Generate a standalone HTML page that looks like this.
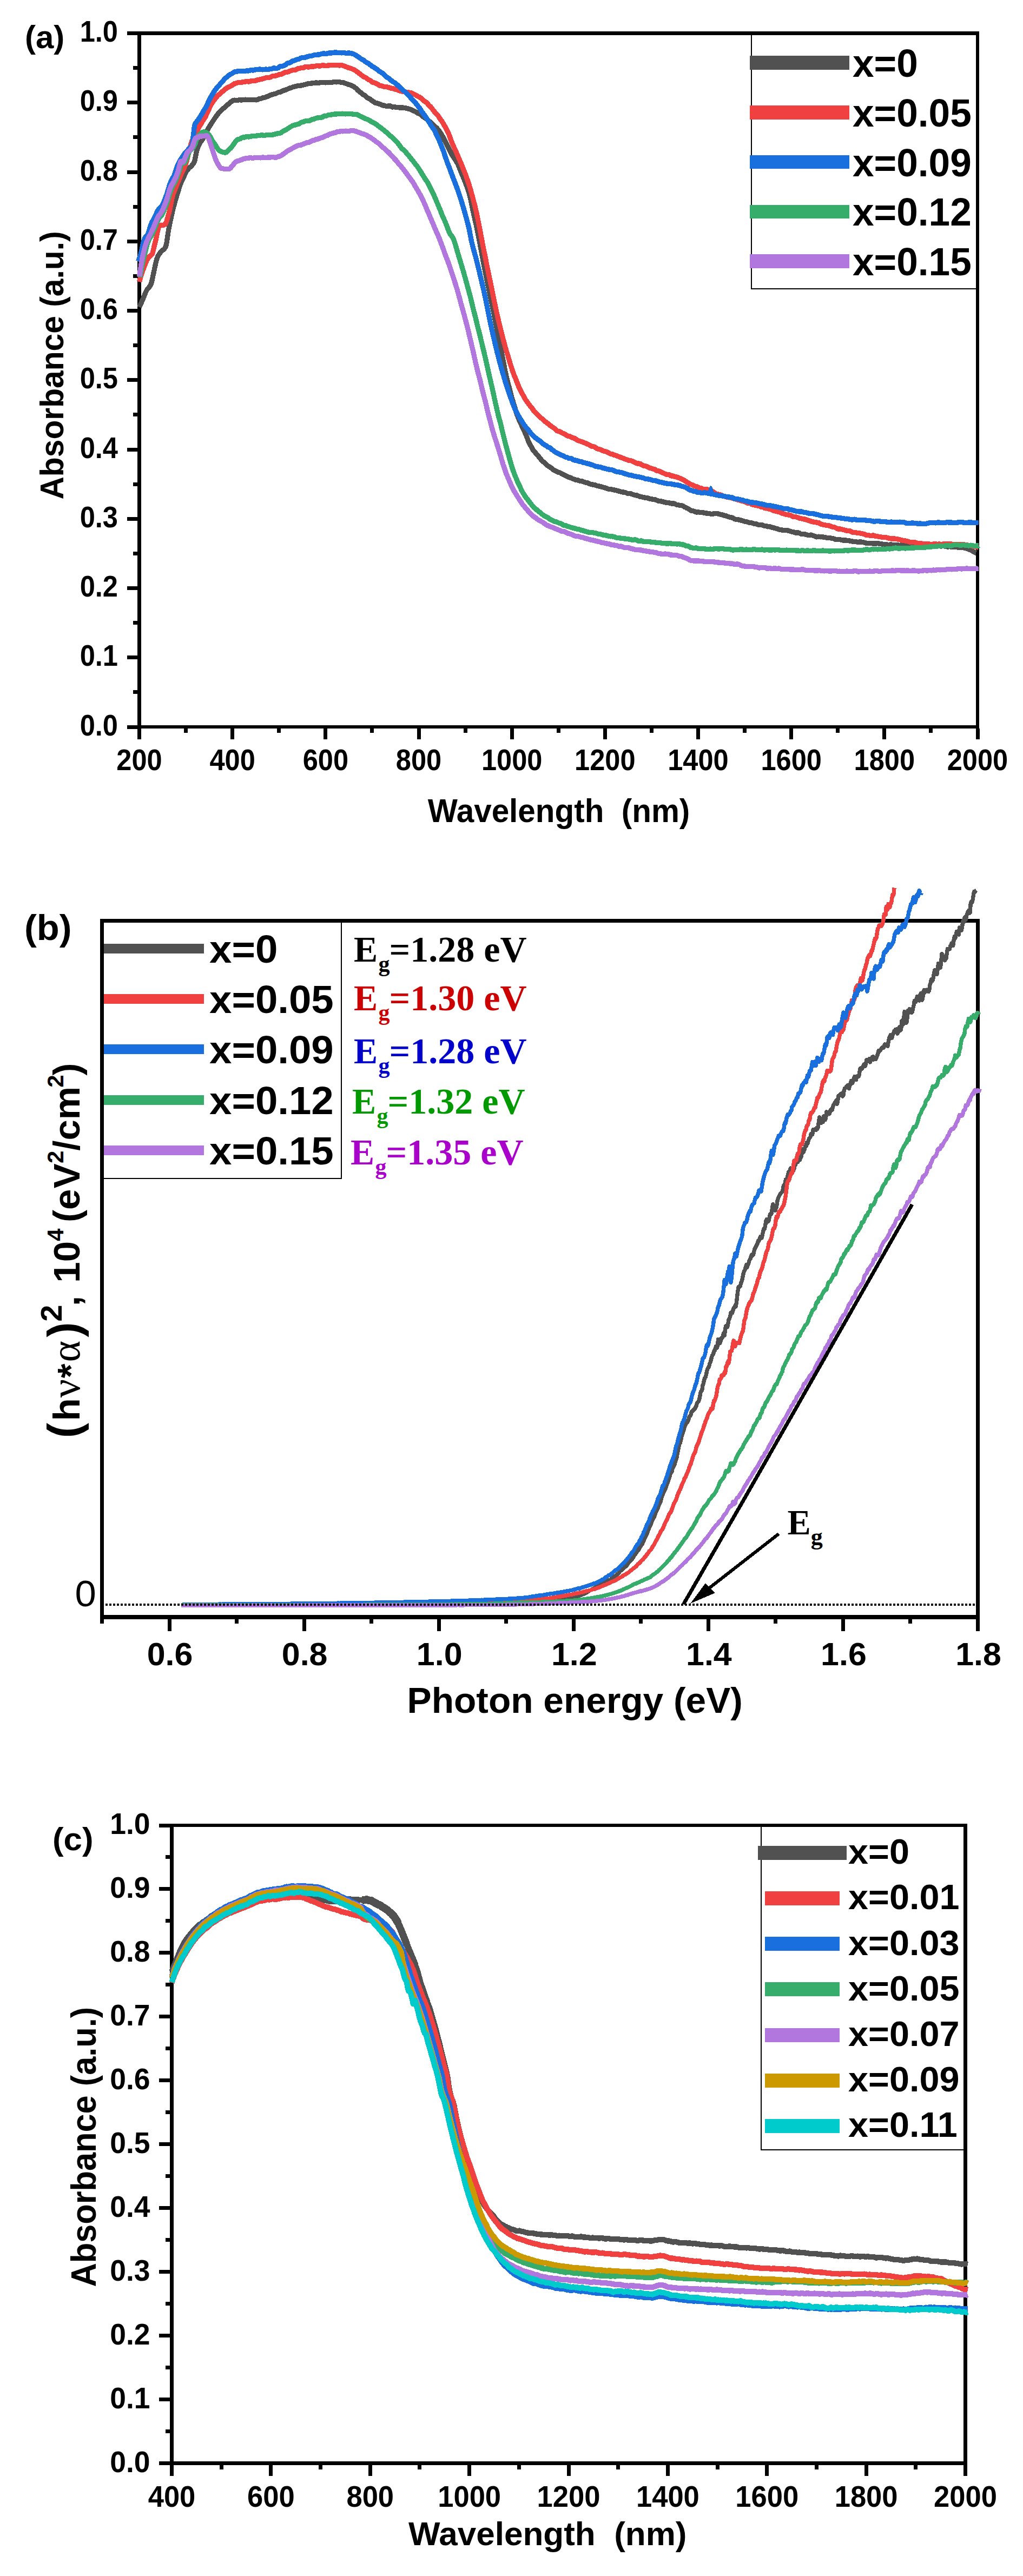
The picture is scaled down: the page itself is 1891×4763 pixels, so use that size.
<!DOCTYPE html>
<html><head><meta charset="utf-8"><title>Absorbance spectra</title>
<style>
html,body{margin:0;padding:0;background:#fff;overflow:hidden;width:1891px;height:4763px;}
svg{display:block;}
text{white-space:pre;}
</style></head><body>
<svg width="1891" height="4763" viewBox="0 0 1891 4763" shape-rendering="crispEdges">
<rect x="0" y="0" width="1891" height="4763" fill="#fff"/>

<rect x="254" y="58" width="7" height="1289" fill="#000"/>
<rect x="1804" y="58" width="6" height="1289" fill="#000"/>
<rect x="254" y="58" width="1556" height="7" fill="#000"/>
<rect x="254" y="1341" width="1556" height="6" fill="#000"/>
<rect x="235" y="1340.5" width="19" height="7" fill="#000"/>
<text transform="translate(218 1359.7) scale(0.912 1)" font-family='"Liberation Sans", Arial, Helvetica, sans-serif' font-size="55.5" font-weight="bold" text-anchor="end" fill="#000">0.0</text>
<rect x="246" y="1276.38" width="8" height="7" fill="#000"/>
<rect x="235" y="1212.25" width="19" height="7" fill="#000"/>
<text transform="translate(218 1231.45) scale(0.912 1)" font-family='"Liberation Sans", Arial, Helvetica, sans-serif' font-size="55.5" font-weight="bold" text-anchor="end" fill="#000">0.1</text>
<rect x="246" y="1148.12" width="8" height="7" fill="#000"/>
<rect x="235" y="1084" width="19" height="7" fill="#000"/>
<text transform="translate(218 1103.2) scale(0.912 1)" font-family='"Liberation Sans", Arial, Helvetica, sans-serif' font-size="55.5" font-weight="bold" text-anchor="end" fill="#000">0.2</text>
<rect x="246" y="1019.88" width="8" height="7" fill="#000"/>
<rect x="235" y="955.75" width="19" height="7" fill="#000"/>
<text transform="translate(218 974.95) scale(0.912 1)" font-family='"Liberation Sans", Arial, Helvetica, sans-serif' font-size="55.5" font-weight="bold" text-anchor="end" fill="#000">0.3</text>
<rect x="246" y="891.625" width="8" height="7" fill="#000"/>
<rect x="235" y="827.5" width="19" height="7" fill="#000"/>
<text transform="translate(218 846.7) scale(0.912 1)" font-family='"Liberation Sans", Arial, Helvetica, sans-serif' font-size="55.5" font-weight="bold" text-anchor="end" fill="#000">0.4</text>
<rect x="246" y="763.375" width="8" height="7" fill="#000"/>
<rect x="235" y="699.25" width="19" height="7" fill="#000"/>
<text transform="translate(218 718.45) scale(0.912 1)" font-family='"Liberation Sans", Arial, Helvetica, sans-serif' font-size="55.5" font-weight="bold" text-anchor="end" fill="#000">0.5</text>
<rect x="246" y="635.125" width="8" height="7" fill="#000"/>
<rect x="235" y="571" width="19" height="7" fill="#000"/>
<text transform="translate(218 590.2) scale(0.912 1)" font-family='"Liberation Sans", Arial, Helvetica, sans-serif' font-size="55.5" font-weight="bold" text-anchor="end" fill="#000">0.6</text>
<rect x="246" y="506.875" width="8" height="7" fill="#000"/>
<rect x="235" y="442.75" width="19" height="7" fill="#000"/>
<text transform="translate(218 461.95) scale(0.912 1)" font-family='"Liberation Sans", Arial, Helvetica, sans-serif' font-size="55.5" font-weight="bold" text-anchor="end" fill="#000">0.7</text>
<rect x="246" y="378.625" width="8" height="7" fill="#000"/>
<rect x="235" y="314.5" width="19" height="7" fill="#000"/>
<text transform="translate(218 333.7) scale(0.912 1)" font-family='"Liberation Sans", Arial, Helvetica, sans-serif' font-size="55.5" font-weight="bold" text-anchor="end" fill="#000">0.8</text>
<rect x="246" y="250.375" width="8" height="7" fill="#000"/>
<rect x="235" y="186.25" width="19" height="7" fill="#000"/>
<text transform="translate(218 205.45) scale(0.912 1)" font-family='"Liberation Sans", Arial, Helvetica, sans-serif' font-size="55.5" font-weight="bold" text-anchor="end" fill="#000">0.9</text>
<rect x="246" y="122.125" width="8" height="7" fill="#000"/>
<rect x="235" y="58" width="19" height="7" fill="#000"/>
<text transform="translate(218 77.2) scale(0.912 1)" font-family='"Liberation Sans", Arial, Helvetica, sans-serif' font-size="55.5" font-weight="bold" text-anchor="end" fill="#000">1.0</text>
<rect x="254" y="1347" width="7" height="20" fill="#000"/>
<text transform="translate(257.5 1424) scale(0.925 1)" font-family='"Liberation Sans", Arial, Helvetica, sans-serif' font-size="54.7" font-weight="bold" text-anchor="middle" fill="#000">200</text>
<rect x="340.083" y="1347" width="7" height="7.5" fill="#000"/>
<rect x="426.167" y="1347" width="7" height="20" fill="#000"/>
<text transform="translate(429.667 1424) scale(0.925 1)" font-family='"Liberation Sans", Arial, Helvetica, sans-serif' font-size="54.7" font-weight="bold" text-anchor="middle" fill="#000">400</text>
<rect x="512.25" y="1347" width="7" height="7.5" fill="#000"/>
<rect x="598.333" y="1347" width="7" height="20" fill="#000"/>
<text transform="translate(601.833 1424) scale(0.925 1)" font-family='"Liberation Sans", Arial, Helvetica, sans-serif' font-size="54.7" font-weight="bold" text-anchor="middle" fill="#000">600</text>
<rect x="684.417" y="1347" width="7" height="7.5" fill="#000"/>
<rect x="770.5" y="1347" width="7" height="20" fill="#000"/>
<text transform="translate(774 1424) scale(0.925 1)" font-family='"Liberation Sans", Arial, Helvetica, sans-serif' font-size="54.7" font-weight="bold" text-anchor="middle" fill="#000">800</text>
<rect x="856.583" y="1347" width="7" height="7.5" fill="#000"/>
<rect x="942.667" y="1347" width="7" height="20" fill="#000"/>
<text transform="translate(946.167 1424) scale(0.925 1)" font-family='"Liberation Sans", Arial, Helvetica, sans-serif' font-size="54.7" font-weight="bold" text-anchor="middle" fill="#000">1000</text>
<rect x="1028.75" y="1347" width="7" height="7.5" fill="#000"/>
<rect x="1114.83" y="1347" width="7" height="20" fill="#000"/>
<text transform="translate(1118.33 1424) scale(0.925 1)" font-family='"Liberation Sans", Arial, Helvetica, sans-serif' font-size="54.7" font-weight="bold" text-anchor="middle" fill="#000">1200</text>
<rect x="1200.92" y="1347" width="7" height="7.5" fill="#000"/>
<rect x="1287" y="1347" width="7" height="20" fill="#000"/>
<text transform="translate(1290.5 1424) scale(0.925 1)" font-family='"Liberation Sans", Arial, Helvetica, sans-serif' font-size="54.7" font-weight="bold" text-anchor="middle" fill="#000">1400</text>
<rect x="1373.08" y="1347" width="7" height="7.5" fill="#000"/>
<rect x="1459.17" y="1347" width="7" height="20" fill="#000"/>
<text transform="translate(1462.67 1424) scale(0.925 1)" font-family='"Liberation Sans", Arial, Helvetica, sans-serif' font-size="54.7" font-weight="bold" text-anchor="middle" fill="#000">1600</text>
<rect x="1545.25" y="1347" width="7" height="7.5" fill="#000"/>
<rect x="1631.33" y="1347" width="7" height="20" fill="#000"/>
<text transform="translate(1634.83 1424) scale(0.925 1)" font-family='"Liberation Sans", Arial, Helvetica, sans-serif' font-size="54.7" font-weight="bold" text-anchor="middle" fill="#000">1800</text>
<rect x="1717.42" y="1347" width="7" height="7.5" fill="#000"/>
<rect x="1803.5" y="1347" width="7" height="20" fill="#000"/>
<text transform="translate(1807 1424) scale(0.925 1)" font-family='"Liberation Sans", Arial, Helvetica, sans-serif' font-size="54.7" font-weight="bold" text-anchor="middle" fill="#000">2000</text>
<text transform="translate(46 88.5)" font-family='"Liberation Sans", Arial, Helvetica, sans-serif' font-size="60" font-weight="bold" text-anchor="start" fill="#000">(a)</text>
<text transform="translate(1033 1519.5) scale(0.95 1)" font-family='"Liberation Sans", Arial, Helvetica, sans-serif' font-size="61.5" font-weight="bold" text-anchor="middle" fill="#000">Wavelength  (nm)</text>
<text transform="translate(117 675.5) rotate(-90) scale(0.968 1)" font-family='"Liberation Sans", Arial, Helvetica, sans-serif' font-size="60.7" font-weight="bold" text-anchor="middle" fill="#000">Absorbance (a.u.)</text>
<path d="M257.6,568.0 L259.6,563.7 L261.6,559.1 L263.6,554.3 L265.6,549.4 L267.6,544.5 L269.6,539.8 L271.6,535.8 L273.6,533.2 L275.6,531.0 L277.6,528.2 L279.6,524.1 L281.6,516.1 L283.6,506.2 L285.6,497.3 L287.6,487.8 L289.6,479.4 L291.6,474.3 L293.6,470.9 L295.6,468.0 L297.6,465.7 L299.6,463.4 L301.6,462.0 L303.6,460.2 L305.6,457.5 L307.6,451.8 L309.6,438.4 L311.6,425.1 L313.6,414.6 L315.6,405.2 L317.6,396.3 L319.6,387.7 L321.6,379.9 L323.6,372.6 L325.6,365.8 L327.6,359.1 L329.6,352.7 L331.6,346.3 L333.6,340.3 L335.6,335.6 L337.6,331.6 L339.6,327.4 L341.6,322.8 L343.6,318.4 L345.6,315.3 L347.6,313.0 L349.6,310.7 L351.6,308.9 L353.6,307.1 L355.6,304.9 L357.6,302.2 L359.6,298.4 L361.6,288.4 L363.6,278.5 L365.6,273.1 L367.6,268.3 L369.6,264.3 L371.6,261.6 L373.6,259.0 L375.6,255.6 L377.6,251.5 L379.6,247.3 L381.6,243.7 L383.6,240.2 L385.6,236.6 L387.6,233.3 L389.6,230.2 L391.6,226.8 L393.6,223.9 L395.6,220.9 L397.6,217.8 L399.6,215.1 L401.6,212.3 L403.6,209.8 L405.6,207.7 L407.6,205.4 L409.6,203.2 L411.6,201.3 L413.6,199.9 L415.6,198.6 L417.6,196.8 L419.6,194.8 L421.6,192.9 L423.6,191.3 L425.6,189.8 L427.6,187.9 L429.6,186.3 L431.6,185.5 L433.6,185.1 L435.6,185.3 L437.6,185.3 L439.6,185.2 L441.6,184.9 L443.6,184.8 L445.6,185.0 L447.6,184.9 L449.6,184.7 L451.6,184.3 L453.6,184.1 L455.6,184.4 L457.6,184.7 L459.6,184.7 L461.6,184.5 L463.6,184.6 L465.6,184.6 L467.6,184.6 L469.6,184.5 L471.6,184.6 L473.6,184.9 L475.6,184.5 L477.6,183.4 L479.6,182.5 L481.6,182.3 L483.6,181.8 L485.6,181.0 L487.6,180.7 L489.6,180.2 L491.6,179.3 L493.6,178.7 L495.6,178.0 L497.6,176.9 L499.6,176.0 L501.6,175.4 L503.6,174.7 L505.6,174.1 L507.6,173.7 L509.6,173.2 L511.6,172.2 L513.6,171.2 L515.6,170.6 L517.6,170.2 L519.6,169.7 L521.6,168.4 L523.6,167.5 L525.6,167.0 L527.6,166.4 L529.6,165.7 L531.6,164.8 L533.6,163.7 L535.6,163.0 L537.6,162.5 L539.6,161.7 L541.6,160.7 L543.6,160.2 L545.6,159.9 L547.6,159.4 L549.6,158.9 L551.6,158.7 L553.6,158.8 L555.6,158.4 L557.6,157.7 L559.6,157.4 L561.6,156.9 L563.6,156.3 L565.6,155.9 L567.6,155.3 L569.6,154.7 L571.6,154.6 L573.6,154.3 L575.6,154.0 L577.6,153.9 L579.6,153.7 L581.6,153.2 L583.6,152.9 L585.6,153.0 L587.6,153.5 L589.6,153.3 L591.6,152.5 L593.6,152.4 L595.6,152.5 L597.6,152.4 L599.6,152.6 L601.6,152.9 L603.6,152.5 L605.6,152.2 L607.6,152.5 L609.6,152.4 L611.6,152.3 L613.6,152.3 L615.6,151.8 L617.6,151.3 L619.6,151.5 L621.6,151.9 L623.6,151.8 L625.6,151.4 L627.6,151.5 L629.6,152.1 L631.6,152.4 L633.6,152.4 L635.6,153.0 L637.6,153.9 L639.6,154.6 L641.6,155.3 L643.6,156.0 L645.6,156.6 L647.6,157.3 L649.6,158.1 L651.6,158.9 L653.6,160.1 L655.6,161.3 L657.6,163.0 L659.6,165.0 L661.6,167.1 L663.6,168.9 L665.6,170.4 L667.6,171.8 L669.6,173.5 L671.6,175.0 L673.6,176.1 L675.6,177.6 L677.6,179.6 L679.6,181.3 L681.6,182.0 L683.6,183.0 L685.6,184.7 L687.6,186.2 L689.6,187.3 L691.6,188.7 L693.6,190.1 L695.6,190.7 L697.6,191.0 L699.6,191.7 L701.6,192.4 L703.6,193.1 L705.6,194.1 L707.6,194.9 L709.6,195.0 L711.6,195.5 L713.6,196.2 L715.6,196.2 L717.6,196.0 L719.6,195.9 L721.6,195.9 L723.6,197.0 L725.6,198.0 L727.6,197.8 L729.6,197.8 L731.6,198.3 L733.6,198.2 L735.6,198.3 L737.6,198.9 L739.6,199.2 L741.6,199.1 L743.6,198.8 L745.6,199.2 L747.6,199.3 L749.6,199.6 L751.6,200.4 L753.6,200.8 L755.6,201.3 L757.6,201.9 L759.6,202.5 L761.6,203.5 L763.6,204.8 L765.6,205.6 L767.6,206.2 L769.6,207.4 L771.6,208.9 L773.6,209.9 L775.6,210.7 L777.6,211.9 L779.6,213.5 L781.6,215.3 L783.6,217.0 L785.6,218.3 L787.6,219.4 L789.6,220.9 L791.6,222.7 L793.6,224.3 L795.6,225.7 L797.6,227.4 L799.6,229.5 L801.6,231.7 L803.6,233.4 L805.6,235.2 L807.6,237.1 L809.6,239.2 L811.6,241.9 L813.6,244.7 L815.6,247.8 L817.6,251.2 L819.6,254.6 L821.6,258.6 L823.6,262.9 L825.6,267.0 L827.6,270.8 L829.6,274.4 L831.6,278.4 L833.6,282.8 L835.6,286.6 L837.6,289.6 L839.6,292.5 L841.6,295.7 L843.6,298.8 L845.6,302.1 L847.6,306.4 L849.6,311.6 L851.6,316.6 L853.6,321.3 L855.6,326.0 L857.6,330.9 L859.6,335.9 L861.6,341.2 L863.6,346.9 L865.6,352.3 L867.6,358.6 L869.6,367.1 L871.6,376.8 L873.6,386.8 L875.6,396.0 L877.6,404.6 L879.6,413.1 L881.6,422.4 L883.6,432.6 L885.6,442.9 L887.6,453.2 L889.6,463.8 L891.6,474.9 L893.6,485.8 L895.6,496.0 L897.6,506.0 L899.6,515.9 L901.6,525.5 L903.6,535.0 L905.6,544.6 L907.6,554.3 L909.6,564.0 L911.6,573.2 L913.6,583.0 L915.6,593.7 L917.6,603.9 L919.6,613.7 L921.6,623.8 L923.6,633.4 L925.6,643.3 L927.6,653.7 L929.6,664.3 L931.6,674.6 L933.6,684.8 L935.6,694.3 L937.6,702.5 L939.6,710.2 L941.6,717.8 L943.6,725.6 L945.6,733.4 L947.6,740.3 L949.6,746.7 L951.6,753.2 L953.6,760.2 L955.6,766.5 L957.6,771.6 L959.6,776.3 L961.6,781.0 L963.6,785.2 L965.6,789.4 L967.6,793.8 L969.6,798.1 L971.6,802.6 L973.6,807.2 L975.6,812.8 L977.6,818.0 L979.6,821.5 L981.6,825.1 L983.6,829.0 L985.6,832.3 L987.6,834.7 L989.6,837.0 L991.6,839.6 L993.6,841.9 L995.6,844.0 L997.6,846.4 L999.6,849.1 L1001.6,851.3 L1003.6,853.2 L1005.6,855.0 L1007.6,856.7 L1009.6,858.8 L1011.6,860.7 L1013.6,861.9 L1015.6,863.1 L1017.6,864.4 L1019.6,865.8 L1021.6,867.6 L1023.6,869.1 L1025.6,870.1 L1027.6,871.1 L1029.6,872.3 L1031.6,873.0 L1033.6,873.5 L1035.6,874.2 L1037.6,875.5 L1039.6,876.7 L1041.6,877.6 L1043.6,878.6 L1045.6,879.6 L1047.6,880.6 L1049.6,881.5 L1051.6,882.4 L1053.6,883.1 L1055.6,883.7 L1057.6,884.8 L1059.6,885.6 L1061.6,886.2 L1063.6,887.2 L1065.6,887.6 L1067.6,887.5 L1069.6,888.4 L1071.6,889.3 L1073.6,889.5 L1075.6,889.7 L1077.6,890.5 L1079.6,891.2 L1081.6,891.9 L1083.6,892.3 L1085.6,892.7 L1087.6,893.5 L1089.6,894.4 L1091.6,895.2 L1093.6,895.8 L1095.6,896.0 L1097.6,896.2 L1099.6,896.7 L1101.6,897.5 L1103.6,898.3 L1105.6,898.8 L1107.6,899.0 L1109.6,899.5 L1111.6,900.0 L1113.6,900.4 L1115.6,901.3 L1117.6,901.9 L1119.6,902.2 L1121.6,903.0 L1123.6,903.9 L1125.6,904.3 L1127.6,904.5 L1129.6,904.7 L1131.6,905.2 L1133.6,905.7 L1135.6,906.0 L1137.6,906.4 L1139.6,906.9 L1141.6,907.3 L1143.6,908.1 L1145.6,908.8 L1147.6,909.1 L1149.6,909.7 L1151.6,910.1 L1153.6,910.1 L1155.6,910.5 L1157.6,911.3 L1159.6,912.2 L1161.6,912.7 L1163.6,912.6 L1165.6,912.6 L1167.6,913.5 L1169.6,914.2 L1171.6,914.8 L1173.6,915.6 L1175.6,915.9 L1177.6,916.0 L1179.6,916.8 L1181.6,917.8 L1183.6,918.3 L1185.6,918.5 L1187.6,919.1 L1189.6,919.8 L1191.6,920.1 L1193.6,920.2 L1195.6,920.5 L1197.6,921.0 L1199.6,921.8 L1201.6,922.2 L1203.6,922.3 L1205.6,923.0 L1207.6,923.8 L1209.6,923.6 L1211.6,923.8 L1213.6,924.9 L1215.6,925.8 L1217.6,926.2 L1219.6,926.4 L1221.6,926.7 L1223.6,927.4 L1225.6,927.9 L1227.6,928.2 L1229.6,928.8 L1231.6,929.2 L1233.6,929.2 L1235.6,929.4 L1237.6,930.1 L1239.6,930.6 L1241.6,931.0 L1243.6,931.0 L1245.6,930.8 L1247.6,931.7 L1249.6,932.9 L1251.6,933.4 L1253.6,933.6 L1255.6,934.1 L1257.6,934.6 L1259.6,934.8 L1261.6,935.1 L1263.6,936.2 L1265.6,937.4 L1267.6,938.2 L1269.6,939.4 L1271.6,940.3 L1273.6,941.3 L1275.6,943.0 L1277.6,944.2 L1279.6,944.7 L1281.6,944.9 L1283.6,945.3 L1285.6,946.5 L1287.6,947.1 L1289.6,946.8 L1291.6,946.9 L1293.6,947.5 L1295.6,947.7 L1297.6,947.7 L1299.6,947.8 L1301.6,948.2 L1303.6,948.7 L1305.6,949.0 L1307.6,949.1 L1309.6,949.3 L1311.6,949.7 L1313.6,950.2 L1315.6,950.6 L1317.6,950.3 L1319.6,949.7 L1321.6,949.5 L1323.6,949.7 L1325.6,949.8 L1327.6,950.0 L1329.6,950.6 L1331.6,951.2 L1333.6,951.5 L1335.6,952.0 L1337.6,952.9 L1339.6,953.2 L1341.6,953.6 L1343.6,954.5 L1345.6,955.2 L1347.6,955.9 L1349.6,956.5 L1351.6,956.8 L1353.6,957.2 L1355.6,958.2 L1357.6,959.6 L1359.6,960.3 L1361.6,960.5 L1363.6,960.8 L1365.6,961.0 L1367.6,961.3 L1369.6,962.1 L1371.6,962.7 L1373.6,963.2 L1375.6,963.9 L1377.6,964.3 L1379.6,964.5 L1381.6,965.1 L1383.6,965.9 L1385.6,966.3 L1387.6,966.3 L1389.6,966.8 L1391.6,967.6 L1393.6,968.2 L1395.6,968.3 L1397.6,968.7 L1399.6,969.5 L1401.6,970.2 L1403.6,970.8 L1405.6,970.8 L1407.6,970.4 L1409.6,971.0 L1411.6,972.0 L1413.6,972.3 L1415.6,972.4 L1417.6,973.1 L1419.6,973.9 L1421.6,973.8 L1423.6,974.0 L1425.6,974.8 L1427.6,975.3 L1429.6,975.8 L1431.6,976.3 L1433.6,976.8 L1435.6,977.4 L1437.6,978.1 L1439.6,978.9 L1441.6,979.4 L1443.6,979.7 L1445.6,980.1 L1447.6,980.2 L1449.6,980.2 L1451.6,980.3 L1453.6,980.6 L1455.6,980.9 L1457.6,981.2 L1459.6,981.9 L1461.6,982.5 L1463.6,983.1 L1465.6,983.6 L1467.6,984.0 L1469.6,984.8 L1471.6,985.2 L1473.6,985.1 L1475.6,985.0 L1477.6,985.7 L1479.6,986.9 L1481.6,987.6 L1483.6,987.6 L1485.6,987.6 L1487.6,987.8 L1489.6,988.3 L1491.6,988.9 L1493.6,989.4 L1495.6,989.7 L1497.6,989.2 L1499.6,989.1 L1501.6,989.8 L1503.6,990.5 L1505.6,991.2 L1507.6,992.2 L1509.6,992.9 L1511.6,992.6 L1513.6,992.1 L1515.6,992.6 L1517.6,992.9 L1519.6,992.8 L1521.6,993.0 L1523.6,993.5 L1525.6,993.7 L1527.6,994.2 L1529.6,994.8 L1531.6,994.8 L1533.6,994.7 L1535.6,994.9 L1537.6,995.4 L1539.6,995.7 L1541.6,996.2 L1543.6,997.0 L1545.6,997.5 L1547.6,997.7 L1549.6,997.4 L1551.6,997.3 L1553.6,997.9 L1555.6,998.4 L1557.6,998.8 L1559.6,999.3 L1561.6,999.0 L1563.6,999.0 L1565.6,999.6 L1567.6,999.6 L1569.6,999.7 L1571.6,1000.3 L1573.6,1000.8 L1575.6,1001.1 L1577.6,1001.2 L1579.6,1001.2 L1581.6,1001.4 L1583.6,1001.9 L1585.6,1002.4 L1587.6,1002.2 L1589.6,1001.8 L1591.6,1002.0 L1593.6,1002.4 L1595.6,1002.6 L1597.6,1003.2 L1599.6,1003.8 L1601.6,1004.2 L1603.6,1004.5 L1605.6,1004.4 L1607.6,1004.4 L1609.6,1004.5 L1611.6,1004.7 L1613.6,1005.0 L1615.6,1005.1 L1617.6,1005.1 L1619.6,1005.1 L1621.6,1004.7 L1623.6,1004.9 L1625.6,1005.2 L1627.6,1005.2 L1629.6,1005.8 L1631.6,1006.3 L1633.6,1006.5 L1635.6,1006.8 L1637.6,1006.9 L1639.6,1007.0 L1641.6,1007.4 L1643.6,1007.4 L1645.6,1006.9 L1647.6,1006.9 L1649.6,1007.6 L1651.6,1008.1 L1653.6,1007.9 L1655.6,1007.8 L1657.6,1007.6 L1659.6,1007.5 L1661.6,1008.2 L1663.6,1008.5 L1665.6,1008.0 L1667.6,1008.0 L1669.6,1008.5 L1671.6,1008.3 L1673.6,1008.4 L1675.6,1009.0 L1677.6,1009.1 L1679.6,1009.4 L1681.6,1009.9 L1683.6,1009.7 L1685.6,1009.5 L1687.6,1009.7 L1689.6,1009.8 L1691.6,1009.6 L1693.6,1009.8 L1695.6,1010.2 L1697.6,1010.6 L1699.6,1010.9 L1701.6,1010.5 L1703.6,1009.9 L1705.6,1010.1 L1707.6,1010.5 L1709.6,1010.8 L1711.6,1010.8 L1713.6,1010.3 L1715.6,1010.4 L1717.6,1010.5 L1719.6,1010.1 L1721.6,1010.0 L1723.6,1010.6 L1725.6,1010.8 L1727.6,1010.7 L1729.6,1010.3 L1731.6,1009.6 L1733.6,1009.7 L1735.6,1009.7 L1737.6,1009.8 L1739.6,1010.0 L1741.6,1009.8 L1743.6,1009.8 L1745.6,1009.9 L1747.6,1009.9 L1749.6,1010.6 L1751.6,1011.2 L1753.6,1010.9 L1755.6,1010.7 L1757.6,1011.1 L1759.6,1011.3 L1761.6,1011.3 L1763.6,1011.6 L1765.6,1011.8 L1767.6,1011.8 L1769.6,1011.9 L1771.6,1012.3 L1773.6,1012.7 L1775.6,1012.6 L1777.6,1012.1 L1779.6,1012.4 L1781.6,1012.9 L1783.6,1013.4 L1785.6,1013.9 L1787.6,1014.4 L1789.6,1015.2 L1791.6,1016.2 L1793.6,1016.9 L1795.6,1017.6 L1797.6,1018.9 L1799.6,1020.1 L1801.6,1021.0 L1803.6,1022.3 L1803.9,1022.3" fill="none" stroke="#515151" stroke-width="9.3" stroke-linejoin="round" stroke-linecap="butt"/>
<path d="M257.6,521.1 L259.6,513.5 L261.6,506.5 L263.6,500.8 L265.6,495.8 L267.6,490.4 L269.6,485.1 L271.6,480.8 L273.6,477.6 L275.6,474.8 L277.6,473.1 L279.6,471.8 L281.6,469.2 L283.6,462.0 L285.6,453.0 L287.6,445.2 L289.6,436.1 L291.6,426.3 L293.6,418.8 L295.6,416.4 L297.6,416.1 L299.6,416.7 L301.6,416.5 L303.6,415.6 L305.6,414.4 L307.6,410.1 L309.6,403.5 L311.6,396.2 L313.6,388.9 L315.6,379.3 L317.6,369.0 L319.6,360.4 L321.6,354.8 L323.6,349.9 L325.6,345.2 L327.6,340.2 L329.6,335.1 L331.6,330.7 L333.6,325.7 L335.6,320.3 L337.6,316.2 L339.6,312.4 L341.6,307.7 L343.6,302.1 L345.6,295.4 L347.6,287.6 L349.6,279.3 L351.6,271.1 L353.6,264.4 L355.6,259.2 L357.6,254.8 L359.6,250.8 L361.6,246.9 L363.6,242.9 L365.6,239.1 L367.6,235.5 L369.6,232.3 L371.6,229.0 L373.6,225.6 L375.6,222.0 L377.6,219.0 L379.6,216.1 L381.6,211.8 L383.6,207.3 L385.6,203.3 L387.6,198.7 L389.6,194.4 L391.6,191.2 L393.6,188.3 L395.6,185.6 L397.6,182.9 L399.6,180.2 L401.6,177.8 L403.6,175.8 L405.6,174.1 L407.6,172.5 L409.6,170.6 L411.6,168.9 L413.6,167.6 L415.6,165.8 L417.6,163.9 L419.6,162.5 L421.6,161.4 L423.6,160.6 L425.6,159.8 L427.6,158.5 L429.6,157.3 L431.6,155.9 L433.6,154.6 L435.6,154.1 L437.6,153.5 L439.6,152.7 L441.6,152.7 L443.6,152.7 L445.6,152.2 L447.6,152.0 L449.6,151.7 L451.6,151.3 L453.6,151.0 L455.6,150.6 L457.6,150.7 L459.6,151.1 L461.6,150.7 L463.6,150.0 L465.6,149.5 L467.6,149.4 L469.6,149.5 L471.6,149.4 L473.6,148.7 L475.6,147.9 L477.6,147.5 L479.6,147.2 L481.6,146.6 L483.6,146.1 L485.6,145.8 L487.6,145.2 L489.6,144.3 L491.6,143.8 L493.6,143.5 L495.6,143.4 L497.6,143.3 L499.6,142.9 L501.6,141.7 L503.6,140.8 L505.6,140.7 L507.6,140.4 L509.6,140.0 L511.6,139.7 L513.6,138.8 L515.6,137.8 L517.6,137.4 L519.6,137.2 L521.6,136.7 L523.6,135.5 L525.6,134.3 L527.6,133.7 L529.6,133.3 L531.6,133.1 L533.6,132.6 L535.6,131.6 L537.6,130.7 L539.6,130.1 L541.6,129.5 L543.6,129.4 L545.6,129.4 L547.6,128.4 L549.6,127.1 L551.6,126.8 L553.6,126.6 L555.6,125.8 L557.6,125.5 L559.6,125.7 L561.6,125.1 L563.6,124.0 L565.6,123.6 L567.6,123.8 L569.6,124.0 L571.6,123.9 L573.6,123.4 L575.6,122.9 L577.6,122.9 L579.6,123.0 L581.6,122.6 L583.6,122.1 L585.6,121.7 L587.6,121.6 L589.6,122.1 L591.6,122.2 L593.6,121.4 L595.6,120.9 L597.6,120.8 L599.6,121.2 L601.6,121.6 L603.6,121.5 L605.6,121.1 L607.6,121.0 L609.6,120.8 L611.6,120.6 L613.6,120.8 L615.6,120.7 L617.6,120.5 L619.6,120.5 L621.6,120.6 L623.6,120.6 L625.6,120.7 L627.6,121.0 L629.6,120.8 L631.6,120.5 L633.6,121.2 L635.6,121.9 L637.6,122.6 L639.6,123.4 L641.6,124.2 L643.6,125.3 L645.6,125.8 L647.6,126.1 L649.6,126.9 L651.6,127.8 L653.6,128.7 L655.6,129.6 L657.6,130.8 L659.6,132.3 L661.6,133.8 L663.6,135.2 L665.6,136.9 L667.6,138.5 L669.6,139.9 L671.6,141.5 L673.6,142.5 L675.6,143.2 L677.6,144.6 L679.6,146.2 L681.6,147.4 L683.6,148.2 L685.6,149.8 L687.6,151.5 L689.6,152.4 L691.6,152.8 L693.6,153.5 L695.6,154.4 L697.6,155.5 L699.6,156.8 L701.6,158.0 L703.6,158.6 L705.6,158.8 L707.6,159.4 L709.6,160.2 L711.6,160.5 L713.6,160.6 L715.6,160.9 L717.6,161.4 L719.6,162.1 L721.6,162.8 L723.6,163.3 L725.6,163.4 L727.6,164.0 L729.6,164.8 L731.6,165.4 L733.6,165.9 L735.6,166.7 L737.6,167.5 L739.6,168.0 L741.6,168.4 L743.6,169.1 L745.6,169.4 L747.6,169.5 L749.6,170.2 L751.6,171.1 L753.6,171.1 L755.6,171.0 L757.6,171.3 L759.6,171.7 L761.6,172.6 L763.6,173.6 L765.6,174.5 L767.6,175.3 L769.6,176.3 L771.6,177.7 L773.6,178.8 L775.6,179.7 L777.6,181.1 L779.6,182.6 L781.6,184.4 L783.6,186.2 L785.6,187.9 L787.6,188.9 L789.6,190.6 L791.6,193.4 L793.6,195.4 L795.6,197.0 L797.6,199.4 L799.6,202.1 L801.6,204.8 L803.6,207.2 L805.6,209.2 L807.6,211.4 L809.6,213.7 L811.6,216.7 L813.6,220.0 L815.6,222.5 L817.6,225.4 L819.6,229.0 L821.6,232.3 L823.6,235.5 L825.6,239.3 L827.6,243.4 L829.6,247.9 L831.6,253.3 L833.6,259.1 L835.6,264.2 L837.6,268.6 L839.6,273.2 L841.6,277.8 L843.6,282.1 L845.6,286.5 L847.6,291.3 L849.6,296.0 L851.6,300.6 L853.6,305.4 L855.6,310.4 L857.6,315.4 L859.6,320.4 L861.6,325.8 L863.6,331.4 L865.6,337.2 L867.6,343.5 L869.6,350.2 L871.6,357.2 L873.6,364.7 L875.6,372.3 L877.6,379.9 L879.6,388.2 L881.6,397.4 L883.6,406.8 L885.6,416.6 L887.6,427.3 L889.6,438.1 L891.6,448.8 L893.6,459.1 L895.6,468.6 L897.6,478.5 L899.6,488.8 L901.6,498.7 L903.6,508.4 L905.6,517.7 L907.6,527.2 L909.6,537.0 L911.6,546.9 L913.6,556.7 L915.6,566.5 L917.6,576.1 L919.6,584.7 L921.6,593.1 L923.6,601.4 L925.6,609.3 L927.6,617.3 L929.6,625.2 L931.6,632.8 L933.6,640.4 L935.6,647.4 L937.6,653.6 L939.6,660.3 L941.6,667.2 L943.6,673.6 L945.6,680.0 L947.6,686.2 L949.6,691.8 L951.6,696.7 L953.6,701.7 L955.6,706.7 L957.6,711.7 L959.6,716.7 L961.6,721.1 L963.6,724.9 L965.6,728.4 L967.6,732.0 L969.6,735.8 L971.6,739.2 L973.6,742.0 L975.6,744.8 L977.6,747.6 L979.6,750.1 L981.6,752.5 L983.6,754.9 L985.6,758.0 L987.6,760.8 L989.6,762.6 L991.6,764.7 L993.6,766.7 L995.6,768.2 L997.6,770.4 L999.6,772.4 L1001.6,773.9 L1003.6,775.8 L1005.6,778.0 L1007.6,779.4 L1009.6,780.6 L1011.6,782.3 L1013.6,783.9 L1015.6,785.6 L1017.6,787.0 L1019.6,788.4 L1021.6,789.9 L1023.6,791.2 L1025.6,792.8 L1027.6,794.7 L1029.6,796.4 L1031.6,797.2 L1033.6,797.7 L1035.6,798.4 L1037.6,799.7 L1039.6,800.8 L1041.6,801.5 L1043.6,802.4 L1045.6,803.7 L1047.6,805.0 L1049.6,806.1 L1051.6,806.3 L1053.6,806.8 L1055.6,808.0 L1057.6,809.1 L1059.6,809.9 L1061.6,810.2 L1063.6,811.2 L1065.6,812.9 L1067.6,814.2 L1069.6,814.8 L1071.6,815.4 L1073.6,816.3 L1075.6,816.8 L1077.6,817.5 L1079.6,818.4 L1081.6,819.3 L1083.6,820.1 L1085.6,821.1 L1087.6,821.9 L1089.6,822.8 L1091.6,824.0 L1093.6,825.0 L1095.6,825.5 L1097.6,825.9 L1099.6,826.7 L1101.6,828.0 L1103.6,829.6 L1105.6,830.2 L1107.6,830.3 L1109.6,831.2 L1111.6,832.2 L1113.6,833.1 L1115.6,833.9 L1117.6,834.4 L1119.6,834.9 L1121.6,835.4 L1123.6,836.3 L1125.6,837.7 L1127.6,838.9 L1129.6,839.3 L1131.6,839.5 L1133.6,840.5 L1135.6,841.4 L1137.6,841.9 L1139.6,842.7 L1141.6,843.5 L1143.6,844.2 L1145.6,845.0 L1147.6,845.7 L1149.6,846.5 L1151.6,847.3 L1153.6,848.1 L1155.6,848.9 L1157.6,849.6 L1159.6,850.3 L1161.6,851.0 L1163.6,851.5 L1165.6,851.7 L1167.6,852.2 L1169.6,853.0 L1171.6,854.0 L1173.6,855.1 L1175.6,856.3 L1177.6,857.0 L1179.6,857.1 L1181.6,857.1 L1183.6,857.7 L1185.6,859.1 L1187.6,860.1 L1189.6,861.2 L1191.6,861.8 L1193.6,861.9 L1195.6,862.4 L1197.6,863.5 L1199.6,864.8 L1201.6,865.5 L1203.6,865.9 L1205.6,866.5 L1207.6,867.1 L1209.6,867.5 L1211.6,868.7 L1213.6,870.1 L1215.6,870.5 L1217.6,870.8 L1219.6,871.7 L1221.6,872.7 L1223.6,873.6 L1225.6,874.4 L1227.6,875.3 L1229.6,876.3 L1231.6,877.1 L1233.6,877.6 L1235.6,877.6 L1237.6,878.0 L1239.6,879.4 L1241.6,880.3 L1243.6,880.0 L1245.6,880.4 L1247.6,881.4 L1249.6,881.8 L1251.6,882.2 L1253.6,883.1 L1255.6,883.9 L1257.6,884.4 L1259.6,885.4 L1261.6,886.8 L1263.6,887.7 L1265.6,888.5 L1267.6,890.0 L1269.6,891.6 L1271.6,892.6 L1273.6,893.7 L1275.6,895.0 L1277.6,895.8 L1279.6,896.5 L1281.6,897.4 L1283.6,898.5 L1285.6,899.3 L1287.6,899.7 L1289.6,900.5 L1291.6,901.5 L1293.6,902.3 L1295.6,902.7 L1297.6,903.6 L1299.6,904.3 L1301.6,904.5 L1303.6,904.8 L1305.6,904.8 L1307.6,904.8 L1309.6,905.7 L1311.6,906.8 L1313.6,907.3 L1315.6,907.6 L1317.6,909.1 L1319.6,910.8 L1321.6,911.7 L1323.6,912.8 L1325.6,913.4 L1327.6,913.9 L1329.6,914.4 L1331.6,914.9 L1333.6,915.6 L1335.6,916.5 L1337.6,917.1 L1339.6,917.8 L1341.6,918.6 L1343.6,919.2 L1345.6,919.8 L1347.6,919.9 L1349.6,919.8 L1351.6,920.2 L1353.6,921.1 L1355.6,921.8 L1357.6,922.4 L1359.6,922.8 L1361.6,923.4 L1363.6,924.2 L1365.6,924.3 L1367.6,924.8 L1369.6,925.9 L1371.6,926.4 L1373.6,926.7 L1375.6,927.5 L1377.6,928.3 L1379.6,929.2 L1381.6,930.1 L1383.6,929.9 L1385.6,929.9 L1387.6,931.3 L1389.6,932.6 L1391.6,933.1 L1393.6,933.3 L1395.6,934.0 L1397.6,934.7 L1399.6,934.9 L1401.6,935.0 L1403.6,935.6 L1405.6,936.7 L1407.6,937.3 L1409.6,937.0 L1411.6,937.8 L1413.6,939.4 L1415.6,939.9 L1417.6,939.8 L1419.6,940.3 L1421.6,941.0 L1423.6,941.6 L1425.6,942.1 L1427.6,943.2 L1429.6,944.1 L1431.6,944.6 L1433.6,945.2 L1435.6,945.8 L1437.6,946.1 L1439.6,946.4 L1441.6,947.1 L1443.6,948.1 L1445.6,949.0 L1447.6,949.5 L1449.6,950.2 L1451.6,951.0 L1453.6,951.4 L1455.6,951.7 L1457.6,952.0 L1459.6,952.2 L1461.6,952.8 L1463.6,953.8 L1465.6,955.0 L1467.6,955.6 L1469.6,955.7 L1471.6,955.8 L1473.6,956.4 L1475.6,957.2 L1477.6,958.0 L1479.6,958.5 L1481.6,958.8 L1483.6,959.4 L1485.6,959.9 L1487.6,959.9 L1489.6,960.4 L1491.6,961.4 L1493.6,962.1 L1495.6,962.6 L1497.6,963.4 L1499.6,964.1 L1501.6,964.4 L1503.6,965.0 L1505.6,965.5 L1507.6,965.6 L1509.6,966.0 L1511.6,966.3 L1513.6,966.7 L1515.6,968.0 L1517.6,969.1 L1519.6,969.5 L1521.6,970.1 L1523.6,970.4 L1525.6,970.9 L1527.6,971.4 L1529.6,971.6 L1531.6,971.8 L1533.6,972.2 L1535.6,973.0 L1537.6,973.9 L1539.6,974.4 L1541.6,974.6 L1543.6,975.3 L1545.6,976.3 L1547.6,977.4 L1549.6,978.1 L1551.6,978.0 L1553.6,978.1 L1555.6,978.6 L1557.6,979.1 L1559.6,979.6 L1561.6,980.1 L1563.6,980.8 L1565.6,981.2 L1567.6,981.3 L1569.6,981.6 L1571.6,981.9 L1573.6,983.0 L1575.6,984.2 L1577.6,984.6 L1579.6,984.5 L1581.6,984.7 L1583.6,985.2 L1585.6,985.5 L1587.6,985.5 L1589.6,985.8 L1591.6,986.4 L1593.6,986.8 L1595.6,987.1 L1597.6,987.5 L1599.6,988.4 L1601.6,989.4 L1603.6,989.4 L1605.6,989.6 L1607.6,990.3 L1609.6,990.7 L1611.6,990.3 L1613.6,989.8 L1615.6,990.2 L1617.6,991.1 L1619.6,991.3 L1621.6,991.6 L1623.6,992.1 L1625.6,992.3 L1627.6,992.6 L1629.6,993.1 L1631.6,993.5 L1633.6,993.6 L1635.6,993.7 L1637.6,993.7 L1639.6,994.2 L1641.6,994.9 L1643.6,995.2 L1645.6,995.6 L1647.6,996.0 L1649.6,996.0 L1651.6,996.0 L1653.6,996.0 L1655.6,996.2 L1657.6,996.7 L1659.6,997.0 L1661.6,997.5 L1663.6,997.9 L1665.6,998.3 L1667.6,999.0 L1669.6,999.2 L1671.6,999.4 L1673.6,1000.0 L1675.6,1000.5 L1677.6,1000.8 L1679.6,1001.5 L1681.6,1002.2 L1683.6,1002.4 L1685.6,1002.4 L1687.6,1002.6 L1689.6,1002.7 L1691.6,1003.0 L1693.6,1003.6 L1695.6,1004.4 L1697.6,1004.5 L1699.6,1004.3 L1701.6,1004.4 L1703.6,1005.0 L1705.6,1005.3 L1707.6,1005.2 L1709.6,1005.8 L1711.6,1006.2 L1713.6,1005.7 L1715.6,1005.5 L1717.6,1006.0 L1719.6,1006.2 L1721.6,1006.3 L1723.6,1006.4 L1725.6,1006.0 L1727.6,1005.5 L1729.6,1005.6 L1731.6,1006.3 L1733.6,1006.4 L1735.6,1005.9 L1737.6,1006.1 L1739.6,1006.5 L1741.6,1006.2 L1743.6,1006.0 L1745.6,1005.6 L1747.6,1005.6 L1749.6,1005.9 L1751.6,1005.8 L1753.6,1005.8 L1755.6,1005.8 L1757.6,1005.9 L1759.6,1006.1 L1761.6,1006.6 L1763.6,1006.8 L1765.6,1006.6 L1767.6,1006.3 L1769.6,1006.2 L1771.6,1006.5 L1773.6,1006.6 L1775.6,1006.3 L1777.6,1006.2 L1779.6,1006.2 L1781.6,1006.7 L1783.6,1007.3 L1785.6,1007.4 L1787.6,1007.5 L1789.6,1008.2 L1791.6,1008.5 L1793.6,1008.6 L1795.6,1009.3 L1797.6,1009.9 L1799.6,1010.2 L1801.6,1010.4 L1803.6,1010.8 L1805.6,1011.4 L1807.6,1011.9 L1808.8,1012.2" fill="none" stroke="#f14040" stroke-width="9.3" stroke-linejoin="round" stroke-linecap="butt"/>
<path d="M255.6,483.2 L257.6,477.9 L259.6,472.0 L261.6,463.8 L263.6,454.4 L265.6,446.0 L267.6,440.6 L269.6,437.6 L271.6,435.6 L273.6,432.7 L275.6,426.5 L277.6,419.2 L279.6,413.8 L281.6,409.6 L283.6,406.0 L285.6,402.3 L287.6,398.0 L289.6,393.7 L291.6,389.6 L293.6,386.1 L295.6,384.0 L297.6,382.8 L299.6,380.2 L301.6,376.4 L303.6,371.6 L305.6,366.4 L307.6,361.2 L309.6,355.1 L311.6,348.1 L313.6,341.8 L315.6,336.5 L317.6,332.1 L319.6,328.6 L321.6,325.0 L323.6,319.6 L325.6,313.0 L327.6,307.3 L329.6,303.1 L331.6,298.8 L333.6,295.3 L335.6,292.5 L337.6,289.4 L339.6,286.1 L341.6,283.6 L343.6,281.8 L345.6,279.5 L347.6,277.0 L349.6,274.9 L351.6,272.9 L353.6,270.2 L355.6,266.5 L357.6,248.6 L359.6,231.9 L361.6,227.5 L363.6,224.8 L365.6,222.5 L367.6,219.7 L369.6,216.6 L371.6,213.3 L373.6,209.8 L375.6,206.3 L377.6,202.9 L379.6,199.9 L381.6,196.3 L383.6,192.0 L385.6,187.4 L387.6,183.2 L389.6,179.4 L391.6,176.1 L393.6,173.0 L395.6,169.6 L397.6,166.5 L399.6,164.0 L401.6,161.7 L403.6,159.7 L405.6,157.3 L407.6,154.6 L409.6,152.4 L411.6,150.3 L413.6,147.9 L415.6,145.6 L417.6,143.8 L419.6,142.2 L421.6,140.4 L423.6,138.9 L425.6,137.6 L427.6,136.7 L429.6,135.7 L431.6,134.0 L433.6,132.8 L435.6,132.7 L437.6,132.3 L439.6,131.6 L441.6,131.6 L443.6,131.5 L445.6,131.2 L447.6,131.2 L449.6,131.5 L451.6,131.8 L453.6,131.5 L455.6,130.8 L457.6,130.9 L459.6,130.9 L461.6,130.1 L463.6,129.8 L465.6,129.8 L467.6,130.0 L469.6,129.7 L471.6,128.9 L473.6,128.5 L475.6,128.5 L477.6,128.4 L479.6,128.0 L481.6,128.1 L483.6,128.6 L485.6,128.9 L487.6,128.8 L489.6,128.3 L491.6,128.0 L493.6,128.3 L495.6,128.5 L497.6,128.0 L499.6,127.7 L501.6,127.5 L503.6,126.7 L505.6,126.0 L507.6,125.9 L509.6,126.3 L511.6,126.4 L513.6,125.9 L515.6,124.5 L517.6,123.0 L519.6,122.3 L521.6,122.2 L523.6,121.9 L525.6,121.1 L527.6,120.0 L529.6,118.2 L531.6,117.0 L533.6,116.6 L535.6,116.2 L537.6,115.0 L539.6,113.5 L541.6,112.6 L543.6,112.2 L545.6,111.5 L547.6,110.4 L549.6,109.9 L551.6,109.6 L553.6,108.7 L555.6,107.5 L557.6,106.8 L559.6,106.7 L561.6,106.4 L563.6,106.2 L565.6,105.7 L567.6,104.9 L569.6,104.3 L571.6,103.9 L573.6,103.6 L575.6,103.3 L577.6,102.9 L579.6,102.2 L581.6,101.6 L583.6,101.4 L585.6,101.2 L587.6,101.0 L589.6,101.0 L591.6,100.6 L593.6,99.8 L595.6,99.3 L597.6,99.0 L599.6,99.0 L601.6,99.5 L603.6,99.4 L605.6,98.7 L607.6,98.1 L609.6,97.9 L611.6,98.1 L613.6,97.8 L615.6,97.5 L617.6,97.2 L619.6,96.8 L621.6,97.0 L623.6,97.3 L625.6,97.3 L627.6,97.2 L629.6,97.4 L631.6,97.9 L633.6,97.7 L635.6,97.2 L637.6,97.9 L639.6,98.8 L641.6,98.7 L643.6,98.0 L645.6,97.9 L647.6,98.7 L649.6,98.9 L651.6,99.1 L653.6,99.9 L655.6,100.8 L657.6,102.0 L659.6,103.3 L661.6,104.7 L663.6,106.0 L665.6,107.4 L667.6,108.9 L669.6,109.9 L671.6,110.9 L673.6,112.4 L675.6,114.2 L677.6,115.8 L679.6,116.6 L681.6,117.7 L683.6,119.3 L685.6,120.9 L687.6,122.5 L689.6,123.7 L691.6,124.7 L693.6,126.1 L695.6,127.4 L697.6,128.6 L699.6,130.3 L701.6,132.1 L703.6,133.3 L705.6,134.3 L707.6,135.8 L709.6,137.5 L711.6,139.5 L713.6,141.4 L715.6,143.1 L717.6,144.2 L719.6,145.5 L721.6,147.3 L723.6,149.1 L725.6,150.6 L727.6,151.8 L729.6,152.8 L731.6,154.3 L733.6,156.2 L735.6,158.1 L737.6,159.7 L739.6,162.0 L741.6,164.0 L743.6,165.4 L745.6,167.3 L747.6,169.0 L749.6,170.6 L751.6,172.8 L753.6,174.8 L755.6,176.8 L757.6,179.0 L759.6,181.1 L761.6,183.3 L763.6,185.3 L765.6,187.2 L767.6,189.6 L769.6,192.4 L771.6,194.8 L773.6,197.3 L775.6,200.0 L777.6,203.0 L779.6,206.3 L781.6,208.9 L783.6,211.5 L785.6,214.4 L787.6,217.4 L789.6,220.6 L791.6,223.5 L793.6,226.4 L795.6,229.6 L797.6,233.1 L799.6,236.2 L801.6,238.4 L803.6,241.8 L805.6,246.3 L807.6,250.4 L809.6,254.4 L811.6,259.1 L813.6,264.2 L815.6,269.1 L817.6,273.7 L819.6,278.9 L821.6,285.1 L823.6,291.2 L825.6,297.0 L827.6,302.4 L829.6,307.4 L831.6,312.7 L833.6,318.3 L835.6,323.7 L837.6,328.8 L839.6,334.0 L841.6,339.3 L843.6,344.5 L845.6,349.9 L847.6,355.5 L849.6,361.7 L851.6,367.7 L853.6,373.9 L855.6,380.8 L857.6,387.7 L859.6,394.6 L861.6,401.8 L863.6,409.2 L865.6,416.6 L867.6,425.1 L869.6,436.0 L871.6,446.4 L873.6,454.3 L875.6,462.0 L877.6,469.2 L879.6,476.4 L881.6,484.4 L883.6,492.4 L885.6,500.6 L887.6,509.0 L889.6,517.5 L891.6,525.8 L893.6,534.3 L895.6,543.4 L897.6,552.9 L899.6,562.7 L901.6,572.7 L903.6,583.1 L905.6,593.1 L907.6,602.3 L909.6,611.3 L911.6,620.0 L913.6,628.4 L915.6,636.8 L917.6,645.6 L919.6,653.7 L921.6,661.2 L923.6,668.9 L925.6,676.6 L927.6,683.7 L929.6,690.3 L931.6,697.2 L933.6,704.2 L935.6,710.2 L937.6,716.1 L939.6,722.3 L941.6,728.3 L943.6,734.3 L945.6,739.8 L947.6,745.2 L949.6,750.7 L951.6,755.6 L953.6,759.7 L955.6,763.5 L957.6,767.3 L959.6,770.9 L961.6,774.4 L963.6,777.4 L965.6,780.5 L967.6,783.8 L969.6,786.6 L971.6,789.1 L973.6,791.4 L975.6,793.6 L977.6,796.3 L979.6,799.0 L981.6,801.4 L983.6,803.8 L985.6,805.9 L987.6,807.5 L989.6,809.3 L991.6,810.9 L993.6,812.3 L995.6,813.7 L997.6,815.1 L999.6,816.7 L1001.6,818.5 L1003.6,820.2 L1005.6,821.9 L1007.6,823.0 L1009.6,823.9 L1011.6,825.6 L1013.6,827.0 L1015.6,827.4 L1017.6,828.8 L1019.6,831.1 L1021.6,832.3 L1023.6,833.5 L1025.6,835.3 L1027.6,836.6 L1029.6,837.6 L1031.6,838.7 L1033.6,839.7 L1035.6,840.7 L1037.6,841.6 L1039.6,842.1 L1041.6,843.0 L1043.6,844.3 L1045.6,845.2 L1047.6,845.3 L1049.6,846.2 L1051.6,847.6 L1053.6,847.8 L1055.6,847.6 L1057.6,848.6 L1059.6,850.2 L1061.6,850.9 L1063.6,850.9 L1065.6,851.4 L1067.6,852.1 L1069.6,852.8 L1071.6,853.2 L1073.6,853.3 L1075.6,854.0 L1077.6,855.0 L1079.6,855.6 L1081.6,855.9 L1083.6,856.5 L1085.6,857.0 L1087.6,857.4 L1089.6,858.1 L1091.6,858.8 L1093.6,859.3 L1095.6,859.9 L1097.6,860.8 L1099.6,861.8 L1101.6,862.3 L1103.6,862.4 L1105.6,863.1 L1107.6,863.6 L1109.6,863.5 L1111.6,864.1 L1113.6,865.2 L1115.6,865.7 L1117.6,866.0 L1119.6,866.5 L1121.6,867.1 L1123.6,867.4 L1125.6,868.0 L1127.6,868.4 L1129.6,868.5 L1131.6,868.8 L1133.6,869.6 L1135.6,870.5 L1137.6,871.4 L1139.6,872.2 L1141.6,872.5 L1143.6,872.7 L1145.6,873.2 L1147.6,873.6 L1149.6,873.9 L1151.6,874.6 L1153.6,875.5 L1155.6,876.0 L1157.6,876.5 L1159.6,877.2 L1161.6,877.9 L1163.6,878.4 L1165.6,878.8 L1167.6,879.0 L1169.6,879.6 L1171.6,880.2 L1173.6,880.4 L1175.6,880.9 L1177.6,881.3 L1179.6,881.3 L1181.6,881.9 L1183.6,882.6 L1185.6,882.9 L1187.6,883.3 L1189.6,883.9 L1191.6,884.8 L1193.6,885.5 L1195.6,885.7 L1197.6,885.9 L1199.6,886.2 L1201.6,886.6 L1203.6,887.1 L1205.6,887.9 L1207.6,888.3 L1209.6,888.2 L1211.6,888.7 L1213.6,889.5 L1215.6,890.0 L1217.6,890.7 L1219.6,891.3 L1221.6,891.7 L1223.6,892.0 L1225.6,892.3 L1227.6,893.0 L1229.6,893.7 L1231.6,893.9 L1233.6,894.1 L1235.6,894.3 L1237.6,894.3 L1239.6,894.6 L1241.6,895.0 L1243.6,895.4 L1245.6,895.8 L1247.6,896.3 L1249.6,896.5 L1251.6,896.7 L1253.6,897.0 L1255.6,897.4 L1257.6,898.0 L1259.6,898.8 L1261.6,899.4 L1263.6,899.9 L1265.6,900.4 L1267.6,901.2 L1269.6,902.4 L1271.6,903.8 L1273.6,905.1 L1275.6,906.0 L1277.6,906.5 L1279.6,907.1 L1281.6,908.0 L1283.6,908.5 L1285.6,908.7 L1287.6,909.7 L1289.6,910.4 L1291.6,910.4 L1293.6,910.6 L1295.6,911.1 L1297.6,911.3 L1299.6,911.3 L1301.6,910.8 L1303.6,910.8 L1305.6,911.7 L1307.6,911.9 L1309.6,912.0 L1311.6,912.7 L1313.6,913.0 L1315.6,913.0 L1317.6,913.6 L1319.6,914.2 L1321.6,914.5 L1323.6,915.0 L1325.6,915.3 L1327.6,915.8 L1329.6,916.4 L1331.6,916.8 L1333.6,916.8 L1335.6,917.0 L1337.6,917.3 L1339.6,917.7 L1341.6,918.2 L1343.6,918.7 L1345.6,918.9 L1347.6,919.1 L1349.6,919.2 L1351.6,919.3 L1353.6,920.1 L1355.6,921.3 L1357.6,922.1 L1359.6,922.5 L1361.6,922.6 L1363.6,922.7 L1365.6,923.2 L1367.6,923.7 L1369.6,924.1 L1371.6,924.4 L1373.6,924.9 L1375.6,925.8 L1377.6,926.4 L1379.6,926.7 L1381.6,927.0 L1383.6,927.4 L1385.6,928.4 L1387.6,928.9 L1389.6,928.9 L1391.6,929.1 L1393.6,929.2 L1395.6,929.5 L1397.6,929.7 L1399.6,930.2 L1401.6,930.9 L1403.6,931.1 L1405.6,931.4 L1407.6,931.8 L1409.6,932.2 L1411.6,932.8 L1413.6,933.3 L1415.6,933.8 L1417.6,934.4 L1419.6,934.7 L1421.6,934.7 L1423.6,934.6 L1425.6,935.3 L1427.6,935.9 L1429.6,935.9 L1431.6,936.3 L1433.6,936.9 L1435.6,937.1 L1437.6,937.5 L1439.6,938.2 L1441.6,938.8 L1443.6,938.9 L1445.6,939.4 L1447.6,940.2 L1449.6,940.6 L1451.6,940.7 L1453.6,940.6 L1455.6,940.7 L1457.6,941.3 L1459.6,942.4 L1461.6,942.8 L1463.6,942.8 L1465.6,943.4 L1467.6,944.0 L1469.6,944.5 L1471.6,945.1 L1473.6,945.4 L1475.6,945.7 L1477.6,946.1 L1479.6,945.9 L1481.6,945.9 L1483.6,946.6 L1485.6,947.2 L1487.6,947.4 L1489.6,947.5 L1491.6,948.2 L1493.6,948.9 L1495.6,949.2 L1497.6,949.5 L1499.6,949.6 L1501.6,949.4 L1503.6,949.7 L1505.6,950.4 L1507.6,950.9 L1509.6,951.2 L1511.6,951.5 L1513.6,952.1 L1515.6,952.8 L1517.6,953.5 L1519.6,953.9 L1521.6,954.4 L1523.6,954.5 L1525.6,954.2 L1527.6,954.5 L1529.6,954.8 L1531.6,955.0 L1533.6,955.4 L1535.6,955.7 L1537.6,956.1 L1539.6,956.2 L1541.6,956.4 L1543.6,956.7 L1545.6,956.8 L1547.6,957.1 L1549.6,957.5 L1551.6,957.6 L1553.6,957.8 L1555.6,958.3 L1557.6,958.6 L1559.6,958.7 L1561.6,959.1 L1563.6,959.4 L1565.6,959.1 L1567.6,959.3 L1569.6,960.1 L1571.6,960.6 L1573.6,960.9 L1575.6,961.1 L1577.6,960.6 L1579.6,960.1 L1581.6,960.7 L1583.6,961.4 L1585.6,961.7 L1587.6,961.6 L1589.6,961.3 L1591.6,961.4 L1593.6,961.7 L1595.6,961.7 L1597.6,961.6 L1599.6,961.8 L1601.6,962.2 L1603.6,962.8 L1605.6,962.7 L1607.6,962.5 L1609.6,962.9 L1611.6,963.3 L1613.6,963.8 L1615.6,964.3 L1617.6,964.1 L1619.6,963.6 L1621.6,963.2 L1623.6,963.5 L1625.6,963.9 L1627.6,964.2 L1629.6,964.5 L1631.6,964.7 L1633.6,964.7 L1635.6,964.5 L1637.6,964.7 L1639.6,965.3 L1641.6,965.3 L1643.6,965.3 L1645.6,965.2 L1647.6,964.9 L1649.6,965.4 L1651.6,965.7 L1653.6,965.5 L1655.6,965.4 L1657.6,965.5 L1659.6,965.5 L1661.6,965.4 L1663.6,965.1 L1665.6,965.3 L1667.6,965.7 L1669.6,965.6 L1671.6,965.9 L1673.6,966.7 L1675.6,967.3 L1677.6,967.5 L1679.6,967.7 L1681.6,967.5 L1683.6,967.2 L1685.6,966.9 L1687.6,967.1 L1689.6,967.2 L1691.6,967.2 L1693.6,967.6 L1695.6,968.1 L1697.6,968.2 L1699.6,967.9 L1701.6,967.9 L1703.6,968.3 L1705.6,968.5 L1707.6,968.6 L1709.6,968.8 L1711.6,968.4 L1713.6,967.9 L1715.6,967.5 L1717.6,966.9 L1719.6,966.7 L1721.6,966.7 L1723.6,966.5 L1725.6,966.5 L1727.6,966.6 L1729.6,966.9 L1731.6,966.6 L1733.6,966.0 L1735.6,966.0 L1737.6,966.4 L1739.6,966.2 L1741.6,966.3 L1743.6,966.6 L1745.6,966.5 L1747.6,966.2 L1749.6,965.9 L1751.6,965.8 L1753.6,966.1 L1755.6,966.1 L1757.6,966.0 L1759.6,966.1 L1761.6,966.4 L1763.6,966.6 L1765.6,966.6 L1767.6,966.5 L1769.6,966.3 L1771.6,965.7 L1773.6,965.5 L1775.6,965.6 L1777.6,965.6 L1779.6,965.9 L1781.6,966.2 L1783.6,966.5 L1785.6,966.7 L1787.6,966.3 L1789.6,966.1 L1791.6,966.1 L1793.6,966.0 L1795.6,966.0 L1797.6,966.4 L1799.6,966.8 L1801.6,966.7 L1803.6,966.7 L1805.6,966.7 L1807.6,966.5 L1808.8,966.6" fill="none" stroke="#1a6fdf" stroke-width="9.3" stroke-linejoin="round" stroke-linecap="butt"/>
<path d="M258.6,512.8 L260.6,501.7 L262.6,490.9 L264.6,481.7 L266.6,473.5 L268.6,465.0 L270.6,457.1 L272.6,450.3 L274.6,444.9 L276.6,440.7 L278.6,437.5 L280.6,434.5 L282.6,430.5 L284.6,425.5 L286.6,420.4 L288.6,415.2 L290.6,410.4 L292.6,406.2 L294.6,402.9 L296.6,400.6 L298.6,398.1 L300.6,394.5 L302.6,390.2 L304.6,385.7 L306.6,380.8 L308.6,375.7 L310.6,369.6 L312.6,362.5 L314.6,355.9 L316.6,350.4 L318.6,345.6 L320.6,341.6 L322.6,338.2 L324.6,334.4 L326.6,329.6 L328.6,324.2 L330.6,318.5 L332.6,312.9 L334.6,304.9 L336.6,297.7 L338.6,297.5 L340.6,301.6 L342.6,299.0 L344.6,294.2 L346.6,288.4 L348.6,283.1 L350.6,279.9 L352.6,277.6 L354.6,275.8 L356.6,273.8 L358.6,271.0 L360.6,266.8 L362.6,260.2 L364.6,254.4 L366.6,251.6 L368.6,249.3 L370.6,247.3 L372.6,245.5 L374.6,244.4 L376.6,244.0 L378.6,244.1 L380.6,244.6 L382.6,246.1 L384.6,247.9 L386.6,249.7 L388.6,252.8 L390.6,256.5 L392.6,260.1 L394.6,263.2 L396.6,266.0 L398.6,269.0 L400.6,272.2 L402.6,275.2 L404.6,277.9 L406.6,279.2 L408.6,279.9 L410.6,280.9 L412.6,281.6 L414.6,281.8 L416.6,282.2 L418.6,281.6 L420.6,279.7 L422.6,277.5 L424.6,275.8 L426.6,273.9 L428.6,271.2 L430.6,268.4 L432.6,265.7 L434.6,262.8 L436.6,260.3 L438.6,258.6 L440.6,257.5 L442.6,257.1 L444.6,256.3 L446.6,254.9 L448.6,254.1 L450.6,254.2 L452.6,253.8 L454.6,253.0 L456.6,252.6 L458.6,252.9 L460.6,252.9 L462.6,252.5 L464.6,252.0 L466.6,251.8 L468.6,251.6 L470.6,251.3 L472.6,251.3 L474.6,251.0 L476.6,250.6 L478.6,250.7 L480.6,250.5 L482.6,249.9 L484.6,249.8 L486.6,250.2 L488.6,250.5 L490.6,250.1 L492.6,249.6 L494.6,249.3 L496.6,249.4 L498.6,249.6 L500.6,249.4 L502.6,249.2 L504.6,249.1 L506.6,248.6 L508.6,248.0 L510.6,247.6 L512.6,247.0 L514.6,246.4 L516.6,246.2 L518.6,245.9 L520.6,244.6 L522.6,243.1 L524.6,242.2 L526.6,241.1 L528.6,239.8 L530.6,238.8 L532.6,237.6 L534.6,236.1 L536.6,234.8 L538.6,233.7 L540.6,232.5 L542.6,231.7 L544.6,231.3 L546.6,230.7 L548.6,230.1 L550.6,229.6 L552.6,228.9 L554.6,227.7 L556.6,226.5 L558.6,225.9 L560.6,225.3 L562.6,224.4 L564.6,223.9 L566.6,223.7 L568.6,223.4 L570.6,223.3 L572.6,223.0 L574.6,221.8 L576.6,220.8 L578.6,220.5 L580.6,220.0 L582.6,219.2 L584.6,218.3 L586.6,217.8 L588.6,217.9 L590.6,217.8 L592.6,217.2 L594.6,217.0 L596.6,216.3 L598.6,214.9 L600.6,214.1 L602.6,214.3 L604.6,213.8 L606.6,212.7 L608.6,212.2 L610.6,212.2 L612.6,212.1 L614.6,211.7 L616.6,211.2 L618.6,211.1 L620.6,211.1 L622.6,210.8 L624.6,210.4 L626.6,210.3 L628.6,210.5 L630.6,210.4 L632.6,210.1 L634.6,210.3 L636.6,210.8 L638.6,210.9 L640.6,210.6 L642.6,210.3 L644.6,210.3 L646.6,210.2 L648.6,210.3 L650.6,210.9 L652.6,211.2 L654.6,211.3 L656.6,211.8 L658.6,211.8 L660.6,212.0 L662.6,213.1 L664.6,214.3 L666.6,215.3 L668.6,216.1 L670.6,217.0 L672.6,217.9 L674.6,218.9 L676.6,219.9 L678.6,220.5 L680.6,221.2 L682.6,222.4 L684.6,223.8 L686.6,225.1 L688.6,226.0 L690.6,227.0 L692.6,228.1 L694.6,229.4 L696.6,230.8 L698.6,232.4 L700.6,234.0 L702.6,235.3 L704.6,236.8 L706.6,238.4 L708.6,239.9 L710.6,241.5 L712.6,243.4 L714.6,244.8 L716.6,246.2 L718.6,248.2 L720.6,250.4 L722.6,252.1 L724.6,253.4 L726.6,255.2 L728.6,257.5 L730.6,259.8 L732.6,261.7 L734.6,263.7 L736.6,266.3 L738.6,269.0 L740.6,271.8 L742.6,274.4 L744.6,276.1 L746.6,277.5 L748.6,279.6 L750.6,282.1 L752.6,284.2 L754.6,286.6 L756.6,289.1 L758.6,291.6 L760.6,294.2 L762.6,296.5 L764.6,299.1 L766.6,301.9 L768.6,304.4 L770.6,306.8 L772.6,309.6 L774.6,312.7 L776.6,315.7 L778.6,319.0 L780.6,322.4 L782.6,325.5 L784.6,328.9 L786.6,331.9 L788.6,334.5 L790.6,337.9 L792.6,341.9 L794.6,345.5 L796.6,349.3 L798.6,353.4 L800.6,357.7 L802.6,362.0 L804.6,366.5 L806.6,371.3 L808.6,376.2 L810.6,381.1 L812.6,385.8 L814.6,390.6 L816.6,395.8 L818.6,400.7 L820.6,405.0 L822.6,409.4 L824.6,414.4 L826.6,419.6 L828.6,424.9 L830.6,429.7 L832.6,433.4 L834.6,436.0 L836.6,438.6 L838.6,442.8 L840.6,448.5 L842.6,455.2 L844.6,462.0 L846.6,468.7 L848.6,475.4 L850.6,482.2 L852.6,488.9 L854.6,495.3 L856.6,502.1 L858.6,509.3 L860.6,516.3 L862.6,523.4 L864.6,531.0 L866.6,538.5 L868.6,545.7 L870.6,553.7 L872.6,561.9 L874.6,570.1 L876.6,578.0 L878.6,585.6 L880.6,593.9 L882.6,602.2 L884.6,610.0 L886.6,617.8 L888.6,626.0 L890.6,634.5 L892.6,642.8 L894.6,650.9 L896.6,659.3 L898.6,668.0 L900.6,677.0 L902.6,686.2 L904.6,695.0 L906.6,703.6 L908.6,712.3 L910.6,721.2 L912.6,730.2 L914.6,739.5 L916.6,748.3 L918.6,757.0 L920.6,765.9 L922.6,773.7 L924.6,780.4 L926.6,788.6 L928.6,797.5 L930.6,805.7 L932.6,813.6 L934.6,821.3 L936.6,828.5 L938.6,835.9 L940.6,843.3 L942.6,850.5 L944.6,857.8 L946.6,864.2 L948.6,870.1 L950.6,876.0 L952.6,881.0 L954.6,885.4 L956.6,890.3 L958.6,894.9 L960.6,898.9 L962.6,903.2 L964.6,907.4 L966.6,911.1 L968.6,914.2 L970.6,917.3 L972.6,920.3 L974.6,922.7 L976.6,925.3 L978.6,928.0 L980.6,930.5 L982.6,933.1 L984.6,935.7 L986.6,938.1 L988.6,939.9 L990.6,941.2 L992.6,943.1 L994.6,944.8 L996.6,946.3 L998.6,947.8 L1000.6,949.5 L1002.6,951.2 L1004.6,952.6 L1006.6,954.0 L1008.6,955.1 L1010.6,955.9 L1012.6,956.9 L1014.6,958.5 L1016.6,960.2 L1018.6,961.3 L1020.6,962.1 L1022.6,963.2 L1024.6,964.2 L1026.6,964.7 L1028.6,965.0 L1030.6,965.9 L1032.6,966.8 L1034.6,967.4 L1036.6,968.1 L1038.6,969.1 L1040.6,970.6 L1042.6,971.5 L1044.6,971.4 L1046.6,972.0 L1048.6,973.0 L1050.6,973.5 L1052.6,974.3 L1054.6,974.9 L1056.6,975.3 L1058.6,976.1 L1060.6,976.7 L1062.6,977.0 L1064.6,977.6 L1066.6,978.1 L1068.6,978.3 L1070.6,978.8 L1072.6,979.7 L1074.6,980.3 L1076.6,980.7 L1078.6,981.4 L1080.6,982.0 L1082.6,982.5 L1084.6,983.2 L1086.6,983.8 L1088.6,984.3 L1090.6,984.7 L1092.6,984.7 L1094.6,984.4 L1096.6,984.8 L1098.6,985.5 L1100.6,985.7 L1102.6,986.1 L1104.6,986.9 L1106.6,987.4 L1108.6,987.5 L1110.6,987.9 L1112.6,988.6 L1114.6,989.0 L1116.6,989.3 L1118.6,989.6 L1120.6,990.0 L1122.6,990.5 L1124.6,991.1 L1126.6,991.8 L1128.6,991.9 L1130.6,991.8 L1132.6,992.0 L1134.6,992.2 L1136.6,992.9 L1138.6,994.0 L1140.6,994.3 L1142.6,994.4 L1144.6,994.6 L1146.6,995.0 L1148.6,995.4 L1150.6,995.5 L1152.6,995.6 L1154.6,996.0 L1156.6,996.1 L1158.6,996.3 L1160.6,996.7 L1162.6,997.0 L1164.6,997.4 L1166.6,997.8 L1168.6,998.3 L1170.6,998.3 L1172.6,997.8 L1174.6,997.8 L1176.6,998.7 L1178.6,999.7 L1180.6,1000.4 L1182.6,1000.5 L1184.6,1000.0 L1186.6,1000.1 L1188.6,1001.1 L1190.6,1001.6 L1192.6,1001.6 L1194.6,1001.5 L1196.6,1001.4 L1198.6,1001.2 L1200.6,1001.4 L1202.6,1002.0 L1204.6,1002.2 L1206.6,1002.4 L1208.6,1002.6 L1210.6,1002.8 L1212.6,1003.2 L1214.6,1003.2 L1216.6,1003.3 L1218.6,1003.7 L1220.6,1003.8 L1222.6,1004.1 L1224.6,1004.3 L1226.6,1004.3 L1228.6,1004.7 L1230.6,1004.9 L1232.6,1004.9 L1234.6,1005.0 L1236.6,1004.9 L1238.6,1004.8 L1240.6,1005.0 L1242.6,1005.7 L1244.6,1005.7 L1246.6,1005.2 L1248.6,1005.3 L1250.6,1005.9 L1252.6,1005.9 L1254.6,1005.8 L1256.6,1006.0 L1258.6,1006.6 L1260.6,1006.9 L1262.6,1006.9 L1264.6,1007.4 L1266.6,1008.7 L1268.6,1009.6 L1270.6,1009.8 L1272.6,1010.0 L1274.6,1011.1 L1276.6,1012.4 L1278.6,1012.8 L1280.6,1013.1 L1282.6,1013.5 L1284.6,1013.3 L1286.6,1013.0 L1288.6,1013.6 L1290.6,1014.4 L1292.6,1014.4 L1294.6,1014.5 L1296.6,1014.8 L1298.6,1014.5 L1300.6,1014.5 L1302.6,1014.8 L1304.6,1015.3 L1306.6,1015.5 L1308.6,1015.5 L1310.6,1015.4 L1312.6,1015.1 L1314.6,1015.2 L1316.6,1015.6 L1318.6,1015.1 L1320.6,1014.8 L1322.6,1014.6 L1324.6,1014.3 L1326.6,1014.8 L1328.6,1015.2 L1330.6,1014.7 L1332.6,1014.4 L1334.6,1014.6 L1336.6,1014.8 L1338.6,1015.1 L1340.6,1015.5 L1342.6,1015.5 L1344.6,1015.5 L1346.6,1015.6 L1348.6,1015.7 L1350.6,1016.0 L1352.6,1016.5 L1354.6,1017.0 L1356.6,1016.9 L1358.6,1016.6 L1360.6,1016.4 L1362.6,1016.5 L1364.6,1016.5 L1366.6,1016.2 L1368.6,1015.8 L1370.6,1015.9 L1372.6,1016.0 L1374.6,1016.3 L1376.6,1016.5 L1378.6,1016.1 L1380.6,1016.1 L1382.6,1016.4 L1384.6,1016.4 L1386.6,1016.3 L1388.6,1016.4 L1390.6,1016.2 L1392.6,1015.8 L1394.6,1015.8 L1396.6,1016.1 L1398.6,1016.5 L1400.6,1016.4 L1402.6,1016.2 L1404.6,1016.6 L1406.6,1016.5 L1408.6,1016.0 L1410.6,1016.5 L1412.6,1017.1 L1414.6,1016.9 L1416.6,1016.7 L1418.6,1016.8 L1420.6,1016.9 L1422.6,1016.9 L1424.6,1017.1 L1426.6,1017.0 L1428.6,1016.7 L1430.6,1016.7 L1432.6,1017.0 L1434.6,1016.8 L1436.6,1016.5 L1438.6,1016.7 L1440.6,1017.0 L1442.6,1017.5 L1444.6,1017.7 L1446.6,1017.5 L1448.6,1017.5 L1450.6,1017.7 L1452.6,1017.2 L1454.6,1017.1 L1456.6,1017.5 L1458.6,1017.4 L1460.6,1017.5 L1462.6,1017.8 L1464.6,1017.6 L1466.6,1017.3 L1468.6,1017.4 L1470.6,1017.8 L1472.6,1018.2 L1474.6,1018.1 L1476.6,1018.1 L1478.6,1018.4 L1480.6,1018.1 L1482.6,1017.7 L1484.6,1017.9 L1486.6,1018.3 L1488.6,1018.4 L1490.6,1018.1 L1492.6,1017.8 L1494.6,1018.1 L1496.6,1018.6 L1498.6,1018.8 L1500.6,1018.6 L1502.6,1018.0 L1504.6,1017.7 L1506.6,1018.1 L1508.6,1018.2 L1510.6,1018.3 L1512.6,1018.5 L1514.6,1018.5 L1516.6,1018.5 L1518.6,1018.3 L1520.6,1017.8 L1522.6,1018.1 L1524.6,1018.8 L1526.6,1018.7 L1528.6,1018.2 L1530.6,1018.6 L1532.6,1019.1 L1534.6,1019.2 L1536.6,1018.8 L1538.6,1018.6 L1540.6,1018.8 L1542.6,1018.9 L1544.6,1018.6 L1546.6,1018.3 L1548.6,1018.5 L1550.6,1018.5 L1552.6,1018.5 L1554.6,1018.3 L1556.6,1018.2 L1558.6,1018.3 L1560.6,1018.0 L1562.6,1017.6 L1564.6,1017.8 L1566.6,1018.1 L1568.6,1018.0 L1570.6,1017.7 L1572.6,1017.3 L1574.6,1017.0 L1576.6,1017.0 L1578.6,1016.9 L1580.6,1017.0 L1582.6,1017.3 L1584.6,1017.4 L1586.6,1017.7 L1588.6,1017.7 L1590.6,1017.3 L1592.6,1017.4 L1594.6,1017.3 L1596.6,1016.9 L1598.6,1016.5 L1600.6,1016.0 L1602.6,1015.7 L1604.6,1016.2 L1606.6,1016.9 L1608.6,1016.5 L1610.6,1015.7 L1612.6,1015.8 L1614.6,1015.9 L1616.6,1015.5 L1618.6,1015.3 L1620.6,1015.7 L1622.6,1015.9 L1624.6,1015.8 L1626.6,1015.5 L1628.6,1015.6 L1630.6,1015.4 L1632.6,1015.1 L1634.6,1015.2 L1636.6,1015.2 L1638.6,1014.9 L1640.6,1014.7 L1642.6,1014.7 L1644.6,1015.0 L1646.6,1014.8 L1648.6,1014.2 L1650.6,1014.0 L1652.6,1013.6 L1654.6,1013.1 L1656.6,1013.1 L1658.6,1013.5 L1660.6,1014.0 L1662.6,1014.2 L1664.6,1013.7 L1666.6,1013.3 L1668.6,1013.4 L1670.6,1013.8 L1672.6,1013.9 L1674.6,1013.9 L1676.6,1013.7 L1678.6,1013.6 L1680.6,1013.6 L1682.6,1013.3 L1684.6,1012.9 L1686.6,1012.9 L1688.6,1013.1 L1690.6,1012.9 L1692.6,1012.7 L1694.6,1012.7 L1696.6,1012.5 L1698.6,1012.4 L1700.6,1012.3 L1702.6,1012.2 L1704.6,1012.6 L1706.6,1012.5 L1708.6,1012.0 L1710.6,1012.0 L1712.6,1011.8 L1714.6,1011.3 L1716.6,1011.2 L1718.6,1011.1 L1720.6,1010.9 L1722.6,1010.9 L1724.6,1010.7 L1726.6,1010.5 L1728.6,1010.3 L1730.6,1010.0 L1732.6,1010.0 L1734.6,1009.7 L1736.6,1009.5 L1738.6,1009.7 L1740.6,1009.8 L1742.6,1009.8 L1744.6,1009.4 L1746.6,1009.1 L1748.6,1008.9 L1750.6,1008.7 L1752.6,1008.8 L1754.6,1009.0 L1756.6,1009.5 L1758.6,1009.1 L1760.6,1008.5 L1762.6,1007.9 L1764.6,1007.6 L1766.6,1007.6 L1768.6,1007.4 L1770.6,1007.2 L1772.6,1007.8 L1774.6,1008.4 L1776.6,1008.3 L1778.6,1007.5 L1780.6,1007.2 L1782.6,1007.8 L1784.6,1008.3 L1786.6,1008.5 L1788.6,1008.7 L1790.6,1009.0 L1792.6,1008.7 L1794.6,1008.1 L1796.6,1008.4 L1798.6,1008.9 L1800.6,1009.5 L1802.6,1009.8 L1804.6,1009.1 L1806.6,1008.9 L1808.6,1009.1 L1808.8,1008.9" fill="none" stroke="#37ad6b" stroke-width="9.3" stroke-linejoin="round" stroke-linecap="butt"/>
<path d="M257.6,511.2 L259.6,497.7 L261.6,485.1 L263.6,474.6 L265.6,465.6 L267.6,457.5 L269.6,451.1 L271.6,446.1 L273.6,441.6 L275.6,437.5 L277.6,433.9 L279.6,429.8 L281.6,425.5 L283.6,421.1 L285.6,416.1 L287.6,411.4 L289.6,406.6 L291.6,401.9 L293.6,398.6 L295.6,396.2 L297.6,393.5 L299.6,390.0 L301.6,386.0 L303.6,381.3 L305.6,376.1 L307.6,371.0 L309.6,364.5 L311.6,357.1 L313.6,350.4 L315.6,345.4 L317.6,341.7 L319.6,338.3 L321.6,334.3 L323.6,330.3 L325.6,326.3 L327.6,321.2 L329.6,315.1 L331.6,306.6 L333.6,299.0 L335.6,299.1 L337.6,300.0 L339.6,298.1 L341.6,293.4 L343.6,287.8 L345.6,283.1 L347.6,280.5 L349.6,278.9 L351.6,277.1 L353.6,274.7 L355.6,271.6 L357.6,265.9 L359.6,259.2 L361.6,255.6 L363.6,254.6 L365.6,253.6 L367.6,252.3 L369.6,251.9 L371.6,252.2 L373.6,251.8 L375.6,251.5 L377.6,251.3 L379.6,250.8 L381.6,250.6 L383.6,251.2 L385.6,255.2 L387.6,261.5 L389.6,268.0 L391.6,273.7 L393.6,279.7 L395.6,285.8 L397.6,291.9 L399.6,297.2 L401.6,301.2 L403.6,304.4 L405.6,307.8 L407.6,310.4 L409.6,311.6 L411.6,311.7 L413.6,312.1 L415.6,312.4 L417.6,312.7 L419.6,312.8 L421.6,312.7 L423.6,312.3 L425.6,311.1 L427.6,308.9 L429.6,306.3 L431.6,303.9 L433.6,301.8 L435.6,299.8 L437.6,298.1 L439.6,297.4 L441.6,297.1 L443.6,296.3 L445.6,295.7 L447.6,295.1 L449.6,294.1 L451.6,293.2 L453.6,293.0 L455.6,292.8 L457.6,292.5 L459.6,292.3 L461.6,291.7 L463.6,291.7 L465.6,292.2 L467.6,292.3 L469.6,291.9 L471.6,291.4 L473.6,291.2 L475.6,291.5 L477.6,291.4 L479.6,291.5 L481.6,291.9 L483.6,291.4 L485.6,291.0 L487.6,291.1 L489.6,291.3 L491.6,291.3 L493.6,291.2 L495.6,291.1 L497.6,291.1 L499.6,291.0 L501.6,290.5 L503.6,290.2 L505.6,290.6 L507.6,291.3 L509.6,291.3 L511.6,290.6 L513.6,289.7 L515.6,289.2 L517.6,288.7 L519.6,287.7 L521.6,286.5 L523.6,285.0 L525.6,283.6 L527.6,282.1 L529.6,280.5 L531.6,279.2 L533.6,278.1 L535.6,277.0 L537.6,276.0 L539.6,274.8 L541.6,273.7 L543.6,272.6 L545.6,271.6 L547.6,270.5 L549.6,269.4 L551.6,268.8 L553.6,268.5 L555.6,268.3 L557.6,267.7 L559.6,266.8 L561.6,266.1 L563.6,265.2 L565.6,264.3 L567.6,263.7 L569.6,263.4 L571.6,263.0 L573.6,262.2 L575.6,261.0 L577.6,259.8 L579.6,259.4 L581.6,259.0 L583.6,258.1 L585.6,257.2 L587.6,257.1 L589.6,256.4 L591.6,255.3 L593.6,254.9 L595.6,254.7 L597.6,253.6 L599.6,252.2 L601.6,251.3 L603.6,250.9 L605.6,250.4 L607.6,248.9 L609.6,247.8 L611.6,247.4 L613.6,246.9 L615.6,246.3 L617.6,245.7 L619.6,245.4 L621.6,244.7 L623.6,243.6 L625.6,243.3 L627.6,243.2 L629.6,242.8 L631.6,242.7 L633.6,242.9 L635.6,242.8 L637.6,242.5 L639.6,242.1 L641.6,242.3 L643.6,242.7 L645.6,242.3 L647.6,241.8 L649.6,241.8 L651.6,241.8 L653.6,241.8 L655.6,242.1 L657.6,242.6 L659.6,243.5 L661.6,244.3 L663.6,244.9 L665.6,245.6 L667.6,246.5 L669.6,247.2 L671.6,247.7 L673.6,248.4 L675.6,249.2 L677.6,250.1 L679.6,251.6 L681.6,252.7 L683.6,253.4 L685.6,254.6 L687.6,256.2 L689.6,257.7 L691.6,259.1 L693.6,260.6 L695.6,262.2 L697.6,263.5 L699.6,264.9 L701.6,266.9 L703.6,268.6 L705.6,270.4 L707.6,272.4 L709.6,274.0 L711.6,275.5 L713.6,277.5 L715.6,279.4 L717.6,281.1 L719.6,283.0 L721.6,285.3 L723.6,287.4 L725.6,289.2 L727.6,291.6 L729.6,294.2 L731.6,296.1 L733.6,298.2 L735.6,301.2 L737.6,303.6 L739.6,305.5 L741.6,307.9 L743.6,310.5 L745.6,313.0 L747.6,315.6 L749.6,318.2 L751.6,321.0 L753.6,323.7 L755.6,326.4 L757.6,329.1 L759.6,331.9 L761.6,334.6 L763.6,337.4 L765.6,340.8 L767.6,344.5 L769.6,347.8 L771.6,351.2 L773.6,354.6 L775.6,358.0 L777.6,361.7 L779.6,365.6 L781.6,369.8 L783.6,374.2 L785.6,378.7 L787.6,383.3 L789.6,388.3 L791.6,392.9 L793.6,397.4 L795.6,402.3 L797.6,406.9 L799.6,411.7 L801.6,416.7 L803.6,421.4 L805.6,426.1 L807.6,430.6 L809.6,435.0 L811.6,439.7 L813.6,444.8 L815.6,450.2 L817.6,455.6 L819.6,460.9 L821.6,466.6 L823.6,472.3 L825.6,477.4 L827.6,482.6 L829.6,488.0 L831.6,493.7 L833.6,499.7 L835.6,505.6 L837.6,511.6 L839.6,517.8 L841.6,524.2 L843.6,530.6 L845.6,537.2 L847.6,544.3 L849.6,551.7 L851.6,559.2 L853.6,566.4 L855.6,573.6 L857.6,580.8 L859.6,588.1 L861.6,595.8 L863.6,603.5 L865.6,611.5 L867.6,619.9 L869.6,628.5 L871.6,637.0 L873.6,645.2 L875.6,654.1 L877.6,663.5 L879.6,672.3 L881.6,680.7 L883.6,688.9 L885.6,696.3 L887.6,703.8 L889.6,712.4 L891.6,721.0 L893.6,728.9 L895.6,736.3 L897.6,743.9 L899.6,752.7 L901.6,761.2 L903.6,769.0 L905.6,776.7 L907.6,784.6 L909.6,792.1 L911.6,798.9 L913.6,805.6 L915.6,811.9 L917.6,817.9 L919.6,824.2 L921.6,830.8 L923.6,837.2 L925.6,843.8 L927.6,850.9 L929.6,857.6 L931.6,863.4 L933.6,869.4 L935.6,875.4 L937.6,880.2 L939.6,884.6 L941.6,889.3 L943.6,894.0 L945.6,898.7 L947.6,903.1 L949.6,906.9 L951.6,910.0 L953.6,913.2 L955.6,916.5 L957.6,919.6 L959.6,922.7 L961.6,925.9 L963.6,929.0 L965.6,932.2 L967.6,934.9 L969.6,937.0 L971.6,939.3 L973.6,941.8 L975.6,944.0 L977.6,946.3 L979.6,948.6 L981.6,950.6 L983.6,952.7 L985.6,954.5 L987.6,955.7 L989.6,957.0 L991.6,958.4 L993.6,960.2 L995.6,961.6 L997.6,962.5 L999.6,963.7 L1001.6,964.9 L1003.6,965.8 L1005.6,967.2 L1007.6,968.9 L1009.6,970.3 L1011.6,971.4 L1013.6,972.1 L1015.6,972.9 L1017.6,973.9 L1019.6,974.5 L1021.6,975.2 L1023.6,976.2 L1025.6,977.2 L1027.6,977.9 L1029.6,978.6 L1031.6,979.5 L1033.6,980.3 L1035.6,981.1 L1037.6,982.1 L1039.6,982.7 L1041.6,982.6 L1043.6,982.9 L1045.6,983.9 L1047.6,985.2 L1049.6,986.0 L1051.6,986.6 L1053.6,987.2 L1055.6,987.8 L1057.6,988.6 L1059.6,989.5 L1061.6,990.5 L1063.6,991.2 L1065.6,991.3 L1067.6,991.7 L1069.6,991.9 L1071.6,992.5 L1073.6,993.3 L1075.6,993.6 L1077.6,993.9 L1079.6,994.6 L1081.6,995.4 L1083.6,995.9 L1085.6,996.2 L1087.6,996.8 L1089.6,997.6 L1091.6,998.0 L1093.6,998.3 L1095.6,998.8 L1097.6,999.3 L1099.6,999.8 L1101.6,1000.3 L1103.6,1000.9 L1105.6,1001.2 L1107.6,1001.5 L1109.6,1002.2 L1111.6,1003.0 L1113.6,1003.3 L1115.6,1003.5 L1117.6,1004.1 L1119.6,1004.7 L1121.6,1005.0 L1123.6,1005.2 L1125.6,1005.7 L1127.6,1006.4 L1129.6,1007.0 L1131.6,1007.4 L1133.6,1007.7 L1135.6,1008.0 L1137.6,1008.4 L1139.6,1008.6 L1141.6,1009.3 L1143.6,1010.1 L1145.6,1010.2 L1147.6,1010.0 L1149.6,1010.7 L1151.6,1011.6 L1153.6,1012.1 L1155.6,1012.4 L1157.6,1012.6 L1159.6,1012.3 L1161.6,1012.7 L1163.6,1013.5 L1165.6,1014.0 L1167.6,1014.5 L1169.6,1015.0 L1171.6,1015.5 L1173.6,1016.3 L1175.6,1016.5 L1177.6,1016.2 L1179.6,1016.8 L1181.6,1016.9 L1183.6,1016.8 L1185.6,1017.3 L1187.6,1017.7 L1189.6,1018.3 L1191.6,1018.8 L1193.6,1018.9 L1195.6,1019.2 L1197.6,1019.5 L1199.6,1019.8 L1201.6,1020.2 L1203.6,1020.5 L1205.6,1020.5 L1207.6,1020.9 L1209.6,1021.4 L1211.6,1021.6 L1213.6,1022.0 L1215.6,1022.9 L1217.6,1023.5 L1219.6,1023.7 L1221.6,1024.0 L1223.6,1024.2 L1225.6,1024.5 L1227.6,1024.2 L1229.6,1024.0 L1231.6,1024.3 L1233.6,1024.3 L1235.6,1024.5 L1237.6,1025.4 L1239.6,1026.0 L1241.6,1026.0 L1243.6,1026.3 L1245.6,1026.6 L1247.6,1026.6 L1249.6,1026.6 L1251.6,1026.9 L1253.6,1027.6 L1255.6,1028.4 L1257.6,1028.6 L1259.6,1028.7 L1261.6,1029.7 L1263.6,1030.6 L1265.6,1031.3 L1267.6,1031.9 L1269.6,1032.4 L1271.6,1033.3 L1273.6,1034.8 L1275.6,1035.9 L1277.6,1036.4 L1279.6,1036.8 L1281.6,1036.9 L1283.6,1037.0 L1285.6,1037.0 L1287.6,1037.0 L1289.6,1037.0 L1291.6,1036.9 L1293.6,1037.4 L1295.6,1037.8 L1297.6,1037.8 L1299.6,1037.9 L1301.6,1038.1 L1303.6,1038.3 L1305.6,1038.2 L1307.6,1038.3 L1309.6,1038.5 L1311.6,1038.4 L1313.6,1038.5 L1315.6,1038.6 L1317.6,1038.2 L1319.6,1038.5 L1321.6,1039.5 L1323.6,1039.7 L1325.6,1039.7 L1327.6,1040.0 L1329.6,1040.1 L1331.6,1040.5 L1333.6,1040.7 L1335.6,1040.7 L1337.6,1040.7 L1339.6,1041.0 L1341.6,1041.2 L1343.6,1041.2 L1345.6,1041.4 L1347.6,1041.8 L1349.6,1042.1 L1351.6,1042.2 L1353.6,1042.1 L1355.6,1042.7 L1357.6,1043.5 L1359.6,1043.4 L1361.6,1043.0 L1363.6,1043.0 L1365.6,1043.3 L1367.6,1044.3 L1369.6,1045.5 L1371.6,1046.3 L1373.6,1046.4 L1375.6,1046.7 L1377.6,1047.3 L1379.6,1047.7 L1381.6,1047.6 L1383.6,1047.5 L1385.6,1047.7 L1387.6,1047.8 L1389.6,1047.8 L1391.6,1047.8 L1393.6,1047.9 L1395.6,1048.2 L1397.6,1048.3 L1399.6,1048.8 L1401.6,1049.6 L1403.6,1050.0 L1405.6,1049.7 L1407.6,1049.4 L1409.6,1049.6 L1411.6,1049.6 L1413.6,1049.2 L1415.6,1050.0 L1417.6,1051.3 L1419.6,1051.2 L1421.6,1050.7 L1423.6,1050.9 L1425.6,1051.2 L1427.6,1051.4 L1429.6,1051.2 L1431.6,1050.8 L1433.6,1051.0 L1435.6,1051.5 L1437.6,1051.2 L1439.6,1051.0 L1441.6,1051.5 L1443.6,1052.3 L1445.6,1052.5 L1447.6,1052.4 L1449.6,1052.4 L1451.6,1052.3 L1453.6,1052.6 L1455.6,1052.6 L1457.6,1052.5 L1459.6,1052.9 L1461.6,1053.1 L1463.6,1053.0 L1465.6,1052.9 L1467.6,1053.1 L1469.6,1053.5 L1471.6,1053.8 L1473.6,1053.6 L1475.6,1053.4 L1477.6,1053.7 L1479.6,1053.5 L1481.6,1052.8 L1483.6,1052.8 L1485.6,1053.2 L1487.6,1053.9 L1489.6,1054.4 L1491.6,1054.2 L1493.6,1054.2 L1495.6,1054.7 L1497.6,1054.8 L1499.6,1054.5 L1501.6,1054.4 L1503.6,1054.7 L1505.6,1055.1 L1507.6,1055.0 L1509.6,1055.0 L1511.6,1055.1 L1513.6,1054.6 L1515.6,1054.8 L1517.6,1055.5 L1519.6,1055.5 L1521.6,1055.5 L1523.6,1055.9 L1525.6,1055.4 L1527.6,1055.2 L1529.6,1055.6 L1531.6,1055.9 L1533.6,1056.1 L1535.6,1056.1 L1537.6,1055.8 L1539.6,1055.6 L1541.6,1055.7 L1543.6,1055.8 L1545.6,1055.7 L1547.6,1056.2 L1549.6,1056.3 L1551.6,1056.1 L1553.6,1056.5 L1555.6,1056.8 L1557.6,1056.4 L1559.6,1056.3 L1561.6,1056.6 L1563.6,1056.4 L1565.6,1056.0 L1567.6,1056.4 L1569.6,1056.6 L1571.6,1056.5 L1573.6,1056.6 L1575.6,1056.4 L1577.6,1056.0 L1579.6,1055.4 L1581.6,1055.3 L1583.6,1056.1 L1585.6,1057.0 L1587.6,1057.0 L1589.6,1056.7 L1591.6,1056.4 L1593.6,1056.3 L1595.6,1056.7 L1597.6,1056.7 L1599.6,1056.6 L1601.6,1056.6 L1603.6,1056.5 L1605.6,1056.2 L1607.6,1056.0 L1609.6,1056.2 L1611.6,1056.3 L1613.6,1056.4 L1615.6,1056.0 L1617.6,1055.6 L1619.6,1055.7 L1621.6,1055.8 L1623.6,1056.1 L1625.6,1056.4 L1627.6,1056.4 L1629.6,1055.8 L1631.6,1055.4 L1633.6,1055.4 L1635.6,1055.7 L1637.6,1055.7 L1639.6,1055.6 L1641.6,1055.6 L1643.6,1055.5 L1645.6,1055.4 L1647.6,1055.1 L1649.6,1054.8 L1651.6,1055.2 L1653.6,1055.4 L1655.6,1055.0 L1657.6,1054.8 L1659.6,1054.6 L1661.6,1054.4 L1663.6,1054.7 L1665.6,1055.0 L1667.6,1055.1 L1669.6,1055.1 L1671.6,1055.1 L1673.6,1055.2 L1675.6,1055.1 L1677.6,1055.0 L1679.6,1055.1 L1681.6,1055.5 L1683.6,1055.6 L1685.6,1055.1 L1687.6,1054.9 L1689.6,1054.9 L1691.6,1055.1 L1693.6,1055.3 L1695.6,1055.7 L1697.6,1056.1 L1699.6,1055.9 L1701.6,1055.5 L1703.6,1055.3 L1705.6,1055.0 L1707.6,1054.9 L1709.6,1054.7 L1711.6,1054.9 L1713.6,1055.1 L1715.6,1054.8 L1717.6,1054.6 L1719.6,1054.8 L1721.6,1054.9 L1723.6,1054.4 L1725.6,1054.0 L1727.6,1054.3 L1729.6,1054.3 L1731.6,1053.6 L1733.6,1053.5 L1735.6,1053.8 L1737.6,1053.9 L1739.6,1053.8 L1741.6,1053.4 L1743.6,1053.2 L1745.6,1053.4 L1747.6,1053.4 L1749.6,1052.8 L1751.6,1052.4 L1753.6,1052.5 L1755.6,1052.5 L1757.6,1052.7 L1759.6,1052.9 L1761.6,1052.6 L1763.6,1052.2 L1765.6,1052.7 L1767.6,1052.8 L1769.6,1052.0 L1771.6,1051.6 L1773.6,1051.5 L1775.6,1051.8 L1777.6,1052.1 L1779.6,1051.7 L1781.6,1051.6 L1783.6,1051.4 L1785.6,1051.1 L1787.6,1051.1 L1789.6,1051.2 L1791.6,1051.5 L1793.6,1051.7 L1795.6,1051.5 L1797.6,1051.4 L1799.6,1051.6 L1801.6,1051.6 L1803.6,1051.2 L1805.6,1051.1 L1807.6,1051.5 L1808.8,1051.4" fill="none" stroke="#b177de" stroke-width="9.3" stroke-linejoin="round" stroke-linecap="butt"/>
<path d="M1311.0,909.0 L1314.0,901.0 L1317.0,910.0" fill="none" stroke="#1a6fdf" stroke-width="5" stroke-linejoin="round" stroke-linecap="butt"/>
<rect x="1389" y="64" width="416" height="469.5" fill="#fff" stroke="#000" stroke-width="2"/>
<rect x="1385.7" y="103.2" width="184.3" height="25.6" fill="#515151"/>
<text transform="translate(1576 142) scale(0.978 1)" font-family='"Liberation Sans", Arial, Helvetica, sans-serif' font-size="72.8" font-weight="bold" text-anchor="start" fill="#000">x=0</text>
<rect x="1385.7" y="195" width="184.3" height="25.6" fill="#f14040"/>
<text transform="translate(1576 233.8) scale(0.978 1)" font-family='"Liberation Sans", Arial, Helvetica, sans-serif' font-size="72.8" font-weight="bold" text-anchor="start" fill="#000">x=0.05</text>
<rect x="1385.7" y="286.8" width="184.3" height="25.6" fill="#1a6fdf"/>
<text transform="translate(1576 325.6) scale(0.978 1)" font-family='"Liberation Sans", Arial, Helvetica, sans-serif' font-size="72.8" font-weight="bold" text-anchor="start" fill="#000">x=0.09</text>
<rect x="1385.7" y="378.6" width="184.3" height="25.6" fill="#37ad6b"/>
<text transform="translate(1576 417.4) scale(0.978 1)" font-family='"Liberation Sans", Arial, Helvetica, sans-serif' font-size="72.8" font-weight="bold" text-anchor="start" fill="#000">x=0.12</text>
<rect x="1385.7" y="470.4" width="184.3" height="25.6" fill="#b177de"/>
<text transform="translate(1576 509.2) scale(0.978 1)" font-family='"Liberation Sans", Arial, Helvetica, sans-serif' font-size="72.8" font-weight="bold" text-anchor="start" fill="#000">x=0.15</text>
<rect x="1804" y="58" width="6" height="542" fill="#000"/>
<rect x="1300" y="58" width="510" height="7" fill="#000"/>
<rect x="185" y="1699" width="7" height="1295" fill="#000"/>
<rect x="1804" y="1699" width="7" height="1295" fill="#000"/>
<rect x="185" y="1699" width="1626" height="7" fill="#000"/>
<rect x="185" y="2986" width="1626" height="8" fill="#000"/>
<rect x="185" y="2994" width="7" height="8" fill="#000"/>
<rect x="309.538" y="2994" width="7" height="21.5" fill="#000"/>
<text transform="translate(314.038 3079.2) scale(1.033 1)" font-family='"Liberation Sans", Arial, Helvetica, sans-serif' font-size="59" font-weight="bold" text-anchor="middle" fill="#000">0.6</text>
<rect x="434.077" y="2994" width="7" height="8" fill="#000"/>
<rect x="558.615" y="2994" width="7" height="21.5" fill="#000"/>
<text transform="translate(563.115 3079.2) scale(1.033 1)" font-family='"Liberation Sans", Arial, Helvetica, sans-serif' font-size="59" font-weight="bold" text-anchor="middle" fill="#000">0.8</text>
<rect x="683.154" y="2994" width="7" height="8" fill="#000"/>
<rect x="807.692" y="2994" width="7" height="21.5" fill="#000"/>
<text transform="translate(812.192 3079.2) scale(1.033 1)" font-family='"Liberation Sans", Arial, Helvetica, sans-serif' font-size="59" font-weight="bold" text-anchor="middle" fill="#000">1.0</text>
<rect x="932.231" y="2994" width="7" height="8" fill="#000"/>
<rect x="1056.77" y="2994" width="7" height="21.5" fill="#000"/>
<text transform="translate(1061.27 3079.2) scale(1.033 1)" font-family='"Liberation Sans", Arial, Helvetica, sans-serif' font-size="59" font-weight="bold" text-anchor="middle" fill="#000">1.2</text>
<rect x="1181.31" y="2994" width="7" height="8" fill="#000"/>
<rect x="1305.85" y="2994" width="7" height="21.5" fill="#000"/>
<text transform="translate(1310.35 3079.2) scale(1.033 1)" font-family='"Liberation Sans", Arial, Helvetica, sans-serif' font-size="59" font-weight="bold" text-anchor="middle" fill="#000">1.4</text>
<rect x="1430.38" y="2994" width="7" height="8" fill="#000"/>
<rect x="1554.92" y="2994" width="7" height="21.5" fill="#000"/>
<text transform="translate(1559.42 3079.2) scale(1.033 1)" font-family='"Liberation Sans", Arial, Helvetica, sans-serif' font-size="59" font-weight="bold" text-anchor="middle" fill="#000">1.6</text>
<rect x="1679.46" y="2994" width="7" height="8" fill="#000"/>
<rect x="1804" y="2994" width="7" height="21.5" fill="#000"/>
<text transform="translate(1808.5 3079.2) scale(1.033 1)" font-family='"Liberation Sans", Arial, Helvetica, sans-serif' font-size="59" font-weight="bold" text-anchor="middle" fill="#000">1.8</text>
<text transform="translate(138.6 2970) scale(1.04 1)" font-family='"Liberation Sans", Arial, Helvetica, sans-serif' font-size="68" font-weight="normal" text-anchor="start" fill="#000">0</text>
<text transform="translate(45 1737.7) scale(1.04 1)" font-family='"Liberation Sans", Arial, Helvetica, sans-serif' font-size="66" font-weight="bold" text-anchor="start" fill="#000">(b)</text>
<text transform="translate(1062.7 3166.8) scale(1.01 1)" font-family='"Liberation Sans", Arial, Helvetica, sans-serif' font-size="67" font-weight="bold" text-anchor="middle" fill="#000">Photon energy (eV)</text>
<text transform="translate(146.5 2659) rotate(-90)" font-family='"Liberation Sans", Arial, Helvetica, sans-serif' font-size="69" font-weight="bold" fill="#000"><tspan font-size="84">(</tspan><tspan dx="3.7">h</tspan><tspan dx="1" font-family='"Liberation Serif", "Times New Roman", serif' font-weight="normal" font-size="76">ν</tspan><tspan dx="1.5" dy="7.8">*</tspan><tspan dx="3" dy="-7.8" font-family='"Liberation Serif", "Times New Roman", serif' font-weight="normal" font-size="76" font-size="80">α</tspan><tspan dx="6" font-size="84">)</tspan><tspan dx="1" dy="-32.6" font-size="56">2</tspan></text>
<text transform="translate(146.5 2415) rotate(-90)" font-family='"Liberation Sans", Arial, Helvetica, sans-serif' font-size="69" font-weight="bold" fill="#000">,<tspan dx="5"> 10</tspan><tspan dy="-30" font-size="42">4</tspan></text>
<text transform="translate(146.5 2260) rotate(-90)" font-family='"Liberation Sans", Arial, Helvetica, sans-serif' font-size="69" font-weight="bold" fill="#000">(e<tspan dx="1.5">V</tspan><tspan dy="-30" font-size="42">2</tspan><tspan dy="30">/cm</tspan><tspan dx="-2" dy="-30" font-size="42">2</tspan><tspan dx="-1" dy="30">)</tspan></text>
<path d="M337.0,2966.5 L338.3,2966.5 L339.6,2966.5 L340.9,2966.5 L342.2,2966.5 L343.5,2966.5 L344.8,2966.5 L346.1,2966.4 L347.4,2966.5 L348.7,2966.4 L350.0,2966.4 L351.3,2966.5 L352.6,2966.5 L353.9,2966.5 L355.2,2966.5 L356.5,2966.5 L357.8,2966.5 L359.1,2966.5 L360.4,2966.5 L361.7,2966.5 L363.0,2966.4 L364.3,2966.4 L365.6,2966.4 L366.9,2966.5 L368.2,2966.5 L369.5,2966.5 L370.8,2966.5 L372.1,2966.4 L373.4,2966.3 L374.7,2966.3 L376.0,2966.3 L377.3,2966.4 L378.6,2966.5 L379.9,2966.4 L381.2,2966.4 L382.5,2966.4 L383.8,2966.4 L385.1,2966.3 L386.4,2966.4 L387.7,2966.4 L389.0,2966.4 L390.3,2966.4 L391.6,2966.4 L392.9,2966.4 L394.2,2966.4 L395.5,2966.3 L396.8,2966.4 L398.1,2966.4 L399.4,2966.4 L400.7,2966.3 L402.0,2966.3 L403.3,2966.3 L404.6,2966.3 L405.9,2966.3 L407.2,2966.3 L408.5,2966.3 L409.8,2966.3 L411.1,2966.3 L412.4,2966.3 L413.7,2966.3 L415.0,2966.3 L416.3,2966.3 L417.6,2966.4 L418.9,2966.3 L420.2,2966.4 L421.5,2966.4 L422.8,2966.3 L424.1,2966.3 L425.4,2966.3 L426.7,2966.3 L428.0,2966.2 L429.3,2966.2 L430.6,2966.2 L431.9,2966.2 L433.2,2966.2 L434.5,2966.2 L435.8,2966.2 L437.1,2966.2 L438.4,2966.3 L439.7,2966.3 L441.0,2966.2 L442.3,2966.1 L443.6,2966.2 L444.9,2966.2 L446.2,2966.2 L447.5,2966.2 L448.8,2966.1 L450.1,2966.2 L451.4,2966.2 L452.7,2966.2 L454.0,2966.2 L455.3,2966.2 L456.6,2966.2 L457.9,2966.2 L459.2,2966.2 L460.5,2966.1 L461.8,2966.1 L463.1,2966.1 L464.4,2966.1 L465.7,2966.1 L467.0,2966.1 L468.3,2966.0 L469.6,2966.0 L470.9,2966.0 L472.2,2966.1 L473.5,2966.1 L474.8,2966.1 L476.1,2966.1 L477.4,2966.0 L478.7,2966.0 L480.0,2966.0 L481.3,2966.1 L482.6,2966.1 L483.9,2966.1 L485.2,2966.0 L486.5,2966.0 L487.8,2966.0 L489.1,2966.0 L490.4,2966.0 L491.7,2966.1 L493.0,2966.0 L494.3,2966.0 L495.6,2966.1 L496.9,2966.0 L498.2,2966.0 L499.5,2966.0 L500.8,2966.0 L502.1,2966.0 L503.4,2966.0 L504.7,2965.9 L506.0,2965.9 L507.3,2966.0 L508.6,2966.0 L509.9,2966.0 L511.2,2965.9 L512.5,2965.9 L513.8,2965.9 L515.1,2965.9 L516.4,2965.9 L517.7,2965.9 L519.0,2965.8 L520.3,2965.9 L521.6,2965.9 L522.9,2965.8 L524.2,2965.8 L525.5,2965.8 L526.8,2965.9 L528.1,2965.9 L529.4,2965.9 L530.7,2965.9 L532.0,2965.8 L533.3,2965.8 L534.6,2965.8 L535.9,2965.8 L537.2,2965.8 L538.5,2965.8 L539.8,2965.8 L541.1,2965.8 L542.4,2965.8 L543.7,2965.7 L545.0,2965.8 L546.3,2965.8 L547.6,2965.8 L548.9,2965.8 L550.2,2965.8 L551.5,2965.7 L552.8,2965.7 L554.1,2965.6 L555.4,2965.7 L556.7,2965.8 L558.0,2965.8 L559.3,2965.7 L560.6,2965.7 L561.9,2965.7 L563.2,2965.6 L564.5,2965.7 L565.8,2965.7 L567.1,2965.7 L568.4,2965.7 L569.7,2965.7 L571.0,2965.7 L572.3,2965.7 L573.6,2965.7 L574.9,2965.6 L576.2,2965.6 L577.5,2965.7 L578.8,2965.7 L580.1,2965.6 L581.4,2965.6 L582.7,2965.6 L584.0,2965.6 L585.3,2965.5 L586.6,2965.6 L587.9,2965.5 L589.2,2965.5 L590.5,2965.5 L591.8,2965.6 L593.1,2965.6 L594.4,2965.5 L595.7,2965.5 L597.0,2965.4 L598.3,2965.5 L599.6,2965.6 L600.9,2965.6 L602.2,2965.5 L603.5,2965.5 L604.8,2965.5 L606.1,2965.5 L607.4,2965.4 L608.7,2965.5 L610.0,2965.5 L611.3,2965.5 L612.6,2965.4 L613.9,2965.5 L615.2,2965.4 L616.5,2965.4 L617.8,2965.4 L619.1,2965.4 L620.4,2965.4 L621.7,2965.5 L623.0,2965.4 L624.3,2965.4 L625.6,2965.3 L626.9,2965.4 L628.2,2965.4 L629.5,2965.4 L630.8,2965.4 L632.1,2965.3 L633.4,2965.3 L634.7,2965.3 L636.0,2965.3 L637.3,2965.4 L638.6,2965.4 L639.9,2965.4 L641.2,2965.4 L642.5,2965.3 L643.8,2965.3 L645.1,2965.3 L646.4,2965.3 L647.7,2965.3 L649.0,2965.3 L650.3,2965.3 L651.6,2965.4 L652.9,2965.3 L654.2,2965.2 L655.5,2965.3 L656.8,2965.3 L658.1,2965.3 L659.4,2965.3 L660.7,2965.3 L662.0,2965.2 L663.3,2965.2 L664.6,2965.1 L665.9,2965.1 L667.2,2965.2 L668.5,2965.2 L669.8,2965.2 L671.1,2965.2 L672.4,2965.2 L673.7,2965.2 L675.0,2965.1 L676.3,2965.1 L677.6,2965.1 L678.9,2965.1 L680.2,2965.1 L681.5,2965.1 L682.8,2965.1 L684.1,2965.1 L685.4,2965.0 L686.7,2965.0 L688.0,2965.0 L689.3,2965.0 L690.6,2965.1 L691.9,2965.1 L693.2,2965.0 L694.5,2965.0 L695.8,2964.9 L697.1,2965.0 L698.4,2965.0 L699.7,2965.0 L701.0,2965.0 L702.3,2965.0 L703.6,2965.0 L704.9,2965.1 L706.2,2965.0 L707.5,2964.9 L708.8,2964.9 L710.1,2964.9 L711.4,2965.0 L712.7,2964.9 L714.0,2964.9 L715.3,2964.8 L716.6,2964.8 L717.9,2964.8 L719.2,2964.8 L720.5,2964.9 L721.8,2964.9 L723.1,2964.8 L724.4,2964.8 L725.7,2964.7 L727.0,2964.8 L728.3,2964.8 L729.6,2964.7 L730.9,2964.7 L732.2,2964.7 L733.5,2964.7 L734.8,2964.7 L736.1,2964.8 L737.4,2964.8 L738.7,2964.6 L740.0,2964.6 L741.3,2964.7 L742.6,2964.7 L743.9,2964.7 L745.2,2964.7 L746.5,2964.6 L747.8,2964.6 L749.1,2964.5 L750.4,2964.5 L751.7,2964.5 L753.0,2964.5 L754.3,2964.6 L755.6,2964.5 L756.9,2964.5 L758.2,2964.4 L759.5,2964.4 L760.8,2964.4 L762.1,2964.5 L763.4,2964.5 L764.7,2964.3 L766.0,2964.2 L767.3,2964.4 L768.6,2964.4 L769.9,2964.4 L771.2,2964.4 L772.5,2964.4 L773.8,2964.4 L775.1,2964.3 L776.4,2964.3 L777.7,2964.1 L779.0,2964.1 L780.3,2964.2 L781.6,2964.2 L782.9,2964.2 L784.2,2964.2 L785.5,2964.2 L786.8,2964.1 L788.1,2964.1 L789.4,2964.1 L790.7,2964.1 L792.0,2964.1 L793.3,2964.1 L794.6,2964.1 L795.9,2964.1 L797.2,2964.0 L798.5,2964.0 L799.8,2963.9 L801.1,2964.0 L802.4,2963.9 L803.7,2963.9 L805.0,2964.0 L806.3,2963.9 L807.6,2963.9 L808.9,2963.9 L810.2,2963.8 L811.5,2963.9 L812.8,2963.8 L814.1,2963.8 L815.4,2963.9 L816.7,2963.9 L818.0,2963.8 L819.3,2963.8 L820.6,2963.9 L821.9,2963.9 L823.2,2963.9 L824.5,2963.7 L825.8,2963.7 L827.1,2963.6 L828.4,2963.7 L829.7,2963.8 L831.0,2963.6 L832.3,2963.5 L833.6,2963.5 L834.9,2963.6 L836.2,2963.6 L837.5,2963.6 L838.8,2963.5 L840.1,2963.5 L841.4,2963.5 L842.7,2963.5 L844.0,2963.4 L845.3,2963.3 L846.6,2963.3 L847.9,2963.2 L849.2,2963.2 L850.5,2963.3 L851.8,2963.3 L853.1,2963.2 L854.4,2963.3 L855.7,2963.2 L857.0,2963.2 L858.3,2963.3 L859.6,2963.3 L860.9,2963.3 L862.2,2963.2 L863.5,2963.2 L864.8,2963.1 L866.1,2963.1 L867.4,2963.1 L868.7,2963.0 L870.0,2963.0 L871.3,2963.0 L872.6,2963.0 L873.9,2963.0 L875.2,2962.9 L876.5,2963.0 L877.8,2963.0 L879.1,2962.9 L880.4,2962.9 L881.7,2962.9 L883.0,2962.8 L884.3,2962.9 L885.6,2962.8 L886.9,2962.8 L888.2,2962.7 L889.5,2962.7 L890.8,2962.7 L892.1,2962.7 L893.4,2962.7 L894.7,2962.7 L896.0,2962.6 L897.3,2962.5 L898.6,2962.5 L899.9,2962.6 L901.2,2962.7 L902.5,2962.5 L903.8,2962.4 L905.1,2962.4 L906.4,2962.5 L907.7,2962.4 L909.0,2962.2 L910.3,2962.1 L911.6,2962.1 L912.9,2962.1 L914.2,2962.2 L915.5,2962.0 L916.8,2962.0 L918.1,2962.0 L919.4,2962.0 L920.7,2962.0 L922.0,2961.9 L923.3,2961.9 L924.6,2961.8 L925.9,2961.8 L927.2,2961.7 L928.5,2961.7 L929.8,2961.6 L931.1,2961.6 L932.4,2961.5 L933.7,2961.4 L935.0,2961.4 L936.3,2961.3 L937.6,2961.3 L938.9,2961.3 L940.2,2961.3 L941.5,2961.2 L942.8,2961.1 L944.1,2961.2 L945.4,2961.1 L946.7,2961.0 L948.0,2960.9 L949.3,2961.0 L950.6,2961.1 L951.9,2961.0 L953.2,2960.9 L954.5,2961.0 L955.8,2960.9 L957.1,2960.9 L958.4,2960.9 L959.7,2960.8 L961.0,2960.8 L962.3,2960.7 L963.6,2960.7 L964.9,2960.6 L966.2,2960.4 L967.5,2960.5 L968.8,2960.6 L970.1,2960.6 L971.4,2960.6 L972.7,2960.6 L974.0,2960.6 L975.3,2960.6 L976.6,2960.6 L977.9,2960.6 L979.2,2960.5 L980.5,2960.6 L981.8,2960.4 L983.1,2960.2 L984.4,2960.3 L985.7,2960.3 L987.0,2960.2 L988.3,2960.2 L989.6,2960.2 L990.9,2960.3 L992.2,2960.3 L993.5,2960.1 L994.8,2960.2 L996.1,2960.3 L997.4,2960.2 L998.7,2960.3 L1000.0,2960.3 L1001.3,2960.1 L1002.6,2960.1 L1003.9,2960.0 L1005.2,2960.0 L1006.5,2960.0 L1007.8,2960.0 L1009.1,2959.9 L1010.4,2959.9 L1011.7,2959.8 L1013.0,2959.6 L1014.3,2959.6 L1015.6,2959.7 L1016.9,2959.6 L1018.2,2959.6 L1019.5,2959.6 L1020.8,2959.3 L1022.1,2959.0 L1023.4,2958.9 L1024.7,2959.1 L1026.0,2959.0 L1027.3,2958.7 L1028.6,2958.6 L1029.9,2958.3 L1031.2,2958.2 L1032.5,2958.1 L1033.8,2957.9 L1035.1,2957.8 L1036.4,2957.5 L1037.7,2957.3 L1039.0,2957.4 L1040.3,2957.2 L1041.6,2956.6 L1042.9,2956.5 L1044.2,2956.4 L1045.5,2956.4 L1046.8,2956.1 L1048.1,2955.9 L1049.4,2955.7 L1050.7,2955.4 L1052.0,2955.1 L1053.3,2954.9 L1054.6,2954.8 L1055.9,2954.7 L1057.2,2954.3 L1058.5,2953.9 L1059.8,2953.6 L1061.1,2953.4 L1062.4,2953.1 L1063.7,2952.5 L1065.0,2952.1 L1066.3,2951.6 L1067.6,2951.2 L1068.9,2950.8 L1070.2,2950.4 L1071.5,2950.0 L1072.8,2949.6 L1074.1,2949.1 L1075.4,2948.6 L1076.7,2948.1 L1078.0,2947.4 L1079.3,2947.1 L1080.6,2946.6 L1081.9,2946.0 L1083.2,2945.3 L1084.5,2944.4 L1085.8,2943.5 L1087.1,2942.7 L1088.4,2941.9 L1089.7,2941.2 L1091.0,2940.4 L1092.3,2939.9 L1093.6,2939.0 L1094.9,2938.1 L1096.2,2937.5 L1097.5,2937.0 L1098.8,2936.5 L1100.1,2935.4 L1101.4,2934.3 L1102.7,2934.0 L1104.0,2933.1 L1105.3,2932.2 L1106.6,2931.4 L1107.9,2931.1 L1109.2,2931.0 L1110.5,2930.8 L1111.8,2929.3 L1113.1,2928.6 L1114.4,2928.2 L1115.7,2927.6 L1117.0,2927.0 L1118.3,2926.4 L1119.6,2925.8 L1120.9,2924.7 L1122.2,2924.0 L1123.5,2923.4 L1124.8,2922.4 L1126.1,2921.6 L1127.4,2921.4 L1128.7,2920.6 L1130.0,2919.2 L1131.3,2917.6 L1132.6,2917.1 L1133.9,2916.3 L1135.2,2915.3 L1136.5,2914.5 L1137.8,2913.6 L1139.1,2912.2 L1140.4,2911.0 L1141.7,2910.3 L1143.0,2909.5 L1144.3,2907.6 L1145.6,2906.2 L1146.9,2904.5 L1148.2,2903.9 L1149.5,2902.9 L1150.8,2901.3 L1152.1,2900.1 L1153.4,2899.3 L1154.7,2897.8 L1156.0,2896.8 L1157.3,2896.0 L1158.6,2894.6 L1159.9,2892.5 L1161.2,2890.4 L1162.5,2888.8 L1163.8,2887.6 L1165.1,2886.5 L1166.4,2885.1 L1167.7,2883.6 L1169.0,2881.9 L1170.3,2879.7 L1171.6,2877.2 L1172.9,2875.3 L1174.2,2873.8 L1175.5,2872.0 L1176.8,2870.5 L1178.1,2868.3 L1179.4,2866.6 L1180.7,2865.3 L1182.0,2862.0 L1183.3,2860.4 L1184.6,2858.6 L1185.9,2856.7 L1187.2,2855.0 L1188.5,2851.9 L1189.8,2848.9 L1191.1,2846.0 L1192.4,2842.9 L1193.7,2839.9 L1195.0,2838.0 L1196.3,2835.2 L1197.6,2831.2 L1198.9,2827.7 L1200.2,2824.6 L1201.5,2822.0 L1202.8,2819.0 L1204.1,2815.5 L1205.4,2811.6 L1206.7,2809.4 L1208.0,2806.6 L1209.3,2805.0 L1210.6,2801.7 L1211.9,2796.8 L1213.2,2794.1 L1214.5,2791.6 L1215.8,2789.1 L1217.1,2785.9 L1218.4,2782.0 L1219.7,2779.9 L1221.0,2776.7 L1222.3,2771.9 L1223.6,2767.1 L1224.9,2763.8 L1226.2,2760.2 L1227.5,2757.3 L1228.8,2755.4 L1230.1,2752.1 L1231.4,2749.2 L1232.7,2745.1 L1234.0,2741.7 L1235.3,2737.9 L1236.6,2734.6 L1237.9,2730.2 L1239.2,2725.6 L1240.5,2723.1 L1241.8,2721.3 L1243.1,2715.4 L1244.4,2712.4 L1245.7,2710.4 L1247.0,2708.1 L1248.3,2702.7 L1249.6,2698.8 L1250.9,2695.0 L1252.2,2687.6 L1253.5,2681.2 L1254.8,2674.7 L1256.1,2669.6 L1257.4,2667.9 L1258.7,2662.1 L1260.0,2655.4 L1261.3,2652.5 L1262.6,2648.1 L1263.9,2644.2 L1265.2,2639.4 L1266.5,2635.6 L1267.8,2633.4 L1269.1,2631.1 L1270.4,2630.1 L1271.7,2627.2 L1273.0,2623.9 L1274.3,2619.1 L1275.6,2618.3 L1276.9,2616.3 L1278.2,2610.2 L1279.5,2609.0 L1280.8,2609.0 L1282.1,2606.8 L1283.4,2605.5 L1284.7,2604.7 L1286.0,2601.4 L1287.3,2598.7 L1288.6,2594.2 L1289.9,2592.8 L1291.2,2591.0 L1292.5,2587.9 L1293.8,2581.3 L1295.1,2574.5 L1296.4,2572.0 L1297.7,2570.6 L1299.0,2561.7 L1300.3,2558.0 L1301.6,2551.8 L1302.9,2547.5 L1304.2,2546.4 L1305.5,2540.8 L1306.8,2534.8 L1308.1,2530.7 L1309.4,2528.7 L1310.7,2526.5 L1312.0,2521.1 L1313.3,2518.5 L1314.6,2513.0 L1315.9,2508.5 L1317.2,2505.1 L1318.5,2503.4 L1319.8,2498.0 L1321.1,2497.5 L1322.4,2492.7 L1323.7,2489.1 L1325.0,2492.8 L1326.3,2488.6 L1327.6,2476.5 L1328.9,2482.1 L1330.2,2483.9 L1331.5,2481.8 L1332.8,2477.5 L1334.1,2473.2 L1335.4,2472.9 L1336.7,2468.5 L1338.0,2464.5 L1339.3,2469.2 L1340.6,2457.1 L1341.9,2451.6 L1343.2,2451.3 L1344.5,2453.8 L1345.8,2447.5 L1347.1,2440.1 L1348.4,2437.8 L1349.7,2434.0 L1351.0,2427.2 L1352.3,2428.2 L1353.6,2427.4 L1354.9,2423.0 L1356.2,2418.4 L1357.5,2417.5 L1358.8,2414.2 L1360.1,2416.0 L1361.4,2408.4 L1362.7,2396.4 L1364.0,2386.2 L1365.3,2379.3 L1366.6,2379.5 L1367.9,2378.9 L1369.2,2374.5 L1370.5,2370.0 L1371.8,2367.2 L1373.1,2359.6 L1374.4,2353.8 L1375.7,2349.8 L1377.0,2348.4 L1378.3,2343.5 L1379.6,2338.6 L1380.9,2343.4 L1382.2,2339.7 L1383.5,2337.0 L1384.8,2331.7 L1386.1,2328.8 L1387.4,2326.7 L1388.7,2321.9 L1390.0,2319.4 L1391.3,2321.0 L1392.6,2319.5 L1393.9,2313.4 L1395.2,2308.9 L1396.5,2306.8 L1397.8,2303.8 L1399.1,2301.3 L1400.4,2298.8 L1401.7,2294.0 L1403.0,2294.3 L1404.3,2290.8 L1405.6,2286.7 L1406.9,2289.7 L1408.2,2288.8 L1409.5,2282.0 L1410.8,2276.4 L1412.1,2271.7 L1413.4,2271.8 L1414.7,2265.8 L1416.0,2257.0 L1417.3,2254.3 L1418.6,2256.0 L1419.9,2258.8 L1421.2,2256.1 L1422.5,2249.7 L1423.8,2244.7 L1425.1,2245.4 L1426.4,2243.4 L1427.7,2231.1 L1429.0,2226.5 L1430.3,2233.9 L1431.6,2235.3 L1432.9,2238.1 L1434.2,2234.8 L1435.5,2231.1 L1436.8,2221.6 L1438.1,2216.5 L1439.4,2213.0 L1440.7,2210.6 L1442.0,2208.3 L1443.3,2206.1 L1444.6,2204.9 L1445.9,2203.2 L1447.2,2199.2 L1448.5,2191.9 L1449.8,2193.9 L1451.1,2188.3 L1452.4,2180.9 L1453.7,2183.1 L1455.0,2181.6 L1456.3,2172.9 L1457.6,2167.5 L1458.9,2165.5 L1460.2,2164.1 L1461.5,2160.1 L1462.8,2162.2 L1464.1,2162.9 L1465.4,2162.9 L1466.7,2164.2 L1468.0,2160.4 L1469.3,2154.4 L1470.6,2153.8 L1471.9,2146.7 L1473.2,2148.2 L1474.5,2148.5 L1475.8,2140.2 L1477.1,2143.6 L1478.4,2144.7 L1479.7,2140.0 L1481.0,2139.2 L1482.3,2131.5 L1483.6,2124.9 L1484.9,2130.6 L1486.2,2127.6 L1487.5,2124.2 L1488.8,2119.1 L1490.1,2119.3 L1491.4,2112.3 L1492.7,2114.7 L1494.0,2110.0 L1495.3,2105.8 L1496.6,2103.7 L1497.9,2102.7 L1499.2,2096.4 L1500.5,2098.1 L1501.8,2097.2 L1503.1,2088.8 L1504.4,2089.7 L1505.7,2089.1 L1507.0,2087.6 L1508.3,2089.7 L1509.6,2085.5 L1510.9,2087.2 L1512.2,2084.1 L1513.5,2073.6 L1514.8,2065.8 L1516.1,2070.9 L1517.4,2076.6 L1518.7,2076.1 L1520.0,2074.2 L1521.3,2074.6 L1522.6,2063.8 L1523.9,2066.2 L1525.2,2070.7 L1526.5,2067.5 L1527.8,2055.8 L1529.1,2059.2 L1530.4,2059.8 L1531.7,2057.2 L1533.0,2059.7 L1534.3,2056.0 L1535.6,2051.8 L1536.9,2051.8 L1538.2,2052.5 L1539.5,2046.1 L1540.8,2042.6 L1542.1,2041.3 L1543.4,2038.4 L1544.7,2037.1 L1546.0,2034.3 L1547.3,2041.2 L1548.6,2035.8 L1549.9,2026.2 L1551.2,2026.4 L1552.5,2024.6 L1553.8,2023.1 L1555.1,2022.2 L1556.4,2024.6 L1557.7,2027.0 L1559.0,2024.6 L1560.3,2015.6 L1561.6,2012.3 L1562.9,2011.9 L1564.2,2009.6 L1565.5,2009.6 L1566.8,2006.9 L1568.1,2008.9 L1569.4,2012.8 L1570.7,2005.5 L1572.0,2005.6 L1573.3,1998.6 L1574.6,2000.2 L1575.9,2002.5 L1577.2,1996.5 L1578.5,1993.7 L1579.8,1990.5 L1581.1,1996.2 L1582.4,1996.4 L1583.7,1990.0 L1585.0,1989.9 L1586.3,1989.6 L1587.6,1990.0 L1588.9,1981.9 L1590.2,1975.6 L1591.5,1974.9 L1592.8,1976.3 L1594.1,1975.0 L1595.4,1971.8 L1596.7,1968.3 L1598.0,1971.4 L1599.3,1971.1 L1600.6,1967.0 L1601.9,1959.6 L1603.2,1960.7 L1604.5,1962.5 L1605.8,1959.6 L1607.1,1957.8 L1608.4,1963.9 L1609.7,1959.3 L1611.0,1957.3 L1612.3,1954.7 L1613.6,1953.7 L1614.9,1959.1 L1616.2,1956.5 L1617.5,1958.1 L1618.8,1958.5 L1620.1,1956.0 L1621.4,1951.8 L1622.7,1949.0 L1624.0,1942.7 L1625.3,1942.2 L1626.6,1943.2 L1627.9,1940.7 L1629.2,1938.6 L1630.5,1936.7 L1631.8,1936.9 L1633.1,1937.3 L1634.4,1933.6 L1635.7,1931.1 L1637.0,1933.6 L1638.3,1931.3 L1639.6,1931.8 L1640.9,1934.5 L1642.2,1926.8 L1643.5,1919.3 L1644.8,1917.3 L1646.1,1913.5 L1647.4,1914.4 L1648.7,1919.3 L1650.0,1914.0 L1651.3,1911.6 L1652.6,1906.4 L1653.9,1906.0 L1655.2,1903.5 L1656.5,1903.2 L1657.8,1902.6 L1659.1,1911.1 L1660.4,1907.4 L1661.7,1901.2 L1663.0,1898.6 L1664.3,1905.3 L1665.6,1903.2 L1666.9,1887.7 L1668.2,1886.1 L1669.5,1894.1 L1670.8,1882.1 L1672.1,1870.4 L1673.4,1876.9 L1674.7,1891.6 L1676.0,1890.2 L1677.3,1880.3 L1678.6,1868.3 L1679.9,1870.1 L1681.2,1865.8 L1682.5,1866.9 L1683.8,1869.4 L1685.1,1872.4 L1686.4,1870.9 L1687.7,1863.9 L1689.0,1859.3 L1690.3,1850.6 L1691.6,1849.9 L1692.9,1852.2 L1694.2,1848.8 L1695.5,1842.3 L1696.8,1843.7 L1698.1,1849.2 L1699.4,1849.9 L1700.7,1840.5 L1702.0,1836.9 L1703.3,1847.8 L1704.6,1849.2 L1705.9,1843.3 L1707.2,1832.3 L1708.5,1830.5 L1709.8,1835.0 L1711.1,1831.3 L1712.4,1830.1 L1713.7,1830.4 L1715.0,1829.9 L1716.3,1833.6 L1717.6,1831.3 L1718.9,1821.1 L1720.2,1817.2 L1721.5,1811.0 L1722.8,1814.1 L1724.1,1812.5 L1725.4,1807.7 L1726.7,1798.2 L1728.0,1793.5 L1729.3,1798.2 L1730.6,1797.7 L1731.9,1801.5 L1733.2,1792.5 L1734.5,1781.6 L1735.8,1785.5 L1737.1,1786.8 L1738.4,1789.3 L1739.7,1777.7 L1741.0,1763.5 L1742.3,1766.8 L1743.6,1771.4 L1744.9,1775.0 L1746.2,1775.8 L1747.5,1773.9 L1748.8,1772.4 L1750.1,1763.5 L1751.4,1754.5 L1752.7,1755.4 L1754.0,1755.2 L1755.3,1755.1 L1756.6,1749.5 L1757.9,1748.1 L1759.2,1744.0 L1760.5,1748.2 L1761.8,1748.2 L1763.1,1738.1 L1764.4,1731.7 L1765.7,1735.0 L1767.0,1729.2 L1768.3,1722.6 L1769.6,1726.7 L1770.9,1727.3 L1772.2,1728.1 L1773.5,1715.1 L1774.8,1717.8 L1776.1,1720.0 L1777.4,1720.1 L1778.7,1712.3 L1780.0,1702.8 L1781.3,1705.0 L1782.6,1697.5 L1783.9,1695.8 L1785.2,1701.1 L1786.5,1693.4 L1787.8,1690.0 L1789.1,1686.3 L1790.4,1683.8 L1791.7,1688.6 L1793.0,1687.7 L1794.3,1670.3 L1795.6,1667.3 L1796.9,1668.6 L1798.2,1663.1 L1799.5,1653.7 L1800.8,1648.4 L1802.1,1649.0 L1803.4,1647.0 L1804.7,1646.0" fill="none" stroke="#515151" stroke-width="7.4" stroke-linejoin="round" stroke-linecap="butt"/>
<path d="M337.0,2966.5 L338.3,2966.5 L339.6,2966.5 L340.9,2966.5 L342.2,2966.4 L343.5,2966.4 L344.8,2966.4 L346.1,2966.5 L347.4,2966.5 L348.7,2966.5 L350.0,2966.5 L351.3,2966.5 L352.6,2966.5 L353.9,2966.4 L355.2,2966.5 L356.5,2966.4 L357.8,2966.4 L359.1,2966.5 L360.4,2966.5 L361.7,2966.5 L363.0,2966.5 L364.3,2966.5 L365.6,2966.5 L366.9,2966.4 L368.2,2966.4 L369.5,2966.4 L370.8,2966.5 L372.1,2966.4 L373.4,2966.4 L374.7,2966.4 L376.0,2966.4 L377.3,2966.4 L378.6,2966.5 L379.9,2966.5 L381.2,2966.4 L382.5,2966.4 L383.8,2966.4 L385.1,2966.4 L386.4,2966.4 L387.7,2966.4 L389.0,2966.4 L390.3,2966.4 L391.6,2966.4 L392.9,2966.4 L394.2,2966.3 L395.5,2966.3 L396.8,2966.3 L398.1,2966.3 L399.4,2966.4 L400.7,2966.4 L402.0,2966.4 L403.3,2966.4 L404.6,2966.4 L405.9,2966.3 L407.2,2966.3 L408.5,2966.3 L409.8,2966.3 L411.1,2966.3 L412.4,2966.3 L413.7,2966.3 L415.0,2966.3 L416.3,2966.3 L417.6,2966.3 L418.9,2966.2 L420.2,2966.2 L421.5,2966.3 L422.8,2966.3 L424.1,2966.3 L425.4,2966.3 L426.7,2966.3 L428.0,2966.3 L429.3,2966.2 L430.6,2966.2 L431.9,2966.2 L433.2,2966.2 L434.5,2966.3 L435.8,2966.3 L437.1,2966.2 L438.4,2966.2 L439.7,2966.2 L441.0,2966.2 L442.3,2966.2 L443.6,2966.2 L444.9,2966.2 L446.2,2966.2 L447.5,2966.2 L448.8,2966.2 L450.1,2966.1 L451.4,2966.1 L452.7,2966.2 L454.0,2966.1 L455.3,2966.0 L456.6,2966.1 L457.9,2966.2 L459.2,2966.3 L460.5,2966.3 L461.8,2966.2 L463.1,2966.1 L464.4,2966.1 L465.7,2966.0 L467.0,2966.1 L468.3,2966.1 L469.6,2966.1 L470.9,2966.1 L472.2,2966.1 L473.5,2966.1 L474.8,2966.1 L476.1,2966.1 L477.4,2966.1 L478.7,2966.1 L480.0,2966.1 L481.3,2966.1 L482.6,2966.1 L483.9,2966.0 L485.2,2966.0 L486.5,2966.0 L487.8,2966.1 L489.1,2966.1 L490.4,2966.1 L491.7,2966.1 L493.0,2966.0 L494.3,2966.0 L495.6,2966.0 L496.9,2966.0 L498.2,2966.0 L499.5,2965.9 L500.8,2965.9 L502.1,2966.0 L503.4,2965.9 L504.7,2966.0 L506.0,2966.0 L507.3,2965.9 L508.6,2966.0 L509.9,2965.9 L511.2,2965.9 L512.5,2965.9 L513.8,2965.9 L515.1,2965.9 L516.4,2965.9 L517.7,2965.9 L519.0,2965.9 L520.3,2965.9 L521.6,2965.9 L522.9,2965.9 L524.2,2965.9 L525.5,2965.9 L526.8,2965.9 L528.1,2965.9 L529.4,2965.8 L530.7,2965.9 L532.0,2965.9 L533.3,2965.9 L534.6,2965.8 L535.9,2965.9 L537.2,2965.8 L538.5,2965.9 L539.8,2965.8 L541.1,2965.8 L542.4,2965.8 L543.7,2965.8 L545.0,2965.8 L546.3,2965.7 L547.6,2965.8 L548.9,2965.8 L550.2,2965.8 L551.5,2965.8 L552.8,2965.8 L554.1,2965.8 L555.4,2965.7 L556.7,2965.7 L558.0,2965.8 L559.3,2965.8 L560.6,2965.7 L561.9,2965.7 L563.2,2965.7 L564.5,2965.8 L565.8,2965.7 L567.1,2965.7 L568.4,2965.7 L569.7,2965.7 L571.0,2965.7 L572.3,2965.7 L573.6,2965.6 L574.9,2965.6 L576.2,2965.6 L577.5,2965.6 L578.8,2965.7 L580.1,2965.6 L581.4,2965.6 L582.7,2965.6 L584.0,2965.5 L585.3,2965.6 L586.6,2965.6 L587.9,2965.6 L589.2,2965.6 L590.5,2965.6 L591.8,2965.6 L593.1,2965.6 L594.4,2965.5 L595.7,2965.6 L597.0,2965.6 L598.3,2965.6 L599.6,2965.5 L600.9,2965.4 L602.2,2965.5 L603.5,2965.5 L604.8,2965.5 L606.1,2965.5 L607.4,2965.5 L608.7,2965.5 L610.0,2965.5 L611.3,2965.4 L612.6,2965.4 L613.9,2965.4 L615.2,2965.4 L616.5,2965.4 L617.8,2965.4 L619.1,2965.3 L620.4,2965.3 L621.7,2965.3 L623.0,2965.3 L624.3,2965.2 L625.6,2965.2 L626.9,2965.2 L628.2,2965.3 L629.5,2965.3 L630.8,2965.2 L632.1,2965.3 L633.4,2965.2 L634.7,2965.2 L636.0,2965.2 L637.3,2965.2 L638.6,2965.2 L639.9,2965.2 L641.2,2965.2 L642.5,2965.1 L643.8,2965.1 L645.1,2965.0 L646.4,2965.0 L647.7,2965.1 L649.0,2965.1 L650.3,2965.0 L651.6,2965.1 L652.9,2965.0 L654.2,2964.9 L655.5,2965.0 L656.8,2964.9 L658.1,2964.9 L659.4,2964.9 L660.7,2964.9 L662.0,2964.9 L663.3,2964.9 L664.6,2964.9 L665.9,2964.9 L667.2,2964.8 L668.5,2964.9 L669.8,2964.9 L671.1,2964.8 L672.4,2964.8 L673.7,2964.8 L675.0,2964.7 L676.3,2964.7 L677.6,2964.7 L678.9,2964.7 L680.2,2964.8 L681.5,2964.7 L682.8,2964.6 L684.1,2964.7 L685.4,2964.7 L686.7,2964.7 L688.0,2964.6 L689.3,2964.6 L690.6,2964.5 L691.9,2964.6 L693.2,2964.5 L694.5,2964.5 L695.8,2964.5 L697.1,2964.6 L698.4,2964.5 L699.7,2964.5 L701.0,2964.5 L702.3,2964.4 L703.6,2964.4 L704.9,2964.4 L706.2,2964.4 L707.5,2964.4 L708.8,2964.4 L710.1,2964.4 L711.4,2964.3 L712.7,2964.4 L714.0,2964.4 L715.3,2964.4 L716.6,2964.4 L717.9,2964.3 L719.2,2964.3 L720.5,2964.3 L721.8,2964.3 L723.1,2964.3 L724.4,2964.3 L725.7,2964.3 L727.0,2964.2 L728.3,2964.2 L729.6,2964.3 L730.9,2964.3 L732.2,2964.3 L733.5,2964.2 L734.8,2964.2 L736.1,2964.1 L737.4,2964.2 L738.7,2964.2 L740.0,2964.2 L741.3,2964.1 L742.6,2964.2 L743.9,2964.1 L745.2,2964.0 L746.5,2964.0 L747.8,2964.0 L749.1,2964.0 L750.4,2964.0 L751.7,2963.9 L753.0,2964.0 L754.3,2964.0 L755.6,2963.9 L756.9,2963.9 L758.2,2963.9 L759.5,2963.9 L760.8,2964.0 L762.1,2964.0 L763.4,2963.8 L764.7,2963.9 L766.0,2963.8 L767.3,2963.9 L768.6,2963.9 L769.9,2963.9 L771.2,2963.9 L772.5,2963.8 L773.8,2963.8 L775.1,2963.8 L776.4,2963.8 L777.7,2963.8 L779.0,2963.7 L780.3,2963.7 L781.6,2963.7 L782.9,2963.7 L784.2,2963.7 L785.5,2963.7 L786.8,2963.7 L788.1,2963.6 L789.4,2963.7 L790.7,2963.6 L792.0,2963.5 L793.3,2963.6 L794.6,2963.6 L795.9,2963.7 L797.2,2963.7 L798.5,2963.6 L799.8,2963.6 L801.1,2963.5 L802.4,2963.4 L803.7,2963.4 L805.0,2963.3 L806.3,2963.4 L807.6,2963.4 L808.9,2963.4 L810.2,2963.4 L811.5,2963.4 L812.8,2963.4 L814.1,2963.3 L815.4,2963.3 L816.7,2963.3 L818.0,2963.2 L819.3,2963.2 L820.6,2963.3 L821.9,2963.3 L823.2,2963.2 L824.5,2963.2 L825.8,2963.2 L827.1,2963.2 L828.4,2963.3 L829.7,2963.1 L831.0,2963.2 L832.3,2963.2 L833.6,2963.2 L834.9,2963.1 L836.2,2963.0 L837.5,2963.0 L838.8,2962.9 L840.1,2962.9 L841.4,2963.0 L842.7,2963.0 L844.0,2962.9 L845.3,2963.0 L846.6,2963.0 L847.9,2962.8 L849.2,2962.7 L850.5,2962.7 L851.8,2962.8 L853.1,2962.8 L854.4,2962.7 L855.7,2962.8 L857.0,2962.9 L858.3,2962.8 L859.6,2962.7 L860.9,2962.7 L862.2,2962.7 L863.5,2962.6 L864.8,2962.6 L866.1,2962.7 L867.4,2962.6 L868.7,2962.6 L870.0,2962.6 L871.3,2962.6 L872.6,2962.5 L873.9,2962.5 L875.2,2962.5 L876.5,2962.5 L877.8,2962.4 L879.1,2962.4 L880.4,2962.4 L881.7,2962.3 L883.0,2962.3 L884.3,2962.3 L885.6,2962.3 L886.9,2962.3 L888.2,2962.3 L889.5,2962.2 L890.8,2962.1 L892.1,2962.2 L893.4,2962.0 L894.7,2962.0 L896.0,2962.0 L897.3,2962.0 L898.6,2962.0 L899.9,2962.0 L901.2,2962.0 L902.5,2962.0 L903.8,2961.9 L905.1,2961.9 L906.4,2961.8 L907.7,2961.9 L909.0,2961.9 L910.3,2961.9 L911.6,2961.8 L912.9,2961.7 L914.2,2961.6 L915.5,2961.7 L916.8,2961.8 L918.1,2961.6 L919.4,2961.5 L920.7,2961.6 L922.0,2961.5 L923.3,2961.5 L924.6,2961.3 L925.9,2961.2 L927.2,2961.3 L928.5,2961.3 L929.8,2961.2 L931.1,2961.2 L932.4,2961.2 L933.7,2961.1 L935.0,2961.1 L936.3,2961.0 L937.6,2960.9 L938.9,2960.8 L940.2,2960.8 L941.5,2960.9 L942.8,2960.9 L944.1,2960.8 L945.4,2960.7 L946.7,2960.6 L948.0,2960.6 L949.3,2960.5 L950.6,2960.4 L951.9,2960.4 L953.2,2960.4 L954.5,2960.3 L955.8,2960.4 L957.1,2960.3 L958.4,2960.1 L959.7,2960.0 L961.0,2960.0 L962.3,2959.9 L963.6,2959.9 L964.9,2959.8 L966.2,2959.6 L967.5,2959.5 L968.8,2959.4 L970.1,2959.4 L971.4,2959.4 L972.7,2959.4 L974.0,2959.3 L975.3,2959.1 L976.6,2959.0 L977.9,2959.1 L979.2,2958.9 L980.5,2958.7 L981.8,2958.5 L983.1,2958.4 L984.4,2958.3 L985.7,2958.2 L987.0,2958.1 L988.3,2958.0 L989.6,2957.9 L990.9,2957.6 L992.2,2957.6 L993.5,2957.6 L994.8,2957.4 L996.1,2957.3 L997.4,2957.1 L998.7,2956.9 L1000.0,2956.8 L1001.3,2956.6 L1002.6,2956.6 L1003.9,2956.4 L1005.2,2956.2 L1006.5,2956.1 L1007.8,2955.8 L1009.1,2955.7 L1010.4,2955.8 L1011.7,2955.7 L1013.0,2955.4 L1014.3,2955.3 L1015.6,2955.2 L1016.9,2954.9 L1018.2,2954.7 L1019.5,2954.5 L1020.8,2954.1 L1022.1,2954.0 L1023.4,2953.8 L1024.7,2953.8 L1026.0,2953.5 L1027.3,2953.3 L1028.6,2953.0 L1029.9,2952.8 L1031.2,2952.7 L1032.5,2952.3 L1033.8,2952.2 L1035.1,2952.0 L1036.4,2952.0 L1037.7,2951.8 L1039.0,2951.4 L1040.3,2951.0 L1041.6,2950.9 L1042.9,2950.8 L1044.2,2950.4 L1045.5,2950.2 L1046.8,2950.0 L1048.1,2949.8 L1049.4,2949.5 L1050.7,2949.2 L1052.0,2948.9 L1053.3,2948.7 L1054.6,2948.4 L1055.9,2948.5 L1057.2,2948.3 L1058.5,2947.8 L1059.8,2947.5 L1061.1,2947.1 L1062.4,2946.7 L1063.7,2946.4 L1065.0,2946.3 L1066.3,2946.1 L1067.6,2945.9 L1068.9,2945.5 L1070.2,2945.2 L1071.5,2945.0 L1072.8,2944.7 L1074.1,2944.5 L1075.4,2944.2 L1076.7,2943.9 L1078.0,2943.7 L1079.3,2943.1 L1080.6,2942.8 L1081.9,2942.5 L1083.2,2942.1 L1084.5,2941.7 L1085.8,2941.6 L1087.1,2941.4 L1088.4,2940.9 L1089.7,2940.5 L1091.0,2940.2 L1092.3,2939.9 L1093.6,2939.7 L1094.9,2939.1 L1096.2,2938.7 L1097.5,2938.4 L1098.8,2938.2 L1100.1,2937.9 L1101.4,2937.3 L1102.7,2936.6 L1104.0,2936.2 L1105.3,2935.7 L1106.6,2935.3 L1107.9,2934.9 L1109.2,2934.5 L1110.5,2933.7 L1111.8,2933.1 L1113.1,2932.7 L1114.4,2932.0 L1115.7,2931.4 L1117.0,2930.7 L1118.3,2930.5 L1119.6,2930.2 L1120.9,2929.4 L1122.2,2928.7 L1123.5,2928.1 L1124.8,2927.7 L1126.1,2927.4 L1127.4,2926.7 L1128.7,2925.7 L1130.0,2925.0 L1131.3,2924.7 L1132.6,2924.1 L1133.9,2923.8 L1135.2,2923.0 L1136.5,2922.4 L1137.8,2921.9 L1139.1,2921.0 L1140.4,2920.1 L1141.7,2919.6 L1143.0,2918.8 L1144.3,2917.7 L1145.6,2917.1 L1146.9,2916.7 L1148.2,2916.0 L1149.5,2915.3 L1150.8,2914.3 L1152.1,2913.1 L1153.4,2912.2 L1154.7,2911.8 L1156.0,2911.2 L1157.3,2910.4 L1158.6,2909.5 L1159.9,2908.6 L1161.2,2908.0 L1162.5,2906.9 L1163.8,2905.5 L1165.1,2904.4 L1166.4,2903.4 L1167.7,2903.0 L1169.0,2901.6 L1170.3,2900.0 L1171.6,2899.5 L1172.9,2898.5 L1174.2,2897.6 L1175.5,2896.5 L1176.8,2895.1 L1178.1,2893.3 L1179.4,2891.8 L1180.7,2891.2 L1182.0,2890.3 L1183.3,2888.7 L1184.6,2887.1 L1185.9,2885.6 L1187.2,2884.6 L1188.5,2883.6 L1189.8,2881.6 L1191.1,2880.0 L1192.4,2878.7 L1193.7,2877.2 L1195.0,2875.1 L1196.3,2873.7 L1197.6,2872.2 L1198.9,2870.4 L1200.2,2868.0 L1201.5,2866.8 L1202.8,2865.6 L1204.1,2863.9 L1205.4,2861.8 L1206.7,2859.3 L1208.0,2857.6 L1209.3,2855.5 L1210.6,2852.6 L1211.9,2850.1 L1213.2,2848.1 L1214.5,2846.0 L1215.8,2843.2 L1217.1,2839.9 L1218.4,2838.5 L1219.7,2835.6 L1221.0,2832.2 L1222.3,2830.3 L1223.6,2829.0 L1224.9,2827.0 L1226.2,2824.3 L1227.5,2821.0 L1228.8,2817.5 L1230.1,2814.6 L1231.4,2812.3 L1232.7,2810.4 L1234.0,2807.2 L1235.3,2803.9 L1236.6,2800.4 L1237.9,2798.3 L1239.2,2797.0 L1240.5,2795.0 L1241.8,2790.9 L1243.1,2787.9 L1244.4,2783.7 L1245.7,2780.2 L1247.0,2777.9 L1248.3,2775.6 L1249.6,2773.1 L1250.9,2769.5 L1252.2,2764.9 L1253.5,2761.7 L1254.8,2759.0 L1256.1,2756.0 L1257.4,2753.9 L1258.7,2750.5 L1260.0,2746.4 L1261.3,2743.6 L1262.6,2741.0 L1263.9,2738.2 L1265.2,2733.9 L1266.5,2732.2 L1267.8,2729.9 L1269.1,2726.1 L1270.4,2723.3 L1271.7,2720.4 L1273.0,2717.1 L1274.3,2712.6 L1275.6,2709.6 L1276.9,2706.7 L1278.2,2702.6 L1279.5,2698.1 L1280.8,2693.9 L1282.1,2689.8 L1283.4,2687.9 L1284.7,2685.4 L1286.0,2681.1 L1287.3,2675.3 L1288.6,2672.0 L1289.9,2669.6 L1291.2,2667.0 L1292.5,2662.9 L1293.8,2658.7 L1295.1,2654.7 L1296.4,2650.4 L1297.7,2646.7 L1299.0,2644.1 L1300.3,2640.3 L1301.6,2635.0 L1302.9,2632.7 L1304.2,2628.0 L1305.5,2624.8 L1306.8,2622.4 L1308.1,2617.7 L1309.4,2614.2 L1310.7,2612.3 L1312.0,2610.0 L1313.3,2608.2 L1314.6,2604.1 L1315.9,2603.5 L1317.2,2604.9 L1318.5,2595.7 L1319.8,2589.8 L1321.1,2590.2 L1322.4,2585.5 L1323.7,2582.5 L1325.0,2574.6 L1326.3,2565.3 L1327.6,2560.9 L1328.9,2559.4 L1330.2,2550.9 L1331.5,2549.7 L1332.8,2548.9 L1334.1,2543.1 L1335.4,2542.6 L1336.7,2543.1 L1338.0,2542.0 L1339.3,2537.1 L1340.6,2538.6 L1341.9,2527.0 L1343.2,2526.8 L1344.5,2521.2 L1345.8,2517.3 L1347.1,2520.2 L1348.4,2512.3 L1349.7,2499.2 L1351.0,2498.3 L1352.3,2497.9 L1353.6,2492.4 L1354.9,2484.0 L1356.2,2478.9 L1357.5,2483.3 L1358.8,2489.5 L1360.1,2485.5 L1361.4,2482.4 L1362.7,2482.4 L1364.0,2483.3 L1365.3,2483.0 L1366.6,2483.2 L1367.9,2477.4 L1369.2,2471.8 L1370.5,2467.1 L1371.8,2464.2 L1373.1,2461.4 L1374.4,2453.9 L1375.7,2442.6 L1377.0,2438.8 L1378.3,2435.7 L1379.6,2426.6 L1380.9,2420.7 L1382.2,2416.7 L1383.5,2414.1 L1384.8,2409.7 L1386.1,2408.3 L1387.4,2405.9 L1388.7,2405.2 L1390.0,2401.7 L1391.3,2396.8 L1392.6,2391.3 L1393.9,2389.2 L1395.2,2385.8 L1396.5,2380.8 L1397.8,2377.3 L1399.1,2373.7 L1400.4,2367.4 L1401.7,2364.2 L1403.0,2362.6 L1404.3,2356.3 L1405.6,2351.5 L1406.9,2348.1 L1408.2,2346.7 L1409.5,2341.9 L1410.8,2335.6 L1412.1,2332.1 L1413.4,2328.8 L1414.7,2322.7 L1416.0,2317.7 L1417.3,2313.1 L1418.6,2311.7 L1419.9,2306.3 L1421.2,2298.3 L1422.5,2295.7 L1423.8,2294.5 L1425.1,2291.1 L1426.4,2286.9 L1427.7,2279.5 L1429.0,2273.7 L1430.3,2270.8 L1431.6,2270.5 L1432.9,2266.2 L1434.2,2255.3 L1435.5,2249.4 L1436.8,2251.5 L1438.1,2247.3 L1439.4,2241.5 L1440.7,2239.8 L1442.0,2240.7 L1443.3,2236.9 L1444.6,2235.3 L1445.9,2232.2 L1447.2,2230.7 L1448.5,2228.6 L1449.8,2223.7 L1451.1,2217.3 L1452.4,2210.0 L1453.7,2199.7 L1455.0,2188.7 L1456.3,2183.9 L1457.6,2183.4 L1458.9,2180.9 L1460.2,2176.1 L1461.5,2173.1 L1462.8,2168.8 L1464.1,2169.4 L1465.4,2165.6 L1466.7,2154.5 L1468.0,2146.1 L1469.3,2147.6 L1470.6,2145.1 L1471.9,2145.5 L1473.2,2138.7 L1474.5,2132.9 L1475.8,2133.5 L1477.1,2129.7 L1478.4,2119.7 L1479.7,2115.6 L1481.0,2114.9 L1482.3,2116.2 L1483.6,2111.2 L1484.9,2107.3 L1486.2,2098.1 L1487.5,2093.4 L1488.8,2089.4 L1490.1,2089.1 L1491.4,2081.6 L1492.7,2081.2 L1494.0,2078.3 L1495.3,2071.2 L1496.6,2070.8 L1497.9,2061.8 L1499.2,2057.8 L1500.5,2058.3 L1501.8,2056.3 L1503.1,2054.2 L1504.4,2051.1 L1505.7,2048.1 L1507.0,2048.0 L1508.3,2041.2 L1509.6,2036.3 L1510.9,2029.6 L1512.2,2030.5 L1513.5,2027.9 L1514.8,2023.2 L1516.1,2021.1 L1517.4,2018.6 L1518.7,2011.7 L1520.0,2004.6 L1521.3,1999.5 L1522.6,1997.3 L1523.9,1999.3 L1525.2,1993.0 L1526.5,1990.9 L1527.8,1985.9 L1529.1,1979.5 L1530.4,1981.9 L1531.7,1979.4 L1533.0,1979.8 L1534.3,1981.4 L1535.6,1979.5 L1536.9,1972.4 L1538.2,1960.9 L1539.5,1956.7 L1540.8,1955.2 L1542.1,1951.6 L1543.4,1945.2 L1544.7,1945.0 L1546.0,1937.7 L1547.3,1930.4 L1548.6,1925.5 L1549.9,1922.9 L1551.2,1919.5 L1552.5,1912.3 L1553.8,1905.8 L1555.1,1906.3 L1556.4,1908.6 L1557.7,1903.9 L1559.0,1903.8 L1560.3,1896.9 L1561.6,1890.9 L1562.9,1887.4 L1564.2,1885.5 L1565.5,1886.3 L1566.8,1879.2 L1568.1,1875.6 L1569.4,1870.7 L1570.7,1867.1 L1572.0,1864.8 L1573.3,1857.0 L1574.6,1849.4 L1575.9,1853.5 L1577.2,1850.4 L1578.5,1850.4 L1579.8,1846.8 L1581.1,1830.4 L1582.4,1825.5 L1583.7,1826.3 L1585.0,1821.6 L1586.3,1822.6 L1587.6,1829.0 L1588.9,1827.1 L1590.2,1814.2 L1591.5,1808.6 L1592.8,1810.7 L1594.1,1813.1 L1595.4,1806.4 L1596.7,1798.4 L1598.0,1793.3 L1599.3,1790.9 L1600.6,1784.1 L1601.9,1781.6 L1603.2,1774.4 L1604.5,1769.9 L1605.8,1767.2 L1607.1,1765.5 L1608.4,1767.7 L1609.7,1763.7 L1611.0,1758.0 L1612.3,1758.1 L1613.6,1751.6 L1614.9,1746.4 L1616.2,1740.3 L1617.5,1735.3 L1618.8,1736.4 L1620.1,1733.9 L1621.4,1723.8 L1622.7,1716.9 L1624.0,1715.2 L1625.3,1710.7 L1626.6,1710.3 L1627.9,1711.0 L1629.2,1712.6 L1630.5,1710.3 L1631.8,1707.2 L1633.1,1700.0 L1634.4,1690.6 L1635.7,1690.5 L1637.0,1691.6 L1638.3,1676.6 L1639.6,1679.3 L1640.9,1681.8 L1642.2,1671.3 L1643.5,1672.2 L1644.8,1677.4 L1646.1,1671.2 L1647.4,1670.4 L1648.7,1661.8 L1650.0,1654.3 L1651.3,1655.3 L1652.6,1650.5 L1652.9,1641.5" fill="none" stroke="#f14040" stroke-width="7.4" stroke-linejoin="round" stroke-linecap="butt"/>
<path d="M337.0,2966.5 L338.3,2966.6 L339.6,2966.5 L340.9,2966.5 L342.2,2966.4 L343.5,2966.4 L344.8,2966.5 L346.1,2966.5 L347.4,2966.5 L348.7,2966.5 L350.0,2966.5 L351.3,2966.5 L352.6,2966.4 L353.9,2966.4 L355.2,2966.4 L356.5,2966.4 L357.8,2966.4 L359.1,2966.3 L360.4,2966.4 L361.7,2966.4 L363.0,2966.4 L364.3,2966.4 L365.6,2966.4 L366.9,2966.4 L368.2,2966.4 L369.5,2966.4 L370.8,2966.4 L372.1,2966.4 L373.4,2966.4 L374.7,2966.4 L376.0,2966.3 L377.3,2966.3 L378.6,2966.3 L379.9,2966.4 L381.2,2966.3 L382.5,2966.3 L383.8,2966.3 L385.1,2966.3 L386.4,2966.3 L387.7,2966.3 L389.0,2966.3 L390.3,2966.3 L391.6,2966.3 L392.9,2966.3 L394.2,2966.2 L395.5,2966.2 L396.8,2966.2 L398.1,2966.2 L399.4,2966.3 L400.7,2966.3 L402.0,2966.2 L403.3,2966.2 L404.6,2966.2 L405.9,2966.1 L407.2,2966.1 L408.5,2966.2 L409.8,2966.2 L411.1,2966.1 L412.4,2966.1 L413.7,2966.2 L415.0,2966.1 L416.3,2966.1 L417.6,2966.0 L418.9,2966.1 L420.2,2966.1 L421.5,2966.0 L422.8,2966.0 L424.1,2966.0 L425.4,2966.0 L426.7,2966.0 L428.0,2966.0 L429.3,2966.0 L430.6,2966.0 L431.9,2966.0 L433.2,2966.0 L434.5,2966.0 L435.8,2965.9 L437.1,2965.9 L438.4,2966.0 L439.7,2966.0 L441.0,2965.9 L442.3,2965.9 L443.6,2965.9 L444.9,2965.9 L446.2,2965.9 L447.5,2965.8 L448.8,2965.9 L450.1,2965.9 L451.4,2965.9 L452.7,2965.8 L454.0,2965.8 L455.3,2965.8 L456.6,2965.8 L457.9,2965.9 L459.2,2965.9 L460.5,2965.8 L461.8,2965.7 L463.1,2965.7 L464.4,2965.8 L465.7,2965.9 L467.0,2965.7 L468.3,2965.6 L469.6,2965.6 L470.9,2965.7 L472.2,2965.7 L473.5,2965.7 L474.8,2965.7 L476.1,2965.7 L477.4,2965.7 L478.7,2965.7 L480.0,2965.7 L481.3,2965.7 L482.6,2965.7 L483.9,2965.6 L485.2,2965.5 L486.5,2965.6 L487.8,2965.6 L489.1,2965.6 L490.4,2965.6 L491.7,2965.6 L493.0,2965.6 L494.3,2965.5 L495.6,2965.5 L496.9,2965.6 L498.2,2965.5 L499.5,2965.5 L500.8,2965.5 L502.1,2965.5 L503.4,2965.5 L504.7,2965.4 L506.0,2965.5 L507.3,2965.4 L508.6,2965.4 L509.9,2965.5 L511.2,2965.4 L512.5,2965.4 L513.8,2965.3 L515.1,2965.4 L516.4,2965.5 L517.7,2965.4 L519.0,2965.4 L520.3,2965.4 L521.6,2965.3 L522.9,2965.3 L524.2,2965.3 L525.5,2965.2 L526.8,2965.2 L528.1,2965.3 L529.4,2965.4 L530.7,2965.3 L532.0,2965.2 L533.3,2965.2 L534.6,2965.2 L535.9,2965.2 L537.2,2965.2 L538.5,2965.1 L539.8,2965.1 L541.1,2965.1 L542.4,2965.1 L543.7,2965.1 L545.0,2965.1 L546.3,2965.1 L547.6,2965.1 L548.9,2965.0 L550.2,2965.0 L551.5,2965.1 L552.8,2965.1 L554.1,2965.0 L555.4,2965.0 L556.7,2965.0 L558.0,2965.0 L559.3,2965.0 L560.6,2965.0 L561.9,2965.0 L563.2,2965.0 L564.5,2965.0 L565.8,2964.9 L567.1,2964.9 L568.4,2964.9 L569.7,2964.8 L571.0,2964.9 L572.3,2964.9 L573.6,2964.8 L574.9,2964.8 L576.2,2964.7 L577.5,2964.8 L578.8,2964.8 L580.1,2964.7 L581.4,2964.7 L582.7,2964.6 L584.0,2964.7 L585.3,2964.6 L586.6,2964.6 L587.9,2964.6 L589.2,2964.7 L590.5,2964.7 L591.8,2964.6 L593.1,2964.6 L594.4,2964.6 L595.7,2964.6 L597.0,2964.5 L598.3,2964.5 L599.6,2964.5 L600.9,2964.5 L602.2,2964.5 L603.5,2964.5 L604.8,2964.5 L606.1,2964.4 L607.4,2964.3 L608.7,2964.3 L610.0,2964.4 L611.3,2964.4 L612.6,2964.4 L613.9,2964.4 L615.2,2964.4 L616.5,2964.3 L617.8,2964.2 L619.1,2964.2 L620.4,2964.2 L621.7,2964.2 L623.0,2964.2 L624.3,2964.1 L625.6,2964.1 L626.9,2964.2 L628.2,2964.2 L629.5,2964.1 L630.8,2964.1 L632.1,2964.1 L633.4,2964.1 L634.7,2964.1 L636.0,2964.0 L637.3,2964.0 L638.6,2964.0 L639.9,2964.0 L641.2,2963.9 L642.5,2963.9 L643.8,2964.0 L645.1,2963.9 L646.4,2963.9 L647.7,2963.9 L649.0,2963.9 L650.3,2963.9 L651.6,2963.9 L652.9,2963.9 L654.2,2963.7 L655.5,2963.7 L656.8,2963.7 L658.1,2963.7 L659.4,2963.7 L660.7,2963.7 L662.0,2963.6 L663.3,2963.6 L664.6,2963.6 L665.9,2963.6 L667.2,2963.5 L668.5,2963.4 L669.8,2963.4 L671.1,2963.4 L672.4,2963.5 L673.7,2963.6 L675.0,2963.5 L676.3,2963.4 L677.6,2963.3 L678.9,2963.3 L680.2,2963.4 L681.5,2963.5 L682.8,2963.3 L684.1,2963.2 L685.4,2963.2 L686.7,2963.3 L688.0,2963.2 L689.3,2963.2 L690.6,2963.2 L691.9,2963.2 L693.2,2963.1 L694.5,2963.0 L695.8,2963.1 L697.1,2963.1 L698.4,2963.1 L699.7,2963.1 L701.0,2963.0 L702.3,2962.9 L703.6,2962.9 L704.9,2962.9 L706.2,2962.9 L707.5,2962.9 L708.8,2962.9 L710.1,2962.8 L711.4,2962.8 L712.7,2962.8 L714.0,2962.8 L715.3,2962.6 L716.6,2962.5 L717.9,2962.6 L719.2,2962.6 L720.5,2962.6 L721.8,2962.7 L723.1,2962.6 L724.4,2962.5 L725.7,2962.4 L727.0,2962.4 L728.3,2962.5 L729.6,2962.5 L730.9,2962.5 L732.2,2962.4 L733.5,2962.3 L734.8,2962.3 L736.1,2962.3 L737.4,2962.3 L738.7,2962.3 L740.0,2962.2 L741.3,2962.2 L742.6,2962.2 L743.9,2962.2 L745.2,2962.2 L746.5,2962.2 L747.8,2962.1 L749.1,2962.1 L750.4,2962.0 L751.7,2962.1 L753.0,2962.0 L754.3,2961.8 L755.6,2962.0 L756.9,2962.0 L758.2,2961.9 L759.5,2961.9 L760.8,2961.8 L762.1,2961.8 L763.4,2961.8 L764.7,2961.8 L766.0,2961.7 L767.3,2961.6 L768.6,2961.7 L769.9,2961.6 L771.2,2961.6 L772.5,2961.7 L773.8,2961.6 L775.1,2961.6 L776.4,2961.6 L777.7,2961.4 L779.0,2961.5 L780.3,2961.4 L781.6,2961.4 L782.9,2961.4 L784.2,2961.4 L785.5,2961.5 L786.8,2961.5 L788.1,2961.3 L789.4,2961.2 L790.7,2961.3 L792.0,2961.2 L793.3,2961.1 L794.6,2961.2 L795.9,2961.1 L797.2,2961.0 L798.5,2960.9 L799.8,2960.9 L801.1,2961.0 L802.4,2961.0 L803.7,2961.0 L805.0,2960.9 L806.3,2960.8 L807.6,2960.8 L808.9,2960.8 L810.2,2960.8 L811.5,2960.6 L812.8,2960.7 L814.1,2960.7 L815.4,2960.6 L816.7,2960.6 L818.0,2960.7 L819.3,2960.5 L820.6,2960.4 L821.9,2960.4 L823.2,2960.4 L824.5,2960.3 L825.8,2960.2 L827.1,2960.2 L828.4,2960.2 L829.7,2960.2 L831.0,2960.3 L832.3,2960.4 L833.6,2960.2 L834.9,2960.0 L836.2,2960.0 L837.5,2960.0 L838.8,2960.0 L840.1,2960.0 L841.4,2960.0 L842.7,2960.1 L844.0,2959.9 L845.3,2959.8 L846.6,2959.8 L847.9,2959.7 L849.2,2959.6 L850.5,2959.5 L851.8,2959.6 L853.1,2959.7 L854.4,2959.5 L855.7,2959.6 L857.0,2959.5 L858.3,2959.5 L859.6,2959.5 L860.9,2959.4 L862.2,2959.2 L863.5,2959.3 L864.8,2959.3 L866.1,2959.2 L867.4,2959.1 L868.7,2959.1 L870.0,2959.0 L871.3,2958.9 L872.6,2958.9 L873.9,2958.9 L875.2,2958.8 L876.5,2958.8 L877.8,2958.9 L879.1,2958.8 L880.4,2958.7 L881.7,2958.7 L883.0,2958.7 L884.3,2958.6 L885.6,2958.6 L886.9,2958.6 L888.2,2958.6 L889.5,2958.4 L890.8,2958.2 L892.1,2958.3 L893.4,2958.3 L894.7,2958.1 L896.0,2958.1 L897.3,2958.1 L898.6,2958.1 L899.9,2957.9 L901.2,2957.9 L902.5,2957.7 L903.8,2957.8 L905.1,2957.8 L906.4,2957.7 L907.7,2957.7 L909.0,2957.5 L910.3,2957.6 L911.6,2957.6 L912.9,2957.4 L914.2,2957.4 L915.5,2957.3 L916.8,2957.1 L918.1,2957.1 L919.4,2957.2 L920.7,2957.2 L922.0,2957.0 L923.3,2956.9 L924.6,2957.0 L925.9,2956.9 L927.2,2956.8 L928.5,2956.9 L929.8,2956.8 L931.1,2956.7 L932.4,2956.7 L933.7,2956.5 L935.0,2956.4 L936.3,2956.4 L937.6,2956.4 L938.9,2956.2 L940.2,2956.1 L941.5,2956.1 L942.8,2956.0 L944.1,2956.0 L945.4,2956.0 L946.7,2956.0 L948.0,2955.7 L949.3,2955.5 L950.6,2955.4 L951.9,2955.4 L953.2,2955.4 L954.5,2955.3 L955.8,2955.2 L957.1,2955.0 L958.4,2954.9 L959.7,2954.8 L961.0,2954.8 L962.3,2954.7 L963.6,2954.5 L964.9,2954.5 L966.2,2954.4 L967.5,2954.2 L968.8,2954.2 L970.1,2954.0 L971.4,2953.7 L972.7,2953.5 L974.0,2953.5 L975.3,2953.4 L976.6,2953.5 L977.9,2953.1 L979.2,2952.7 L980.5,2952.4 L981.8,2952.3 L983.1,2952.1 L984.4,2951.9 L985.7,2951.8 L987.0,2951.7 L988.3,2951.5 L989.6,2951.2 L990.9,2951.1 L992.2,2951.0 L993.5,2950.7 L994.8,2950.4 L996.1,2950.1 L997.4,2949.9 L998.7,2950.1 L1000.0,2949.7 L1001.3,2949.4 L1002.6,2949.4 L1003.9,2949.2 L1005.2,2949.2 L1006.5,2948.7 L1007.8,2948.3 L1009.1,2948.2 L1010.4,2948.0 L1011.7,2947.8 L1013.0,2947.8 L1014.3,2947.5 L1015.6,2947.2 L1016.9,2946.9 L1018.2,2946.6 L1019.5,2946.7 L1020.8,2946.9 L1022.1,2946.5 L1023.4,2946.1 L1024.7,2945.9 L1026.0,2945.6 L1027.3,2945.3 L1028.6,2945.1 L1029.9,2945.1 L1031.2,2945.0 L1032.5,2944.9 L1033.8,2944.7 L1035.1,2944.5 L1036.4,2944.0 L1037.7,2943.9 L1039.0,2943.6 L1040.3,2943.3 L1041.6,2943.2 L1042.9,2943.0 L1044.2,2942.7 L1045.5,2942.4 L1046.8,2942.1 L1048.1,2942.0 L1049.4,2941.7 L1050.7,2941.7 L1052.0,2941.4 L1053.3,2940.8 L1054.6,2940.6 L1055.9,2940.4 L1057.2,2940.4 L1058.5,2939.9 L1059.8,2939.4 L1061.1,2939.1 L1062.4,2939.0 L1063.7,2938.5 L1065.0,2938.0 L1066.3,2937.4 L1067.6,2937.3 L1068.9,2936.8 L1070.2,2936.6 L1071.5,2937.0 L1072.8,2936.9 L1074.1,2935.9 L1075.4,2935.4 L1076.7,2935.0 L1078.0,2934.5 L1079.3,2934.3 L1080.6,2933.9 L1081.9,2933.4 L1083.2,2933.0 L1084.5,2932.9 L1085.8,2932.2 L1087.1,2931.8 L1088.4,2931.6 L1089.7,2930.9 L1091.0,2930.4 L1092.3,2930.0 L1093.6,2929.8 L1094.9,2929.2 L1096.2,2928.2 L1097.5,2928.0 L1098.8,2927.9 L1100.1,2927.5 L1101.4,2927.0 L1102.7,2926.4 L1104.0,2925.7 L1105.3,2925.0 L1106.6,2924.1 L1107.9,2923.5 L1109.2,2922.8 L1110.5,2922.5 L1111.8,2921.7 L1113.1,2920.8 L1114.4,2920.2 L1115.7,2919.6 L1117.0,2918.8 L1118.3,2917.5 L1119.6,2916.4 L1120.9,2916.0 L1122.2,2915.1 L1123.5,2914.0 L1124.8,2912.8 L1126.1,2912.7 L1127.4,2912.8 L1128.7,2911.1 L1130.0,2909.8 L1131.3,2908.8 L1132.6,2908.0 L1133.9,2906.6 L1135.2,2905.3 L1136.5,2904.6 L1137.8,2903.4 L1139.1,2902.6 L1140.4,2901.8 L1141.7,2901.1 L1143.0,2900.0 L1144.3,2898.7 L1145.6,2896.8 L1146.9,2895.6 L1148.2,2894.8 L1149.5,2893.2 L1150.8,2892.0 L1152.1,2890.9 L1153.4,2889.2 L1154.7,2888.4 L1156.0,2886.7 L1157.3,2884.8 L1158.6,2884.0 L1159.9,2881.9 L1161.2,2880.3 L1162.5,2878.8 L1163.8,2876.7 L1165.1,2875.4 L1166.4,2873.8 L1167.7,2870.9 L1169.0,2869.4 L1170.3,2868.2 L1171.6,2866.6 L1172.9,2864.4 L1174.2,2861.6 L1175.5,2859.2 L1176.8,2857.5 L1178.1,2855.7 L1179.4,2854.7 L1180.7,2852.7 L1182.0,2849.3 L1183.3,2847.5 L1184.6,2845.2 L1185.9,2841.9 L1187.2,2839.6 L1188.5,2837.5 L1189.8,2833.1 L1191.1,2830.7 L1192.4,2828.3 L1193.7,2824.8 L1195.0,2820.9 L1196.3,2818.1 L1197.6,2816.3 L1198.9,2814.0 L1200.2,2810.2 L1201.5,2806.1 L1202.8,2802.7 L1204.1,2799.8 L1205.4,2798.0 L1206.7,2793.9 L1208.0,2792.6 L1209.3,2790.1 L1210.6,2787.3 L1211.9,2783.4 L1213.2,2781.1 L1214.5,2777.1 L1215.8,2771.8 L1217.1,2769.2 L1218.4,2766.5 L1219.7,2764.7 L1221.0,2760.9 L1222.3,2756.1 L1223.6,2752.2 L1224.9,2747.3 L1226.2,2747.3 L1227.5,2745.0 L1228.8,2740.1 L1230.1,2736.6 L1231.4,2732.9 L1232.7,2730.3 L1234.0,2725.5 L1235.3,2721.2 L1236.6,2717.6 L1237.9,2712.8 L1239.2,2708.8 L1240.5,2705.9 L1241.8,2701.5 L1243.1,2699.3 L1244.4,2695.5 L1245.7,2692.6 L1247.0,2688.0 L1248.3,2681.1 L1249.6,2673.7 L1250.9,2671.2 L1252.2,2667.2 L1253.5,2660.6 L1254.8,2657.5 L1256.1,2652.2 L1257.4,2648.3 L1258.7,2643.8 L1260.0,2636.8 L1261.3,2630.6 L1262.6,2628.8 L1263.9,2625.5 L1265.2,2622.9 L1266.5,2617.3 L1267.8,2612.4 L1269.1,2608.4 L1270.4,2606.3 L1271.7,2603.2 L1273.0,2597.6 L1274.3,2594.9 L1275.6,2593.6 L1276.9,2589.7 L1278.2,2584.5 L1279.5,2579.0 L1280.8,2575.1 L1282.1,2571.9 L1283.4,2568.8 L1284.7,2563.3 L1286.0,2559.5 L1287.3,2556.7 L1288.6,2551.3 L1289.9,2543.9 L1291.2,2538.6 L1292.5,2537.4 L1293.8,2533.4 L1295.1,2528.4 L1296.4,2524.4 L1297.7,2518.3 L1299.0,2512.3 L1300.3,2510.7 L1301.6,2509.3 L1302.9,2505.3 L1304.2,2500.4 L1305.5,2490.7 L1306.8,2487.0 L1308.1,2489.0 L1309.4,2485.5 L1310.7,2479.4 L1312.0,2473.3 L1313.3,2469.9 L1314.6,2466.1 L1315.9,2462.0 L1317.2,2456.2 L1318.5,2449.1 L1319.8,2438.4 L1321.1,2436.6 L1322.4,2433.4 L1323.7,2431.1 L1325.0,2427.4 L1326.3,2422.9 L1327.6,2415.7 L1328.9,2414.0 L1330.2,2408.7 L1331.5,2403.4 L1332.8,2401.8 L1334.1,2399.7 L1335.4,2397.8 L1336.7,2390.5 L1338.0,2379.3 L1339.3,2366.4 L1340.6,2367.3 L1341.9,2374.5 L1343.2,2367.6 L1344.5,2358.3 L1345.8,2350.7 L1347.1,2350.8 L1348.4,2341.3 L1349.7,2361.1 L1351.0,2371.4 L1352.3,2363.0 L1353.6,2347.9 L1354.9,2335.4 L1356.2,2329.1 L1357.5,2327.0 L1358.8,2318.1 L1360.1,2322.4 L1361.4,2323.4 L1362.7,2316.3 L1364.0,2309.4 L1365.3,2304.4 L1366.6,2301.1 L1367.9,2296.6 L1369.2,2293.0 L1370.5,2289.7 L1371.8,2285.3 L1373.1,2273.4 L1374.4,2267.0 L1375.7,2264.8 L1377.0,2260.5 L1378.3,2260.0 L1379.6,2259.7 L1380.9,2255.2 L1382.2,2248.2 L1383.5,2245.3 L1384.8,2241.2 L1386.1,2238.9 L1387.4,2240.0 L1388.7,2232.9 L1390.0,2229.3 L1391.3,2226.9 L1392.6,2225.9 L1393.9,2225.1 L1395.2,2219.0 L1396.5,2214.4 L1397.8,2214.4 L1399.1,2213.5 L1400.4,2210.6 L1401.7,2206.0 L1403.0,2201.0 L1404.3,2200.5 L1405.6,2203.7 L1406.9,2203.1 L1408.2,2195.9 L1409.5,2186.8 L1410.8,2181.2 L1412.1,2176.1 L1413.4,2171.7 L1414.7,2167.6 L1416.0,2165.3 L1417.3,2163.3 L1418.6,2161.4 L1419.9,2153.8 L1421.2,2148.5 L1422.5,2150.7 L1423.8,2145.8 L1425.1,2134.6 L1426.4,2127.8 L1427.7,2132.3 L1429.0,2135.3 L1430.3,2128.5 L1431.6,2118.2 L1432.9,2116.2 L1434.2,2113.9 L1435.5,2110.7 L1436.8,2106.3 L1438.1,2103.9 L1439.4,2099.8 L1440.7,2099.2 L1442.0,2100.7 L1443.3,2096.3 L1444.6,2094.0 L1445.9,2091.7 L1447.2,2091.9 L1448.5,2090.2 L1449.8,2080.3 L1451.1,2076.2 L1452.4,2076.6 L1453.7,2068.3 L1455.0,2064.4 L1456.3,2060.8 L1457.6,2061.8 L1458.9,2060.2 L1460.2,2058.1 L1461.5,2054.6 L1462.8,2053.4 L1464.1,2046.1 L1465.4,2045.0 L1466.7,2043.4 L1468.0,2041.1 L1469.3,2036.1 L1470.6,2036.0 L1471.9,2032.6 L1473.2,2029.2 L1474.5,2029.0 L1475.8,2021.4 L1477.1,2020.9 L1478.4,2021.4 L1479.7,2019.2 L1481.0,2012.3 L1482.3,2006.6 L1483.6,2008.0 L1484.9,2003.5 L1486.2,2001.2 L1487.5,2001.6 L1488.8,1997.7 L1490.1,2001.5 L1491.4,1994.2 L1492.7,1988.2 L1494.0,1991.7 L1495.3,1987.9 L1496.6,1980.4 L1497.9,1979.2 L1499.2,1979.1 L1500.5,1970.2 L1501.8,1963.5 L1503.1,1970.8 L1504.4,1966.8 L1505.7,1963.1 L1507.0,1970.2 L1508.3,1970.1 L1509.6,1962.1 L1510.9,1955.5 L1512.2,1963.1 L1513.5,1963.6 L1514.8,1957.7 L1516.1,1958.1 L1517.4,1958.1 L1518.7,1960.7 L1520.0,1952.5 L1521.3,1947.6 L1522.6,1947.7 L1523.9,1939.8 L1525.2,1931.9 L1526.5,1933.8 L1527.8,1930.1 L1529.1,1918.2 L1530.4,1915.7 L1531.7,1915.6 L1533.0,1919.4 L1534.3,1910.4 L1535.6,1908.6 L1536.9,1908.8 L1538.2,1912.3 L1539.5,1913.5 L1540.8,1905.3 L1542.1,1899.7 L1543.4,1902.9 L1544.7,1900.4 L1546.0,1899.8 L1547.3,1900.2 L1548.6,1905.5 L1549.9,1902.6 L1551.2,1893.9 L1552.5,1893.7 L1553.8,1900.0 L1555.1,1898.1 L1556.4,1885.2 L1557.7,1878.8 L1559.0,1872.1 L1560.3,1875.0 L1561.6,1879.9 L1562.9,1882.6 L1564.2,1877.4 L1565.5,1868.1 L1566.8,1864.0 L1568.1,1860.3 L1569.4,1859.5 L1570.7,1864.5 L1572.0,1860.6 L1573.3,1859.0 L1574.6,1854.4 L1575.9,1856.8 L1577.2,1854.5 L1578.5,1843.3 L1579.8,1839.3 L1581.1,1836.4 L1582.4,1841.0 L1583.7,1840.9 L1585.0,1829.7 L1586.3,1832.9 L1587.6,1829.7 L1588.9,1821.9 L1590.2,1822.0 L1591.5,1829.3 L1592.8,1829.8 L1594.1,1827.9 L1595.4,1825.7 L1596.7,1823.6 L1598.0,1823.5 L1599.3,1825.2 L1600.6,1822.8 L1601.9,1826.5 L1603.2,1833.1 L1604.5,1825.7 L1605.8,1817.4 L1607.1,1810.8 L1608.4,1810.7 L1609.7,1807.8 L1611.0,1798.6 L1612.3,1802.5 L1613.6,1808.6 L1614.9,1809.9 L1616.2,1795.3 L1617.5,1788.3 L1618.8,1786.3 L1620.1,1789.9 L1621.4,1793.4 L1622.7,1790.6 L1624.0,1787.0 L1625.3,1785.0 L1626.6,1787.7 L1627.9,1780.7 L1629.2,1774.4 L1630.5,1775.4 L1631.8,1778.0 L1633.1,1765.9 L1634.4,1760.1 L1635.7,1760.8 L1637.0,1760.9 L1638.3,1755.2 L1639.6,1757.8 L1640.9,1754.1 L1642.2,1747.8 L1643.5,1745.6 L1644.8,1752.1 L1646.1,1750.0 L1647.4,1748.0 L1648.7,1746.2 L1650.0,1742.9 L1651.3,1742.1 L1652.6,1734.7 L1653.9,1727.6 L1655.2,1725.2 L1656.5,1722.2 L1657.8,1720.5 L1659.1,1720.7 L1660.4,1724.4 L1661.7,1715.1 L1663.0,1715.9 L1664.3,1716.5 L1665.6,1719.0 L1666.9,1713.4 L1668.2,1709.6 L1669.5,1708.8 L1670.8,1713.3 L1672.1,1714.0 L1673.4,1711.1 L1674.7,1705.8 L1676.0,1698.5 L1677.3,1698.3 L1678.6,1694.7 L1679.9,1685.9 L1681.2,1683.4 L1682.5,1677.6 L1683.8,1672.0 L1685.1,1671.3 L1686.4,1670.8 L1687.7,1661.6 L1689.0,1658.5 L1690.3,1667.9 L1691.6,1668.5 L1692.9,1664.2 L1694.2,1655.1 L1695.5,1654.1 L1696.8,1657.7 L1698.1,1649.6 L1699.4,1646.6 L1700.7,1650.6 L1702.0,1651.7 L1703.3,1651.7 L1703.5,1651.0" fill="none" stroke="#1a6fdf" stroke-width="7.4" stroke-linejoin="round" stroke-linecap="butt"/>
<path d="M334.5,2968.0 L335.8,2968.0 L337.1,2968.0 L338.4,2968.0 L339.7,2968.0 L341.0,2968.0 L342.3,2968.0 L343.6,2968.0 L344.9,2968.0 L346.2,2967.9 L347.5,2967.9 L348.8,2968.0 L350.1,2968.0 L351.4,2968.0 L352.7,2968.1 L354.0,2968.0 L355.3,2968.1 L356.6,2968.0 L357.9,2968.0 L359.2,2968.0 L360.5,2968.1 L361.8,2968.0 L363.1,2968.0 L364.4,2968.0 L365.7,2968.0 L367.0,2968.0 L368.3,2968.0 L369.6,2968.0 L370.9,2968.0 L372.2,2968.0 L373.5,2968.0 L374.8,2968.0 L376.1,2968.0 L377.4,2968.0 L378.7,2968.0 L380.0,2968.0 L381.3,2968.0 L382.6,2968.0 L383.9,2968.0 L385.2,2968.0 L386.5,2968.0 L387.8,2967.9 L389.1,2968.0 L390.4,2968.0 L391.7,2968.0 L393.0,2968.0 L394.3,2967.9 L395.6,2967.9 L396.9,2968.0 L398.2,2968.0 L399.5,2968.0 L400.8,2968.0 L402.1,2968.0 L403.4,2968.0 L404.7,2968.0 L406.0,2968.0 L407.3,2968.0 L408.6,2968.0 L409.9,2968.0 L411.2,2968.0 L412.5,2968.0 L413.8,2968.0 L415.1,2968.1 L416.4,2968.1 L417.7,2968.0 L419.0,2968.0 L420.3,2968.0 L421.6,2968.0 L422.9,2968.1 L424.2,2968.1 L425.5,2968.0 L426.8,2967.9 L428.1,2967.9 L429.4,2968.0 L430.7,2968.1 L432.0,2968.0 L433.3,2968.0 L434.6,2968.0 L435.9,2968.0 L437.2,2968.0 L438.5,2968.0 L439.8,2968.0 L441.1,2968.1 L442.4,2968.0 L443.7,2968.0 L445.0,2968.0 L446.3,2968.0 L447.6,2968.0 L448.9,2968.0 L450.2,2968.0 L451.5,2968.0 L452.8,2968.0 L454.1,2968.0 L455.4,2968.0 L456.7,2968.0 L458.0,2968.0 L459.3,2968.0 L460.6,2968.0 L461.9,2968.0 L463.2,2968.0 L464.5,2967.9 L465.8,2967.9 L467.1,2968.0 L468.4,2968.0 L469.7,2968.0 L471.0,2967.9 L472.3,2968.0 L473.6,2968.0 L474.9,2968.0 L476.2,2968.0 L477.5,2968.0 L478.8,2968.0 L480.1,2968.0 L481.4,2968.0 L482.7,2968.0 L484.0,2968.0 L485.3,2968.0 L486.6,2968.0 L487.9,2968.0 L489.2,2968.1 L490.5,2968.1 L491.8,2968.0 L493.1,2968.0 L494.4,2968.0 L495.7,2968.1 L497.0,2968.0 L498.3,2968.0 L499.6,2968.0 L500.9,2968.0 L502.2,2968.0 L503.5,2968.0 L504.8,2968.0 L506.1,2968.0 L507.4,2968.0 L508.7,2968.0 L510.0,2968.0 L511.3,2968.0 L512.6,2968.0 L513.9,2968.0 L515.2,2968.0 L516.5,2968.0 L517.8,2968.0 L519.1,2968.0 L520.4,2968.0 L521.7,2968.0 L523.0,2967.9 L524.3,2968.0 L525.6,2968.0 L526.9,2968.0 L528.2,2967.9 L529.5,2968.0 L530.8,2968.0 L532.1,2968.0 L533.4,2968.0 L534.7,2967.9 L536.0,2967.9 L537.3,2968.0 L538.6,2967.9 L539.9,2967.9 L541.2,2967.9 L542.5,2967.9 L543.8,2967.9 L545.1,2967.9 L546.4,2967.9 L547.7,2967.9 L549.0,2967.9 L550.3,2967.9 L551.6,2967.9 L552.9,2967.9 L554.2,2967.9 L555.5,2967.9 L556.8,2967.9 L558.1,2967.8 L559.4,2967.8 L560.7,2967.8 L562.0,2967.8 L563.3,2967.8 L564.6,2967.8 L565.9,2967.8 L567.2,2967.8 L568.5,2967.8 L569.8,2967.8 L571.1,2967.9 L572.4,2967.9 L573.7,2967.8 L575.0,2967.8 L576.3,2967.8 L577.6,2967.8 L578.9,2967.8 L580.2,2967.7 L581.5,2967.7 L582.8,2967.7 L584.1,2967.7 L585.4,2967.7 L586.7,2967.7 L588.0,2967.7 L589.3,2967.7 L590.6,2967.7 L591.9,2967.7 L593.2,2967.7 L594.5,2967.6 L595.8,2967.7 L597.1,2967.7 L598.4,2967.6 L599.7,2967.6 L601.0,2967.6 L602.3,2967.6 L603.6,2967.6 L604.9,2967.6 L606.2,2967.6 L607.5,2967.6 L608.8,2967.6 L610.1,2967.6 L611.4,2967.6 L612.7,2967.6 L614.0,2967.6 L615.3,2967.6 L616.6,2967.6 L617.9,2967.5 L619.2,2967.4 L620.5,2967.5 L621.8,2967.5 L623.1,2967.5 L624.4,2967.5 L625.7,2967.5 L627.0,2967.5 L628.3,2967.4 L629.6,2967.4 L630.9,2967.4 L632.2,2967.3 L633.5,2967.4 L634.8,2967.4 L636.1,2967.4 L637.4,2967.4 L638.7,2967.4 L640.0,2967.4 L641.3,2967.4 L642.6,2967.4 L643.9,2967.3 L645.2,2967.4 L646.5,2967.4 L647.8,2967.4 L649.1,2967.3 L650.4,2967.3 L651.7,2967.3 L653.0,2967.4 L654.3,2967.4 L655.6,2967.3 L656.9,2967.3 L658.2,2967.3 L659.5,2967.3 L660.8,2967.2 L662.1,2967.2 L663.4,2967.2 L664.7,2967.3 L666.0,2967.2 L667.3,2967.2 L668.6,2967.2 L669.9,2967.2 L671.2,2967.2 L672.5,2967.2 L673.8,2967.1 L675.1,2967.2 L676.4,2967.2 L677.7,2967.1 L679.0,2967.1 L680.3,2967.2 L681.6,2967.2 L682.9,2967.1 L684.2,2967.1 L685.5,2967.1 L686.8,2967.1 L688.1,2967.1 L689.4,2967.1 L690.7,2967.1 L692.0,2967.0 L693.3,2967.1 L694.6,2967.1 L695.9,2967.0 L697.2,2967.0 L698.5,2967.0 L699.8,2967.0 L701.1,2967.0 L702.4,2967.0 L703.7,2967.0 L705.0,2967.0 L706.3,2967.0 L707.6,2967.0 L708.9,2966.9 L710.2,2966.9 L711.5,2966.9 L712.8,2966.9 L714.1,2966.9 L715.4,2966.9 L716.7,2966.9 L718.0,2966.9 L719.3,2966.9 L720.6,2966.9 L721.9,2966.9 L723.2,2966.9 L724.5,2966.9 L725.8,2966.9 L727.1,2966.9 L728.4,2966.9 L729.7,2966.8 L731.0,2966.8 L732.3,2966.8 L733.6,2966.9 L734.9,2966.8 L736.2,2966.8 L737.5,2966.8 L738.8,2966.8 L740.1,2966.8 L741.4,2966.8 L742.7,2966.7 L744.0,2966.7 L745.3,2966.7 L746.6,2966.7 L747.9,2966.8 L749.2,2966.7 L750.5,2966.7 L751.8,2966.7 L753.1,2966.6 L754.4,2966.6 L755.7,2966.7 L757.0,2966.7 L758.3,2966.7 L759.6,2966.7 L760.9,2966.7 L762.2,2966.6 L763.5,2966.6 L764.8,2966.6 L766.1,2966.7 L767.4,2966.7 L768.7,2966.7 L770.0,2966.6 L771.3,2966.6 L772.6,2966.7 L773.9,2966.6 L775.2,2966.6 L776.5,2966.6 L777.8,2966.5 L779.1,2966.5 L780.4,2966.5 L781.7,2966.5 L783.0,2966.5 L784.3,2966.6 L785.6,2966.6 L786.9,2966.5 L788.2,2966.5 L789.5,2966.5 L790.8,2966.5 L792.1,2966.5 L793.4,2966.5 L794.7,2966.5 L796.0,2966.5 L797.3,2966.5 L798.6,2966.5 L799.9,2966.5 L801.2,2966.5 L802.5,2966.5 L803.8,2966.5 L805.1,2966.5 L806.4,2966.4 L807.7,2966.3 L809.0,2966.4 L810.3,2966.4 L811.6,2966.4 L812.9,2966.4 L814.2,2966.4 L815.5,2966.4 L816.8,2966.4 L818.1,2966.3 L819.4,2966.3 L820.7,2966.3 L822.0,2966.3 L823.3,2966.3 L824.6,2966.3 L825.9,2966.3 L827.2,2966.2 L828.5,2966.2 L829.8,2966.2 L831.1,2966.2 L832.4,2966.2 L833.7,2966.2 L835.0,2966.1 L836.3,2966.2 L837.6,2966.2 L838.9,2966.2 L840.2,2966.2 L841.5,2966.1 L842.8,2966.1 L844.1,2966.1 L845.4,2966.1 L846.7,2966.1 L848.0,2966.1 L849.3,2966.1 L850.6,2966.1 L851.9,2966.1 L853.2,2966.1 L854.5,2966.1 L855.8,2966.0 L857.1,2966.0 L858.4,2966.0 L859.7,2966.0 L861.0,2966.0 L862.3,2965.9 L863.6,2965.9 L864.9,2966.0 L866.2,2965.9 L867.5,2966.0 L868.8,2965.9 L870.1,2965.9 L871.4,2965.9 L872.7,2965.9 L874.0,2965.9 L875.3,2965.8 L876.6,2965.8 L877.9,2965.8 L879.2,2965.8 L880.5,2965.7 L881.8,2965.7 L883.1,2965.8 L884.4,2965.7 L885.7,2965.7 L887.0,2965.6 L888.3,2965.7 L889.6,2965.7 L890.9,2965.7 L892.2,2965.7 L893.5,2965.6 L894.8,2965.5 L896.1,2965.6 L897.4,2965.6 L898.7,2965.6 L900.0,2965.5 L901.3,2965.5 L902.6,2965.5 L903.9,2965.5 L905.2,2965.4 L906.5,2965.4 L907.8,2965.3 L909.1,2965.3 L910.4,2965.3 L911.7,2965.2 L913.0,2965.1 L914.3,2965.1 L915.6,2965.1 L916.9,2965.1 L918.2,2965.0 L919.5,2964.9 L920.8,2964.8 L922.1,2964.7 L923.4,2964.7 L924.7,2964.7 L926.0,2964.7 L927.3,2964.6 L928.6,2964.5 L929.9,2964.5 L931.2,2964.4 L932.5,2964.4 L933.8,2964.3 L935.1,2964.2 L936.4,2964.2 L937.7,2964.1 L939.0,2963.9 L940.3,2963.9 L941.6,2963.9 L942.9,2963.8 L944.2,2963.8 L945.5,2963.7 L946.8,2963.7 L948.1,2963.6 L949.4,2963.4 L950.7,2963.3 L952.0,2963.4 L953.3,2963.4 L954.6,2963.2 L955.9,2963.2 L957.2,2963.2 L958.5,2963.1 L959.8,2963.0 L961.1,2963.1 L962.4,2963.0 L963.7,2963.0 L965.0,2962.9 L966.3,2963.0 L967.6,2963.0 L968.9,2962.9 L970.2,2962.9 L971.5,2962.8 L972.8,2962.8 L974.1,2962.8 L975.4,2962.8 L976.7,2962.7 L978.0,2962.5 L979.3,2962.6 L980.6,2962.7 L981.9,2962.5 L983.2,2962.5 L984.5,2962.5 L985.8,2962.5 L987.1,2962.4 L988.4,2962.4 L989.7,2962.3 L991.0,2962.2 L992.3,2962.3 L993.6,2962.3 L994.9,2962.3 L996.2,2962.3 L997.5,2962.2 L998.8,2962.2 L1000.1,2962.2 L1001.4,2962.1 L1002.7,2962.0 L1004.0,2962.0 L1005.3,2961.9 L1006.6,2962.1 L1007.9,2962.0 L1009.2,2961.9 L1010.5,2961.7 L1011.8,2961.7 L1013.1,2961.8 L1014.4,2961.8 L1015.7,2961.7 L1017.0,2961.6 L1018.3,2961.6 L1019.6,2961.6 L1020.9,2961.4 L1022.2,2961.3 L1023.5,2961.3 L1024.8,2961.3 L1026.1,2961.2 L1027.4,2961.1 L1028.7,2961.0 L1030.0,2961.0 L1031.3,2960.9 L1032.6,2960.9 L1033.9,2960.8 L1035.2,2960.7 L1036.5,2960.6 L1037.8,2960.6 L1039.1,2960.5 L1040.4,2960.4 L1041.7,2960.3 L1043.0,2960.2 L1044.3,2960.3 L1045.6,2960.2 L1046.9,2960.1 L1048.2,2959.9 L1049.5,2959.8 L1050.8,2959.8 L1052.1,2959.7 L1053.4,2959.5 L1054.7,2959.5 L1056.0,2959.5 L1057.3,2959.3 L1058.6,2959.3 L1059.9,2959.2 L1061.2,2959.0 L1062.5,2958.8 L1063.8,2958.7 L1065.1,2958.5 L1066.4,2958.5 L1067.7,2958.4 L1069.0,2958.2 L1070.3,2958.1 L1071.6,2958.0 L1072.9,2957.7 L1074.2,2957.5 L1075.5,2957.4 L1076.8,2957.3 L1078.1,2957.1 L1079.4,2956.9 L1080.7,2956.8 L1082.0,2956.6 L1083.3,2956.5 L1084.6,2956.2 L1085.9,2955.8 L1087.2,2955.8 L1088.5,2955.8 L1089.8,2955.5 L1091.1,2955.2 L1092.4,2955.0 L1093.7,2954.8 L1095.0,2954.6 L1096.3,2954.4 L1097.6,2954.2 L1098.9,2954.1 L1100.2,2953.8 L1101.5,2953.4 L1102.8,2953.0 L1104.1,2952.9 L1105.4,2953.0 L1106.7,2952.6 L1108.0,2952.3 L1109.3,2952.1 L1110.6,2951.8 L1111.9,2951.6 L1113.2,2951.3 L1114.5,2951.0 L1115.8,2950.7 L1117.1,2950.3 L1118.4,2950.1 L1119.7,2949.7 L1121.0,2949.3 L1122.3,2949.1 L1123.6,2948.7 L1124.9,2948.5 L1126.2,2948.0 L1127.5,2947.7 L1128.8,2947.3 L1130.1,2946.9 L1131.4,2946.6 L1132.7,2946.1 L1134.0,2945.8 L1135.3,2945.3 L1136.6,2944.8 L1137.9,2944.4 L1139.2,2944.0 L1140.5,2943.7 L1141.8,2943.0 L1143.1,2942.5 L1144.4,2942.1 L1145.7,2941.7 L1147.0,2941.2 L1148.3,2940.7 L1149.6,2940.1 L1150.9,2939.5 L1152.2,2938.8 L1153.5,2938.3 L1154.8,2937.8 L1156.1,2937.0 L1157.4,2936.7 L1158.7,2936.1 L1160.0,2935.2 L1161.3,2934.9 L1162.6,2934.2 L1163.9,2933.6 L1165.2,2932.9 L1166.5,2932.2 L1167.8,2931.5 L1169.1,2930.8 L1170.4,2929.9 L1171.7,2929.2 L1173.0,2928.7 L1174.3,2928.4 L1175.6,2928.0 L1176.9,2927.4 L1178.2,2926.5 L1179.5,2926.2 L1180.8,2925.8 L1182.1,2925.1 L1183.4,2924.4 L1184.7,2923.7 L1186.0,2923.2 L1187.3,2922.7 L1188.6,2922.3 L1189.9,2921.6 L1191.2,2920.7 L1192.5,2920.1 L1193.8,2919.8 L1195.1,2919.4 L1196.4,2918.6 L1197.7,2917.9 L1199.0,2917.3 L1200.3,2916.8 L1201.6,2916.5 L1202.9,2915.5 L1204.2,2914.0 L1205.5,2912.8 L1206.8,2911.9 L1208.1,2911.0 L1209.4,2910.4 L1210.7,2909.7 L1212.0,2908.8 L1213.3,2907.4 L1214.6,2906.5 L1215.9,2905.4 L1217.2,2904.2 L1218.5,2902.7 L1219.8,2901.7 L1221.1,2900.6 L1222.4,2899.3 L1223.7,2897.8 L1225.0,2896.5 L1226.3,2895.3 L1227.6,2894.1 L1228.9,2892.4 L1230.2,2891.4 L1231.5,2890.2 L1232.8,2888.7 L1234.1,2886.4 L1235.4,2885.4 L1236.7,2884.2 L1238.0,2882.3 L1239.3,2880.7 L1240.6,2879.5 L1241.9,2877.9 L1243.2,2875.8 L1244.5,2873.9 L1245.8,2872.5 L1247.1,2871.0 L1248.4,2869.1 L1249.7,2867.6 L1251.0,2866.4 L1252.3,2864.4 L1253.6,2862.4 L1254.9,2861.0 L1256.2,2859.0 L1257.5,2857.2 L1258.8,2855.4 L1260.1,2853.6 L1261.4,2851.6 L1262.7,2850.0 L1264.0,2848.1 L1265.3,2845.6 L1266.6,2844.3 L1267.9,2843.3 L1269.2,2841.4 L1270.5,2839.0 L1271.8,2837.0 L1273.1,2834.4 L1274.4,2832.7 L1275.7,2830.4 L1277.0,2828.7 L1278.3,2826.7 L1279.6,2825.3 L1280.9,2823.3 L1282.2,2820.6 L1283.5,2818.4 L1284.8,2816.2 L1286.1,2814.1 L1287.4,2811.6 L1288.7,2808.1 L1290.0,2805.8 L1291.3,2803.5 L1292.6,2802.4 L1293.9,2801.0 L1295.2,2798.0 L1296.5,2795.1 L1297.8,2792.5 L1299.1,2790.5 L1300.4,2788.6 L1301.7,2786.0 L1303.0,2784.8 L1304.3,2784.1 L1305.6,2782.3 L1306.9,2780.7 L1308.2,2778.3 L1309.5,2776.3 L1310.8,2773.2 L1312.1,2772.3 L1313.4,2771.1 L1314.7,2769.5 L1316.0,2767.0 L1317.3,2765.6 L1318.6,2764.4 L1319.9,2763.0 L1321.2,2761.4 L1322.5,2758.9 L1323.8,2757.0 L1325.1,2754.0 L1326.4,2751.2 L1327.7,2749.0 L1329.0,2745.5 L1330.3,2741.8 L1331.6,2739.4 L1332.9,2738.0 L1334.2,2736.2 L1335.5,2734.7 L1336.8,2733.3 L1338.1,2731.2 L1339.4,2728.1 L1340.7,2723.4 L1342.0,2719.8 L1343.3,2721.4 L1344.6,2721.5 L1345.9,2719.5 L1347.2,2719.6 L1348.5,2713.5 L1349.8,2709.8 L1351.1,2705.2 L1352.4,2705.4 L1353.7,2705.3 L1355.0,2708.8 L1356.3,2707.2 L1357.6,2703.5 L1358.9,2702.6 L1360.2,2697.0 L1361.5,2694.7 L1362.8,2692.1 L1364.1,2689.0 L1365.4,2687.4 L1366.7,2685.0 L1368.0,2682.8 L1369.3,2680.7 L1370.6,2679.5 L1371.9,2677.4 L1373.2,2675.2 L1374.5,2671.6 L1375.8,2669.3 L1377.1,2667.4 L1378.4,2664.9 L1379.7,2663.4 L1381.0,2660.5 L1382.3,2659.0 L1383.6,2656.4 L1384.9,2655.2 L1386.2,2654.8 L1387.5,2651.4 L1388.8,2646.2 L1390.1,2645.7 L1391.4,2643.4 L1392.7,2638.7 L1394.0,2635.5 L1395.3,2634.8 L1396.6,2631.9 L1397.9,2630.5 L1399.2,2627.3 L1400.5,2623.8 L1401.8,2622.5 L1403.1,2622.8 L1404.4,2620.6 L1405.7,2614.5 L1407.0,2613.3 L1408.3,2611.6 L1409.6,2604.8 L1410.9,2602.8 L1412.2,2602.3 L1413.5,2599.1 L1414.8,2595.0 L1416.1,2592.3 L1417.4,2591.8 L1418.7,2588.7 L1420.0,2586.5 L1421.3,2583.5 L1422.6,2581.0 L1423.9,2580.4 L1425.2,2577.0 L1426.5,2574.0 L1427.8,2572.1 L1429.1,2571.5 L1430.4,2567.4 L1431.7,2563.4 L1433.0,2561.2 L1434.3,2559.2 L1435.6,2559.5 L1436.9,2556.3 L1438.2,2552.8 L1439.5,2549.8 L1440.8,2547.2 L1442.1,2543.4 L1443.4,2542.0 L1444.7,2538.6 L1446.0,2536.5 L1447.3,2530.2 L1448.6,2526.7 L1449.9,2525.3 L1451.2,2521.8 L1452.5,2519.3 L1453.8,2516.6 L1455.1,2514.8 L1456.4,2512.3 L1457.7,2508.9 L1459.0,2504.7 L1460.3,2503.6 L1461.6,2503.1 L1462.9,2500.1 L1464.2,2494.9 L1465.5,2493.3 L1466.8,2491.5 L1468.1,2487.3 L1469.4,2484.1 L1470.7,2483.1 L1472.0,2480.7 L1473.3,2477.5 L1474.6,2473.8 L1475.9,2470.6 L1477.2,2470.8 L1478.5,2469.7 L1479.8,2466.1 L1481.1,2462.7 L1482.4,2460.9 L1483.7,2459.7 L1485.0,2457.2 L1486.3,2454.9 L1487.6,2451.7 L1488.9,2449.9 L1490.2,2449.6 L1491.5,2448.1 L1492.8,2445.6 L1494.1,2442.3 L1495.4,2437.9 L1496.7,2433.6 L1498.0,2432.5 L1499.3,2429.3 L1500.6,2425.9 L1501.9,2422.9 L1503.2,2421.3 L1504.5,2421.0 L1505.8,2420.0 L1507.1,2416.7 L1508.4,2410.8 L1509.7,2407.9 L1511.0,2408.5 L1512.3,2406.9 L1513.6,2400.0 L1514.9,2399.1 L1516.2,2400.9 L1517.5,2399.8 L1518.8,2395.3 L1520.1,2393.0 L1521.4,2390.7 L1522.7,2387.4 L1524.0,2387.8 L1525.3,2384.5 L1526.6,2383.4 L1527.9,2384.5 L1529.2,2379.2 L1530.5,2374.0 L1531.8,2370.6 L1533.1,2370.9 L1534.4,2370.2 L1535.7,2367.9 L1537.0,2364.8 L1538.3,2362.9 L1539.6,2359.7 L1540.9,2356.9 L1542.2,2355.9 L1543.5,2356.8 L1544.8,2355.1 L1546.1,2349.9 L1547.4,2346.7 L1548.7,2342.6 L1550.0,2339.9 L1551.3,2338.6 L1552.6,2336.4 L1553.9,2334.0 L1555.2,2327.9 L1556.5,2325.6 L1557.8,2325.5 L1559.1,2322.9 L1560.4,2317.9 L1561.7,2318.4 L1563.0,2315.5 L1564.3,2312.1 L1565.6,2310.1 L1566.9,2311.2 L1568.2,2308.5 L1569.5,2305.7 L1570.8,2303.0 L1572.1,2303.2 L1573.4,2301.2 L1574.7,2295.1 L1576.0,2294.2 L1577.3,2290.6 L1578.6,2285.2 L1579.9,2285.7 L1581.2,2282.5 L1582.5,2281.1 L1583.8,2278.7 L1585.1,2276.3 L1586.4,2275.8 L1587.7,2273.4 L1589.0,2269.7 L1590.3,2269.6 L1591.6,2265.5 L1592.9,2260.2 L1594.2,2259.5 L1595.5,2260.1 L1596.8,2257.9 L1598.1,2254.2 L1599.4,2250.7 L1600.7,2248.3 L1602.0,2246.4 L1603.3,2247.2 L1604.6,2242.3 L1605.9,2240.5 L1607.2,2240.1 L1608.5,2236.7 L1609.8,2229.1 L1611.1,2230.6 L1612.4,2228.4 L1613.7,2228.0 L1615.0,2226.8 L1616.3,2223.8 L1617.6,2222.1 L1618.9,2215.9 L1620.2,2212.5 L1621.5,2211.8 L1622.8,2208.7 L1624.1,2210.3 L1625.4,2206.5 L1626.7,2207.3 L1628.0,2203.7 L1629.3,2200.5 L1630.6,2196.1 L1631.9,2193.7 L1633.2,2191.4 L1634.5,2189.6 L1635.8,2188.0 L1637.1,2187.2 L1638.4,2181.9 L1639.7,2179.6 L1641.0,2178.7 L1642.3,2179.3 L1643.6,2176.2 L1644.9,2170.7 L1646.2,2168.9 L1647.5,2169.1 L1648.8,2168.7 L1650.1,2166.3 L1651.4,2157.1 L1652.7,2152.9 L1654.0,2154.9 L1655.3,2159.7 L1656.6,2156.6 L1657.9,2146.5 L1659.2,2144.1 L1660.5,2143.6 L1661.8,2144.9 L1663.1,2142.4 L1664.4,2134.1 L1665.7,2128.5 L1667.0,2127.6 L1668.3,2124.6 L1669.6,2122.0 L1670.9,2119.8 L1672.2,2117.1 L1673.5,2115.6 L1674.8,2113.0 L1676.1,2113.0 L1677.4,2106.5 L1678.7,2106.4 L1680.0,2108.1 L1681.3,2100.3 L1682.6,2095.0 L1683.9,2095.0 L1685.2,2093.3 L1686.5,2090.8 L1687.8,2087.2 L1689.1,2083.5 L1690.4,2084.9 L1691.7,2084.7 L1693.0,2082.5 L1694.3,2079.2 L1695.6,2076.8 L1696.9,2071.7 L1698.2,2066.8 L1699.5,2062.1 L1700.8,2060.3 L1702.1,2058.3 L1703.4,2054.9 L1704.7,2051.2 L1706.0,2049.8 L1707.3,2047.5 L1708.6,2045.4 L1709.9,2042.9 L1711.2,2036.3 L1712.5,2034.6 L1713.8,2032.5 L1715.1,2032.7 L1716.4,2029.2 L1717.7,2027.2 L1719.0,2023.9 L1720.3,2018.9 L1721.6,2017.0 L1722.9,2013.3 L1724.2,2008.4 L1725.5,2010.8 L1726.8,2010.7 L1728.1,2009.8 L1729.4,2008.9 L1730.7,2005.9 L1732.0,2006.2 L1733.3,2001.4 L1734.6,1995.7 L1735.9,1992.4 L1737.2,1992.5 L1738.5,1992.7 L1739.8,1990.0 L1741.1,1987.7 L1742.4,1989.6 L1743.7,1988.9 L1745.0,1986.8 L1746.3,1976.5 L1747.6,1972.4 L1748.9,1977.9 L1750.2,1982.5 L1751.5,1980.6 L1752.8,1978.2 L1754.1,1973.4 L1755.4,1973.7 L1756.7,1973.0 L1758.0,1969.3 L1759.3,1970.7 L1760.6,1968.1 L1761.9,1963.0 L1763.2,1960.6 L1764.5,1957.6 L1765.8,1951.2 L1767.1,1954.2 L1768.4,1955.2 L1769.7,1951.9 L1771.0,1951.3 L1772.3,1949.9 L1773.6,1941.7 L1774.9,1938.2 L1776.2,1928.7 L1777.5,1921.5 L1778.8,1919.1 L1780.1,1917.6 L1781.4,1914.9 L1782.7,1912.3 L1784.0,1901.9 L1785.3,1897.8 L1786.6,1899.1 L1787.9,1898.2 L1789.2,1889.8 L1790.5,1883.7 L1791.8,1884.1 L1793.1,1890.7 L1794.4,1888.0 L1795.7,1880.7 L1797.0,1882.2 L1798.3,1880.3 L1799.6,1876.9 L1800.9,1880.2 L1802.2,1880.6 L1803.5,1882.5 L1804.8,1879.4 L1806.1,1873.2 L1807.4,1872.8 L1808.7,1873.8 L1809.1,1875.7" fill="none" stroke="#37ad6b" stroke-width="7.4" stroke-linejoin="round" stroke-linecap="butt"/>
<path d="M334.5,2968.2 L335.8,2968.2 L337.1,2968.2 L338.4,2968.2 L339.7,2968.2 L341.0,2968.2 L342.3,2968.2 L343.6,2968.2 L344.9,2968.2 L346.2,2968.2 L347.5,2968.2 L348.8,2968.2 L350.1,2968.2 L351.4,2968.2 L352.7,2968.2 L354.0,2968.2 L355.3,2968.2 L356.6,2968.1 L357.9,2968.1 L359.2,2968.2 L360.5,2968.2 L361.8,2968.2 L363.1,2968.2 L364.4,2968.2 L365.7,2968.2 L367.0,2968.3 L368.3,2968.2 L369.6,2968.2 L370.9,2968.2 L372.2,2968.2 L373.5,2968.2 L374.8,2968.1 L376.1,2968.2 L377.4,2968.2 L378.7,2968.2 L380.0,2968.2 L381.3,2968.2 L382.6,2968.2 L383.9,2968.2 L385.2,2968.2 L386.5,2968.2 L387.8,2968.2 L389.1,2968.2 L390.4,2968.2 L391.7,2968.2 L393.0,2968.2 L394.3,2968.2 L395.6,2968.2 L396.9,2968.2 L398.2,2968.2 L399.5,2968.2 L400.8,2968.2 L402.1,2968.2 L403.4,2968.2 L404.7,2968.2 L406.0,2968.2 L407.3,2968.2 L408.6,2968.2 L409.9,2968.2 L411.2,2968.2 L412.5,2968.2 L413.8,2968.2 L415.1,2968.2 L416.4,2968.2 L417.7,2968.2 L419.0,2968.2 L420.3,2968.1 L421.6,2968.2 L422.9,2968.2 L424.2,2968.2 L425.5,2968.2 L426.8,2968.2 L428.1,2968.2 L429.4,2968.2 L430.7,2968.2 L432.0,2968.2 L433.3,2968.2 L434.6,2968.2 L435.9,2968.2 L437.2,2968.2 L438.5,2968.1 L439.8,2968.1 L441.1,2968.2 L442.4,2968.2 L443.7,2968.2 L445.0,2968.2 L446.3,2968.2 L447.6,2968.2 L448.9,2968.2 L450.2,2968.2 L451.5,2968.2 L452.8,2968.2 L454.1,2968.2 L455.4,2968.3 L456.7,2968.2 L458.0,2968.2 L459.3,2968.2 L460.6,2968.2 L461.9,2968.2 L463.2,2968.2 L464.5,2968.2 L465.8,2968.2 L467.1,2968.1 L468.4,2968.2 L469.7,2968.2 L471.0,2968.1 L472.3,2968.2 L473.6,2968.2 L474.9,2968.2 L476.2,2968.2 L477.5,2968.2 L478.8,2968.2 L480.1,2968.1 L481.4,2968.2 L482.7,2968.2 L484.0,2968.2 L485.3,2968.3 L486.6,2968.2 L487.9,2968.2 L489.2,2968.2 L490.5,2968.2 L491.8,2968.2 L493.1,2968.3 L494.4,2968.3 L495.7,2968.2 L497.0,2968.2 L498.3,2968.2 L499.6,2968.2 L500.9,2968.1 L502.2,2968.1 L503.5,2968.2 L504.8,2968.2 L506.1,2968.2 L507.4,2968.2 L508.7,2968.2 L510.0,2968.2 L511.3,2968.2 L512.6,2968.2 L513.9,2968.2 L515.2,2968.2 L516.5,2968.2 L517.8,2968.2 L519.1,2968.2 L520.4,2968.2 L521.7,2968.2 L523.0,2968.2 L524.3,2968.2 L525.6,2968.2 L526.9,2968.2 L528.2,2968.2 L529.5,2968.2 L530.8,2968.2 L532.1,2968.2 L533.4,2968.2 L534.7,2968.3 L536.0,2968.2 L537.3,2968.2 L538.6,2968.2 L539.9,2968.2 L541.2,2968.2 L542.5,2968.3 L543.8,2968.2 L545.1,2968.1 L546.4,2968.1 L547.7,2968.2 L549.0,2968.2 L550.3,2968.2 L551.6,2968.1 L552.9,2968.1 L554.2,2968.2 L555.5,2968.2 L556.8,2968.1 L558.1,2968.2 L559.4,2968.2 L560.7,2968.2 L562.0,2968.2 L563.3,2968.2 L564.6,2968.1 L565.9,2968.2 L567.2,2968.2 L568.5,2968.2 L569.8,2968.1 L571.1,2968.1 L572.4,2968.1 L573.7,2968.2 L575.0,2968.1 L576.3,2968.1 L577.6,2968.1 L578.9,2968.2 L580.2,2968.2 L581.5,2968.1 L582.8,2968.2 L584.1,2968.2 L585.4,2968.1 L586.7,2968.2 L588.0,2968.1 L589.3,2968.1 L590.6,2968.1 L591.9,2968.2 L593.2,2968.2 L594.5,2968.2 L595.8,2968.1 L597.1,2968.1 L598.4,2968.2 L599.7,2968.1 L601.0,2968.1 L602.3,2968.2 L603.6,2968.1 L604.9,2968.1 L606.2,2968.2 L607.5,2968.2 L608.8,2968.1 L610.1,2968.1 L611.4,2968.1 L612.7,2968.1 L614.0,2968.1 L615.3,2968.2 L616.6,2968.1 L617.9,2968.1 L619.2,2968.1 L620.5,2968.1 L621.8,2968.0 L623.1,2968.1 L624.4,2968.1 L625.7,2968.1 L627.0,2968.1 L628.3,2968.2 L629.6,2968.1 L630.9,2968.1 L632.2,2968.1 L633.5,2968.1 L634.8,2968.1 L636.1,2968.1 L637.4,2968.1 L638.7,2968.1 L640.0,2968.0 L641.3,2968.1 L642.6,2968.1 L643.9,2968.1 L645.2,2968.1 L646.5,2968.1 L647.8,2968.0 L649.1,2968.0 L650.4,2968.0 L651.7,2968.1 L653.0,2968.1 L654.3,2968.1 L655.6,2968.1 L656.9,2968.1 L658.2,2968.1 L659.5,2968.1 L660.8,2968.1 L662.1,2968.1 L663.4,2968.1 L664.7,2968.0 L666.0,2968.1 L667.3,2968.1 L668.6,2968.1 L669.9,2968.0 L671.2,2968.0 L672.5,2968.0 L673.8,2968.0 L675.1,2968.1 L676.4,2968.1 L677.7,2968.1 L679.0,2968.0 L680.3,2968.0 L681.6,2968.0 L682.9,2968.1 L684.2,2968.1 L685.5,2968.0 L686.8,2968.0 L688.1,2968.0 L689.4,2968.1 L690.7,2968.1 L692.0,2968.0 L693.3,2968.0 L694.6,2968.0 L695.9,2968.0 L697.2,2968.0 L698.5,2968.0 L699.8,2968.0 L701.1,2968.0 L702.4,2968.0 L703.7,2968.0 L705.0,2968.0 L706.3,2968.0 L707.6,2967.9 L708.9,2968.0 L710.2,2968.0 L711.5,2968.0 L712.8,2967.9 L714.1,2968.0 L715.4,2968.0 L716.7,2968.1 L718.0,2968.0 L719.3,2968.0 L720.6,2968.0 L721.9,2968.0 L723.2,2968.0 L724.5,2967.9 L725.8,2967.9 L727.1,2967.9 L728.4,2968.0 L729.7,2968.0 L731.0,2967.9 L732.3,2967.9 L733.6,2968.0 L734.9,2968.0 L736.2,2968.0 L737.5,2968.0 L738.8,2968.0 L740.1,2968.0 L741.4,2968.0 L742.7,2968.0 L744.0,2968.0 L745.3,2967.9 L746.6,2967.9 L747.9,2967.9 L749.2,2967.9 L750.5,2968.0 L751.8,2968.0 L753.1,2967.9 L754.4,2967.9 L755.7,2968.0 L757.0,2968.0 L758.3,2967.9 L759.6,2967.9 L760.9,2967.9 L762.2,2967.9 L763.5,2967.9 L764.8,2967.9 L766.1,2967.9 L767.4,2967.9 L768.7,2967.9 L770.0,2967.9 L771.3,2967.9 L772.6,2967.9 L773.9,2967.9 L775.2,2967.9 L776.5,2967.9 L777.8,2967.9 L779.1,2967.9 L780.4,2967.9 L781.7,2967.9 L783.0,2967.9 L784.3,2967.9 L785.6,2967.9 L786.9,2967.9 L788.2,2967.9 L789.5,2967.9 L790.8,2967.9 L792.1,2967.9 L793.4,2967.9 L794.7,2967.9 L796.0,2967.9 L797.3,2967.9 L798.6,2967.9 L799.9,2967.8 L801.2,2967.9 L802.5,2967.8 L803.8,2967.8 L805.1,2967.9 L806.4,2967.8 L807.7,2967.8 L809.0,2967.9 L810.3,2967.9 L811.6,2967.9 L812.9,2967.9 L814.2,2967.9 L815.5,2967.8 L816.8,2967.8 L818.1,2967.8 L819.4,2967.8 L820.7,2967.8 L822.0,2967.8 L823.3,2967.8 L824.6,2967.8 L825.9,2967.8 L827.2,2967.8 L828.5,2967.8 L829.8,2967.8 L831.1,2967.8 L832.4,2967.8 L833.7,2967.8 L835.0,2967.8 L836.3,2967.8 L837.6,2967.8 L838.9,2967.8 L840.2,2967.8 L841.5,2967.8 L842.8,2967.8 L844.1,2967.8 L845.4,2967.8 L846.7,2967.7 L848.0,2967.8 L849.3,2967.8 L850.6,2967.8 L851.9,2967.8 L853.2,2967.8 L854.5,2967.8 L855.8,2967.8 L857.1,2967.8 L858.4,2967.8 L859.7,2967.7 L861.0,2967.7 L862.3,2967.7 L863.6,2967.7 L864.9,2967.7 L866.2,2967.7 L867.5,2967.7 L868.8,2967.7 L870.1,2967.7 L871.4,2967.7 L872.7,2967.7 L874.0,2967.7 L875.3,2967.7 L876.6,2967.7 L877.9,2967.6 L879.2,2967.7 L880.5,2967.7 L881.8,2967.7 L883.1,2967.6 L884.4,2967.7 L885.7,2967.7 L887.0,2967.7 L888.3,2967.7 L889.6,2967.6 L890.9,2967.6 L892.2,2967.6 L893.5,2967.6 L894.8,2967.6 L896.1,2967.6 L897.4,2967.6 L898.7,2967.6 L900.0,2967.6 L901.3,2967.6 L902.6,2967.6 L903.9,2967.5 L905.2,2967.6 L906.5,2967.6 L907.8,2967.5 L909.1,2967.5 L910.4,2967.5 L911.7,2967.6 L913.0,2967.5 L914.3,2967.5 L915.6,2967.5 L916.9,2967.4 L918.2,2967.4 L919.5,2967.4 L920.8,2967.5 L922.1,2967.4 L923.4,2967.4 L924.7,2967.4 L926.0,2967.4 L927.3,2967.3 L928.6,2967.3 L929.9,2967.3 L931.2,2967.2 L932.5,2967.2 L933.8,2967.2 L935.1,2967.2 L936.4,2967.1 L937.7,2967.1 L939.0,2967.1 L940.3,2967.0 L941.6,2967.0 L942.9,2967.0 L944.2,2967.0 L945.5,2966.9 L946.8,2966.9 L948.1,2966.9 L949.4,2966.8 L950.7,2966.8 L952.0,2966.8 L953.3,2966.8 L954.6,2966.8 L955.9,2966.7 L957.2,2966.7 L958.5,2966.7 L959.8,2966.7 L961.1,2966.6 L962.4,2966.6 L963.7,2966.6 L965.0,2966.5 L966.3,2966.5 L967.6,2966.4 L968.9,2966.4 L970.2,2966.4 L971.5,2966.3 L972.8,2966.3 L974.1,2966.3 L975.4,2966.3 L976.7,2966.2 L978.0,2966.2 L979.3,2966.1 L980.6,2966.0 L981.9,2966.0 L983.2,2966.1 L984.5,2966.0 L985.8,2965.9 L987.1,2965.9 L988.4,2965.8 L989.7,2965.7 L991.0,2965.7 L992.3,2965.7 L993.6,2965.7 L994.9,2965.6 L996.2,2965.6 L997.5,2965.5 L998.8,2965.5 L1000.1,2965.4 L1001.4,2965.4 L1002.7,2965.4 L1004.0,2965.3 L1005.3,2965.3 L1006.6,2965.2 L1007.9,2965.1 L1009.2,2965.1 L1010.5,2965.1 L1011.8,2965.0 L1013.1,2965.0 L1014.4,2964.9 L1015.7,2964.8 L1017.0,2964.8 L1018.3,2964.7 L1019.6,2964.7 L1020.9,2964.6 L1022.2,2964.5 L1023.5,2964.5 L1024.8,2964.4 L1026.1,2964.4 L1027.4,2964.3 L1028.7,2964.3 L1030.0,2964.1 L1031.3,2964.1 L1032.6,2964.0 L1033.9,2963.9 L1035.2,2963.9 L1036.5,2963.9 L1037.8,2963.9 L1039.1,2963.8 L1040.4,2963.7 L1041.7,2963.6 L1043.0,2963.6 L1044.3,2963.5 L1045.6,2963.5 L1046.9,2963.5 L1048.2,2963.4 L1049.5,2963.3 L1050.8,2963.3 L1052.1,2963.3 L1053.4,2963.1 L1054.7,2963.1 L1056.0,2963.0 L1057.3,2963.0 L1058.6,2962.9 L1059.9,2962.6 L1061.2,2962.7 L1062.5,2962.7 L1063.8,2962.7 L1065.1,2962.6 L1066.4,2962.6 L1067.7,2962.5 L1069.0,2962.4 L1070.3,2962.3 L1071.6,2962.2 L1072.9,2962.2 L1074.2,2962.1 L1075.5,2962.0 L1076.8,2961.9 L1078.1,2961.9 L1079.4,2961.8 L1080.7,2961.7 L1082.0,2961.6 L1083.3,2961.6 L1084.6,2961.5 L1085.9,2961.4 L1087.2,2961.4 L1088.5,2961.2 L1089.8,2961.2 L1091.1,2961.1 L1092.4,2961.0 L1093.7,2960.9 L1095.0,2960.7 L1096.3,2960.6 L1097.6,2960.6 L1098.9,2960.4 L1100.2,2960.3 L1101.5,2960.2 L1102.8,2960.0 L1104.1,2959.8 L1105.4,2959.8 L1106.7,2959.7 L1108.0,2959.5 L1109.3,2959.4 L1110.6,2959.3 L1111.9,2959.2 L1113.2,2958.9 L1114.5,2958.7 L1115.8,2958.5 L1117.1,2958.3 L1118.4,2958.2 L1119.7,2958.0 L1121.0,2957.8 L1122.3,2957.6 L1123.6,2957.3 L1124.9,2957.0 L1126.2,2956.9 L1127.5,2956.7 L1128.8,2956.4 L1130.1,2956.2 L1131.4,2956.0 L1132.7,2955.7 L1134.0,2955.5 L1135.3,2955.3 L1136.6,2955.0 L1137.9,2954.8 L1139.2,2954.5 L1140.5,2954.0 L1141.8,2953.8 L1143.1,2953.6 L1144.4,2953.5 L1145.7,2953.1 L1147.0,2952.7 L1148.3,2952.4 L1149.6,2952.0 L1150.9,2951.7 L1152.2,2951.4 L1153.5,2951.1 L1154.8,2950.8 L1156.1,2950.3 L1157.4,2949.7 L1158.7,2949.5 L1160.0,2949.2 L1161.3,2948.6 L1162.6,2948.2 L1163.9,2947.7 L1165.2,2947.2 L1166.5,2947.0 L1167.8,2946.5 L1169.1,2946.1 L1170.4,2945.9 L1171.7,2945.5 L1173.0,2945.0 L1174.3,2944.7 L1175.6,2944.4 L1176.9,2944.0 L1178.2,2943.6 L1179.5,2943.2 L1180.8,2942.9 L1182.1,2942.6 L1183.4,2942.0 L1184.7,2941.9 L1186.0,2942.0 L1187.3,2941.6 L1188.6,2941.1 L1189.9,2940.6 L1191.2,2940.2 L1192.5,2940.1 L1193.8,2939.7 L1195.1,2939.2 L1196.4,2938.8 L1197.7,2938.4 L1199.0,2938.1 L1200.3,2937.6 L1201.6,2937.1 L1202.9,2936.7 L1204.2,2936.2 L1205.5,2935.7 L1206.8,2935.2 L1208.1,2934.4 L1209.4,2933.8 L1210.7,2933.2 L1212.0,2932.5 L1213.3,2931.7 L1214.6,2930.9 L1215.9,2930.2 L1217.2,2929.3 L1218.5,2928.4 L1219.8,2927.5 L1221.1,2926.5 L1222.4,2925.8 L1223.7,2924.9 L1225.0,2924.4 L1226.3,2923.7 L1227.6,2922.8 L1228.9,2921.8 L1230.2,2920.9 L1231.5,2919.8 L1232.8,2918.8 L1234.1,2917.9 L1235.4,2916.8 L1236.7,2915.9 L1238.0,2914.6 L1239.3,2913.2 L1240.6,2912.1 L1241.9,2911.3 L1243.2,2910.3 L1244.5,2909.5 L1245.8,2908.2 L1247.1,2907.2 L1248.4,2906.0 L1249.7,2905.1 L1251.0,2903.7 L1252.3,2902.5 L1253.6,2901.1 L1254.9,2899.8 L1256.2,2898.4 L1257.5,2896.7 L1258.8,2895.6 L1260.1,2894.7 L1261.4,2893.4 L1262.7,2891.8 L1264.0,2890.4 L1265.3,2889.3 L1266.6,2888.5 L1267.9,2887.1 L1269.2,2885.6 L1270.5,2883.7 L1271.8,2882.5 L1273.1,2881.5 L1274.4,2880.4 L1275.7,2879.4 L1277.0,2878.0 L1278.3,2876.2 L1279.6,2874.5 L1280.9,2873.2 L1282.2,2871.9 L1283.5,2870.4 L1284.8,2868.8 L1286.1,2866.9 L1287.4,2865.7 L1288.7,2864.4 L1290.0,2862.5 L1291.3,2861.7 L1292.6,2860.8 L1293.9,2858.7 L1295.2,2857.2 L1296.5,2855.5 L1297.8,2853.7 L1299.1,2852.3 L1300.4,2850.7 L1301.7,2848.9 L1303.0,2846.9 L1304.3,2845.3 L1305.6,2844.6 L1306.9,2842.9 L1308.2,2840.8 L1309.5,2839.1 L1310.8,2837.4 L1312.1,2835.3 L1313.4,2834.0 L1314.7,2832.1 L1316.0,2830.3 L1317.3,2828.1 L1318.6,2826.5 L1319.9,2825.5 L1321.2,2823.4 L1322.5,2821.5 L1323.8,2820.0 L1325.1,2819.3 L1326.4,2818.2 L1327.7,2816.1 L1329.0,2813.8 L1330.3,2812.6 L1331.6,2812.1 L1332.9,2810.1 L1334.2,2808.8 L1335.5,2807.1 L1336.8,2804.1 L1338.1,2802.0 L1339.4,2800.5 L1340.7,2798.9 L1342.0,2797.9 L1343.3,2795.3 L1344.6,2792.9 L1345.9,2790.6 L1347.2,2788.8 L1348.5,2784.9 L1349.8,2785.7 L1351.1,2785.1 L1352.4,2783.8 L1353.7,2780.8 L1355.0,2776.6 L1356.3,2778.1 L1357.6,2781.2 L1358.9,2779.8 L1360.2,2774.2 L1361.5,2770.9 L1362.8,2769.3 L1364.1,2769.0 L1365.4,2767.4 L1366.7,2765.1 L1368.0,2762.6 L1369.3,2760.7 L1370.6,2758.8 L1371.9,2757.8 L1373.2,2755.1 L1374.5,2751.8 L1375.8,2749.6 L1377.1,2747.5 L1378.4,2745.5 L1379.7,2743.6 L1381.0,2741.7 L1382.3,2738.9 L1383.6,2737.2 L1384.9,2735.6 L1386.2,2733.0 L1387.5,2731.6 L1388.8,2729.5 L1390.1,2726.9 L1391.4,2725.0 L1392.7,2722.2 L1394.0,2721.1 L1395.3,2718.9 L1396.6,2716.1 L1397.9,2714.4 L1399.2,2713.0 L1400.5,2711.1 L1401.8,2709.1 L1403.1,2705.6 L1404.4,2703.4 L1405.7,2701.7 L1407.0,2699.2 L1408.3,2695.9 L1409.6,2694.4 L1410.9,2692.9 L1412.2,2691.6 L1413.5,2687.5 L1414.8,2685.9 L1416.1,2685.6 L1417.4,2682.3 L1418.7,2679.8 L1420.0,2677.1 L1421.3,2674.0 L1422.6,2672.1 L1423.9,2669.5 L1425.2,2668.1 L1426.5,2665.7 L1427.8,2662.9 L1429.1,2659.6 L1430.4,2656.2 L1431.7,2654.8 L1433.0,2653.8 L1434.3,2651.8 L1435.6,2649.2 L1436.9,2646.4 L1438.2,2646.1 L1439.5,2642.2 L1440.8,2640.4 L1442.1,2637.5 L1443.4,2635.8 L1444.7,2633.8 L1446.0,2631.3 L1447.3,2628.0 L1448.6,2625.8 L1449.9,2623.8 L1451.2,2623.3 L1452.5,2619.9 L1453.8,2617.4 L1455.1,2615.1 L1456.4,2612.8 L1457.7,2610.1 L1459.0,2607.3 L1460.3,2606.7 L1461.6,2603.6 L1462.9,2599.4 L1464.2,2598.2 L1465.5,2597.6 L1466.8,2594.7 L1468.1,2591.2 L1469.4,2591.2 L1470.7,2589.5 L1472.0,2585.1 L1473.3,2581.9 L1474.6,2580.9 L1475.9,2578.3 L1477.2,2576.5 L1478.5,2574.6 L1479.8,2572.5 L1481.1,2569.4 L1482.4,2568.1 L1483.7,2566.2 L1485.0,2561.1 L1486.3,2558.4 L1487.6,2558.5 L1488.9,2557.1 L1490.2,2554.8 L1491.5,2551.8 L1492.8,2550.7 L1494.1,2549.9 L1495.4,2546.3 L1496.7,2543.8 L1498.0,2542.6 L1499.3,2541.8 L1500.6,2540.0 L1501.9,2537.5 L1503.2,2537.1 L1504.5,2535.3 L1505.8,2531.7 L1507.1,2527.7 L1508.4,2525.9 L1509.7,2523.4 L1511.0,2520.1 L1512.3,2518.7 L1513.6,2516.8 L1514.9,2513.7 L1516.2,2512.8 L1517.5,2511.0 L1518.8,2506.9 L1520.1,2503.8 L1521.4,2501.9 L1522.7,2499.3 L1524.0,2497.4 L1525.3,2492.9 L1526.6,2491.5 L1527.9,2489.7 L1529.2,2486.9 L1530.5,2485.5 L1531.8,2482.6 L1533.1,2479.0 L1534.4,2479.9 L1535.7,2475.0 L1537.0,2470.5 L1538.3,2468.2 L1539.6,2467.4 L1540.9,2465.8 L1542.2,2462.3 L1543.5,2460.8 L1544.8,2458.7 L1546.1,2453.9 L1547.4,2453.1 L1548.7,2450.9 L1550.0,2448.9 L1551.3,2448.7 L1552.6,2445.2 L1553.9,2440.5 L1555.2,2438.0 L1556.5,2437.0 L1557.8,2433.2 L1559.1,2431.5 L1560.4,2431.0 L1561.7,2430.7 L1563.0,2427.5 L1564.3,2423.6 L1565.6,2420.9 L1566.9,2419.0 L1568.2,2414.1 L1569.5,2412.3 L1570.8,2410.0 L1572.1,2410.1 L1573.4,2406.1 L1574.7,2403.7 L1576.0,2399.9 L1577.3,2398.7 L1578.6,2399.4 L1579.9,2398.0 L1581.2,2392.6 L1582.5,2388.5 L1583.8,2386.8 L1585.1,2385.2 L1586.4,2382.8 L1587.7,2381.0 L1589.0,2379.9 L1590.3,2377.7 L1591.6,2375.2 L1592.9,2373.8 L1594.2,2372.5 L1595.5,2369.8 L1596.8,2363.6 L1598.1,2358.8 L1599.4,2357.5 L1600.7,2355.7 L1602.0,2354.5 L1603.3,2350.5 L1604.6,2347.1 L1605.9,2347.8 L1607.2,2344.9 L1608.5,2342.2 L1609.8,2340.9 L1611.1,2338.6 L1612.4,2337.5 L1613.7,2334.9 L1615.0,2329.1 L1616.3,2329.5 L1617.6,2328.3 L1618.9,2323.7 L1620.2,2319.7 L1621.5,2319.9 L1622.8,2320.0 L1624.1,2320.9 L1625.4,2316.7 L1626.7,2312.1 L1628.0,2307.4 L1629.3,2304.1 L1630.6,2302.5 L1631.9,2299.2 L1633.2,2297.2 L1634.5,2295.1 L1635.8,2294.0 L1637.1,2292.5 L1638.4,2290.6 L1639.7,2289.1 L1641.0,2286.7 L1642.3,2283.4 L1643.6,2282.5 L1644.9,2278.3 L1646.2,2274.0 L1647.5,2274.1 L1648.8,2271.1 L1650.1,2269.4 L1651.4,2266.2 L1652.7,2266.4 L1654.0,2263.0 L1655.3,2258.8 L1656.6,2255.6 L1657.9,2253.0 L1659.2,2252.3 L1660.5,2253.0 L1661.8,2252.6 L1663.1,2248.5 L1664.4,2243.4 L1665.7,2239.0 L1667.0,2240.4 L1668.3,2242.5 L1669.6,2241.0 L1670.9,2237.5 L1672.2,2233.6 L1673.5,2230.7 L1674.8,2229.0 L1676.1,2226.9 L1677.4,2222.3 L1678.7,2222.1 L1680.0,2222.0 L1681.3,2219.1 L1682.6,2215.0 L1683.9,2211.9 L1685.2,2212.0 L1686.5,2213.0 L1687.8,2208.8 L1689.1,2205.2 L1690.4,2204.4 L1691.7,2202.0 L1693.0,2200.3 L1694.3,2196.4 L1695.6,2193.6 L1696.9,2191.7 L1698.2,2189.0 L1699.5,2184.3 L1700.8,2186.9 L1702.1,2186.6 L1703.4,2184.6 L1704.7,2178.9 L1706.0,2175.0 L1707.3,2176.0 L1708.6,2173.2 L1709.9,2172.2 L1711.2,2171.8 L1712.5,2169.1 L1713.8,2164.6 L1715.1,2158.9 L1716.4,2157.0 L1717.7,2157.9 L1719.0,2157.9 L1720.3,2150.6 L1721.6,2149.9 L1722.9,2145.7 L1724.2,2142.6 L1725.5,2140.4 L1726.8,2139.8 L1728.1,2137.9 L1729.4,2137.6 L1730.7,2135.4 L1732.0,2131.0 L1733.3,2125.0 L1734.6,2123.9 L1735.9,2125.7 L1737.2,2124.9 L1738.5,2122.5 L1739.8,2117.6 L1741.1,2119.9 L1742.4,2117.5 L1743.7,2114.1 L1745.0,2112.2 L1746.3,2109.6 L1747.6,2108.1 L1748.9,2107.0 L1750.2,2103.9 L1751.5,2100.4 L1752.8,2100.1 L1754.1,2097.2 L1755.4,2092.8 L1756.7,2092.1 L1758.0,2088.5 L1759.3,2087.6 L1760.6,2086.8 L1761.9,2087.2 L1763.2,2085.7 L1764.5,2083.6 L1765.8,2082.7 L1767.1,2077.7 L1768.4,2075.0 L1769.7,2073.2 L1771.0,2069.8 L1772.3,2066.4 L1773.6,2061.4 L1774.9,2062.9 L1776.2,2063.5 L1777.5,2063.0 L1778.8,2062.7 L1780.1,2058.3 L1781.4,2053.1 L1782.7,2053.1 L1784.0,2050.9 L1785.3,2043.4 L1786.6,2044.4 L1787.9,2044.0 L1789.2,2042.2 L1790.5,2036.5 L1791.8,2033.3 L1793.1,2034.2 L1794.4,2028.3 L1795.7,2026.5 L1797.0,2023.6 L1798.3,2021.8 L1799.6,2022.7 L1800.9,2017.3 L1802.2,2015.3 L1803.5,2016.3 L1804.8,2017.9 L1806.1,2018.1 L1807.4,2016.2 L1808.7,2017.5 L1810.0,2017.3 L1811.3,2013.3" fill="none" stroke="#b177de" stroke-width="7.4" stroke-linejoin="round" stroke-linecap="butt"/>
<path d="M195,2967 H1804" stroke="#000" stroke-width="4" stroke-dasharray="4 3" fill="none"/>
<path d="M1263.5,2966.0 L1382.3,2760.0 L1686.0,2227.0" fill="none" stroke="#000" stroke-width="6.8" stroke-linejoin="round" stroke-linecap="butt"/>
<path d="M1439.6,2836.0 L1305.0,2941.0" fill="none" stroke="#000" stroke-width="6" stroke-linejoin="round" stroke-linecap="butt"/>
<path d="M1276,2965 L1304.1,2927.3 L1322,2945.2 Z" fill="#000"/>
<text x="1455.5" y="2836.6" font-family='"Liberation Serif", "Times New Roman", serif' font-size="64.7" font-weight="bold" fill="#000">E<tspan dy="19" font-size="44">g</tspan></text>
<rect x="189" y="1703" width="442" height="476" fill="#fff" stroke="#000" stroke-width="2"/>
<rect x="185" y="1699" width="7" height="501" fill="#000"/>
<rect x="185" y="1699" width="515" height="7" fill="#000"/>
<rect x="192" y="1745" width="185" height="18" fill="#515151"/>
<text transform="translate(387 1780) scale(1.02 1)" font-family='"Liberation Sans", Arial, Helvetica, sans-serif' font-size="73" font-weight="bold" text-anchor="start" fill="#000">x=0</text>
<text transform="translate(654 1777.5) scale(0.972 1)" font-family='"Liberation Serif", "Times New Roman", serif' font-size="68" font-weight="bold" text-anchor="start" fill="#000000">E</text>
<text transform="translate(699.5 1795.5)" font-family='"Liberation Serif", "Times New Roman", serif' font-size="42" font-weight="bold" text-anchor="start" fill="#000000">g</text>
<text transform="translate(719.5 1777.5)" font-family='"Liberation Serif", "Times New Roman", serif' font-size="68" font-weight="bold" text-anchor="start" fill="#000000">=1.28 eV</text>
<rect x="192" y="1838.2" width="185" height="18" fill="#f14040"/>
<text transform="translate(387 1873.2) scale(1.02 1)" font-family='"Liberation Sans", Arial, Helvetica, sans-serif' font-size="73" font-weight="bold" text-anchor="start" fill="#000">x=0.05</text>
<text transform="translate(654 1868) scale(0.972 1)" font-family='"Liberation Serif", "Times New Roman", serif' font-size="68" font-weight="bold" text-anchor="start" fill="#cc0000">E</text>
<text transform="translate(699.5 1886)" font-family='"Liberation Serif", "Times New Roman", serif' font-size="42" font-weight="bold" text-anchor="start" fill="#cc0000">g</text>
<text transform="translate(719.5 1868)" font-family='"Liberation Serif", "Times New Roman", serif' font-size="68" font-weight="bold" text-anchor="start" fill="#cc0000">=1.30 eV</text>
<rect x="192" y="1931.4" width="185" height="18" fill="#1a6fdf"/>
<text transform="translate(387 1966.4) scale(1.02 1)" font-family='"Liberation Sans", Arial, Helvetica, sans-serif' font-size="73" font-weight="bold" text-anchor="start" fill="#000">x=0.09</text>
<text transform="translate(654 1965.9) scale(0.972 1)" font-family='"Liberation Serif", "Times New Roman", serif' font-size="68" font-weight="bold" text-anchor="start" fill="#0000cc">E</text>
<text transform="translate(699.5 1983.9)" font-family='"Liberation Serif", "Times New Roman", serif' font-size="42" font-weight="bold" text-anchor="start" fill="#0000cc">g</text>
<text transform="translate(719.5 1965.9)" font-family='"Liberation Serif", "Times New Roman", serif' font-size="68" font-weight="bold" text-anchor="start" fill="#0000cc">=1.28 eV</text>
<rect x="192" y="2024.6" width="185" height="18" fill="#37ad6b"/>
<text transform="translate(387 2059.6) scale(1.02 1)" font-family='"Liberation Sans", Arial, Helvetica, sans-serif' font-size="73" font-weight="bold" text-anchor="start" fill="#000">x=0.12</text>
<text transform="translate(651 2058.8) scale(0.972 1)" font-family='"Liberation Serif", "Times New Roman", serif' font-size="68" font-weight="bold" text-anchor="start" fill="#009900">E</text>
<text transform="translate(696.5 2076.8)" font-family='"Liberation Serif", "Times New Roman", serif' font-size="42" font-weight="bold" text-anchor="start" fill="#009900">g</text>
<text transform="translate(716.5 2058.8)" font-family='"Liberation Serif", "Times New Roman", serif' font-size="68" font-weight="bold" text-anchor="start" fill="#009900">=1.32 eV</text>
<rect x="192" y="2117.8" width="185" height="18" fill="#b177de"/>
<text transform="translate(387 2152.8) scale(1.02 1)" font-family='"Liberation Sans", Arial, Helvetica, sans-serif' font-size="73" font-weight="bold" text-anchor="start" fill="#000">x=0.15</text>
<text transform="translate(648 2153.2) scale(0.972 1)" font-family='"Liberation Serif", "Times New Roman", serif' font-size="68" font-weight="bold" text-anchor="start" fill="#aa00cc">E</text>
<text transform="translate(693.5 2171.2)" font-family='"Liberation Serif", "Times New Roman", serif' font-size="42" font-weight="bold" text-anchor="start" fill="#aa00cc">g</text>
<text transform="translate(713.5 2153.2)" font-family='"Liberation Serif", "Times New Roman", serif' font-size="68" font-weight="bold" text-anchor="start" fill="#aa00cc">=1.35 eV</text>
<rect x="314" y="3372" width="7" height="1186" fill="#000"/>
<rect x="1781" y="3372" width="7" height="1186" fill="#000"/>
<rect x="314" y="3372" width="1474" height="6" fill="#000"/>
<rect x="314" y="4551" width="1474" height="7" fill="#000"/>
<rect x="294" y="4551" width="20" height="7" fill="#000"/>
<text transform="translate(277.5 4570.9) scale(0.954 1)" font-family='"Liberation Sans", Arial, Helvetica, sans-serif' font-size="56" font-weight="bold" text-anchor="end" fill="#000">0.0</text>
<rect x="306" y="4492.02" width="8" height="7" fill="#000"/>
<rect x="294" y="4433.05" width="20" height="7" fill="#000"/>
<text transform="translate(277.5 4452.95) scale(0.954 1)" font-family='"Liberation Sans", Arial, Helvetica, sans-serif' font-size="56" font-weight="bold" text-anchor="end" fill="#000">0.1</text>
<rect x="306" y="4374.07" width="8" height="7" fill="#000"/>
<rect x="294" y="4315.1" width="20" height="7" fill="#000"/>
<text transform="translate(277.5 4335) scale(0.954 1)" font-family='"Liberation Sans", Arial, Helvetica, sans-serif' font-size="56" font-weight="bold" text-anchor="end" fill="#000">0.2</text>
<rect x="306" y="4256.12" width="8" height="7" fill="#000"/>
<rect x="294" y="4197.15" width="20" height="7" fill="#000"/>
<text transform="translate(277.5 4217.05) scale(0.954 1)" font-family='"Liberation Sans", Arial, Helvetica, sans-serif' font-size="56" font-weight="bold" text-anchor="end" fill="#000">0.3</text>
<rect x="306" y="4138.17" width="8" height="7" fill="#000"/>
<rect x="294" y="4079.2" width="20" height="7" fill="#000"/>
<text transform="translate(277.5 4099.1) scale(0.954 1)" font-family='"Liberation Sans", Arial, Helvetica, sans-serif' font-size="56" font-weight="bold" text-anchor="end" fill="#000">0.4</text>
<rect x="306" y="4020.22" width="8" height="7" fill="#000"/>
<rect x="294" y="3961.25" width="20" height="7" fill="#000"/>
<text transform="translate(277.5 3981.15) scale(0.954 1)" font-family='"Liberation Sans", Arial, Helvetica, sans-serif' font-size="56" font-weight="bold" text-anchor="end" fill="#000">0.5</text>
<rect x="306" y="3902.28" width="8" height="7" fill="#000"/>
<rect x="294" y="3843.3" width="20" height="7" fill="#000"/>
<text transform="translate(277.5 3863.2) scale(0.954 1)" font-family='"Liberation Sans", Arial, Helvetica, sans-serif' font-size="56" font-weight="bold" text-anchor="end" fill="#000">0.6</text>
<rect x="306" y="3784.33" width="8" height="7" fill="#000"/>
<rect x="294" y="3725.35" width="20" height="7" fill="#000"/>
<text transform="translate(277.5 3745.25) scale(0.954 1)" font-family='"Liberation Sans", Arial, Helvetica, sans-serif' font-size="56" font-weight="bold" text-anchor="end" fill="#000">0.7</text>
<rect x="306" y="3666.38" width="8" height="7" fill="#000"/>
<rect x="294" y="3607.4" width="20" height="7" fill="#000"/>
<text transform="translate(277.5 3627.3) scale(0.954 1)" font-family='"Liberation Sans", Arial, Helvetica, sans-serif' font-size="56" font-weight="bold" text-anchor="end" fill="#000">0.8</text>
<rect x="306" y="3548.43" width="8" height="7" fill="#000"/>
<rect x="294" y="3489.45" width="20" height="7" fill="#000"/>
<text transform="translate(277.5 3509.35) scale(0.954 1)" font-family='"Liberation Sans", Arial, Helvetica, sans-serif' font-size="56" font-weight="bold" text-anchor="end" fill="#000">0.9</text>
<rect x="306" y="3430.47" width="8" height="7" fill="#000"/>
<rect x="294" y="3371.5" width="20" height="7" fill="#000"/>
<text transform="translate(277.5 3391.4) scale(0.954 1)" font-family='"Liberation Sans", Arial, Helvetica, sans-serif' font-size="56" font-weight="bold" text-anchor="end" fill="#000">1.0</text>
<rect x="314" y="4558" width="7" height="20" fill="#000"/>
<text transform="translate(317.5 4634.6) scale(0.939 1)" font-family='"Liberation Sans", Arial, Helvetica, sans-serif' font-size="56" font-weight="bold" text-anchor="middle" fill="#000">400</text>
<rect x="405.688" y="4558" width="7" height="8" fill="#000"/>
<rect x="497.375" y="4558" width="7" height="20" fill="#000"/>
<text transform="translate(500.875 4634.6) scale(0.939 1)" font-family='"Liberation Sans", Arial, Helvetica, sans-serif' font-size="56" font-weight="bold" text-anchor="middle" fill="#000">600</text>
<rect x="589.062" y="4558" width="7" height="8" fill="#000"/>
<rect x="680.75" y="4558" width="7" height="20" fill="#000"/>
<text transform="translate(684.25 4634.6) scale(0.939 1)" font-family='"Liberation Sans", Arial, Helvetica, sans-serif' font-size="56" font-weight="bold" text-anchor="middle" fill="#000">800</text>
<rect x="772.438" y="4558" width="7" height="8" fill="#000"/>
<rect x="864.125" y="4558" width="7" height="20" fill="#000"/>
<text transform="translate(867.625 4634.6) scale(0.939 1)" font-family='"Liberation Sans", Arial, Helvetica, sans-serif' font-size="56" font-weight="bold" text-anchor="middle" fill="#000">1000</text>
<rect x="955.812" y="4558" width="7" height="8" fill="#000"/>
<rect x="1047.5" y="4558" width="7" height="20" fill="#000"/>
<text transform="translate(1051 4634.6) scale(0.939 1)" font-family='"Liberation Sans", Arial, Helvetica, sans-serif' font-size="56" font-weight="bold" text-anchor="middle" fill="#000">1200</text>
<rect x="1139.19" y="4558" width="7" height="8" fill="#000"/>
<rect x="1230.88" y="4558" width="7" height="20" fill="#000"/>
<text transform="translate(1234.38 4634.6) scale(0.939 1)" font-family='"Liberation Sans", Arial, Helvetica, sans-serif' font-size="56" font-weight="bold" text-anchor="middle" fill="#000">1400</text>
<rect x="1322.56" y="4558" width="7" height="8" fill="#000"/>
<rect x="1414.25" y="4558" width="7" height="20" fill="#000"/>
<text transform="translate(1417.75 4634.6) scale(0.939 1)" font-family='"Liberation Sans", Arial, Helvetica, sans-serif' font-size="56" font-weight="bold" text-anchor="middle" fill="#000">1600</text>
<rect x="1505.94" y="4558" width="7" height="8" fill="#000"/>
<rect x="1597.62" y="4558" width="7" height="20" fill="#000"/>
<text transform="translate(1601.12 4634.6) scale(0.939 1)" font-family='"Liberation Sans", Arial, Helvetica, sans-serif' font-size="56" font-weight="bold" text-anchor="middle" fill="#000">1800</text>
<rect x="1689.31" y="4558" width="7" height="8" fill="#000"/>
<rect x="1781" y="4558" width="7" height="20" fill="#000"/>
<text transform="translate(1784.5 4634.6) scale(0.939 1)" font-family='"Liberation Sans", Arial, Helvetica, sans-serif' font-size="56" font-weight="bold" text-anchor="middle" fill="#000">2000</text>
<text transform="translate(97 3420.6) scale(1.03 1)" font-family='"Liberation Sans", Arial, Helvetica, sans-serif' font-size="60" font-weight="bold" text-anchor="start" fill="#000">(c)</text>
<text transform="translate(1012.3 4705.8)" font-family='"Liberation Sans", Arial, Helvetica, sans-serif' font-size="62" font-weight="bold" text-anchor="middle" fill="#000">Wavelength  (nm)</text>
<text transform="translate(176.9 3969.7) rotate(-90) scale(0.958 1)" font-family='"Liberation Sans", Arial, Helvetica, sans-serif' font-size="64" font-weight="bold" text-anchor="middle" fill="#000">Absorbance (a.u.)</text>
<path d="M761.6,3618.4 L763.6,3623.1 L765.6,3628.0 L767.6,3633.4 L769.6,3638.8 L771.6,3644.6 L773.6,3651.6 L775.6,3659.5 L777.6,3666.5 L779.6,3672.1 L781.6,3677.8 L783.6,3683.7 L785.6,3689.7 L787.6,3695.3 L789.6,3700.7" fill="none" stroke="#515151" stroke-width="11" stroke-linejoin="round" stroke-linecap="butt"/>
<path d="M745.6,3579.2 L747.6,3584.0 L749.6,3589.1 L751.6,3594.1 L753.6,3598.9 L755.6,3604.0 L757.6,3608.7 L759.6,3613.4 L761.6,3618.4 L763.6,3623.1 L765.6,3628.0 L767.6,3633.4" fill="none" stroke="#515151" stroke-width="12" stroke-linejoin="round" stroke-linecap="butt"/>
<path d="M731.6,3548.3 L733.6,3551.6 L735.6,3555.2 L737.6,3560.0 L739.6,3564.7 L741.6,3569.2 L743.6,3574.3 L745.6,3579.2 L747.6,3584.0 L749.6,3589.1 L751.6,3594.1" fill="none" stroke="#515151" stroke-width="13.2" stroke-linejoin="round" stroke-linecap="butt"/>
<path d="M669.6,3513.6 L671.6,3513.4 L673.6,3513.0 L675.6,3512.8 L677.6,3512.4 L679.6,3513.0 L681.6,3513.8 L683.6,3513.9 L685.6,3514.1 L687.6,3515.1 L689.6,3516.3 L691.6,3517.5 L693.6,3518.5 L695.6,3519.5 L697.6,3520.8 L699.6,3521.8 L701.6,3522.4 L703.6,3523.4 L705.6,3525.2 L707.6,3526.5 L709.6,3527.3 L711.6,3528.8 L713.6,3530.2 L715.6,3531.3 L717.6,3533.2 L719.6,3535.1 L721.6,3536.5 L723.6,3538.3 L725.6,3540.4 L727.6,3542.6 L729.6,3545.2 L731.6,3548.3 L733.6,3551.6 L735.6,3555.2" fill="none" stroke="#515151" stroke-width="14.5" stroke-linejoin="round" stroke-linecap="butt"/>
<path d="M317.6,3645.0 L319.6,3639.4 L321.6,3634.5 L323.6,3629.7 L325.6,3624.3 L327.6,3619.4 L329.6,3614.6 L331.6,3609.5 L333.6,3605.0 L335.6,3600.9 L337.6,3597.0 L339.6,3593.3 L341.6,3589.8 L343.6,3586.8 L345.6,3584.1 L347.6,3581.5 L349.6,3579.0 L351.6,3576.4 L353.6,3574.0 L355.6,3571.7 L357.6,3569.1 L359.6,3566.6 L361.6,3565.0 L363.6,3563.4 L365.6,3561.3 L367.6,3559.3 L369.6,3557.8 L371.6,3556.8 L373.6,3555.4 L375.6,3553.5 L377.6,3552.3 L379.6,3550.9 L381.6,3549.3 L383.6,3548.0 L385.6,3546.8 L387.6,3545.2 L389.6,3543.1 L391.6,3541.8 L393.6,3540.9 L395.6,3539.4 L397.6,3538.2 L399.6,3537.0 L401.6,3535.7 L403.6,3534.3 L405.6,3533.5 L407.6,3532.5 L409.6,3530.8 L411.6,3529.2 L413.6,3528.8 L415.6,3528.8 L417.6,3527.8 L419.6,3526.5 L421.6,3525.1 L423.6,3523.8 L425.6,3523.0 L427.6,3522.4 L429.6,3521.9 L431.6,3521.4 L433.6,3520.2 L435.6,3518.6 L437.6,3518.0 L439.6,3517.6 L441.6,3516.4 L443.6,3515.4 L445.6,3514.5 L447.6,3513.5 L449.6,3513.2 L451.6,3512.8 L453.6,3511.8 L455.6,3510.8 L457.6,3509.7 L459.6,3508.8 L461.6,3508.2 L463.6,3507.6 L465.6,3507.0 L467.6,3506.2 L469.6,3504.7 L471.6,3503.1 L473.6,3502.0 L475.6,3501.2 L477.6,3500.5 L479.6,3499.6 L481.6,3499.0 L483.6,3499.0 L485.6,3498.8 L487.6,3497.9 L489.6,3497.4 L491.6,3497.8 L493.6,3497.3 L495.6,3496.1 L497.6,3495.4 L499.6,3495.5 L501.6,3495.8 L503.6,3495.3 L505.6,3494.6 L507.6,3494.4 L509.6,3494.5 L511.6,3494.2 L513.6,3493.9 L515.6,3493.8 L517.6,3494.1 L519.6,3494.5 L521.6,3494.5 L523.6,3494.2 L525.6,3494.0 L527.6,3493.7 L529.6,3493.6 L531.6,3493.9 L533.6,3494.4 L535.6,3494.2 L537.6,3494.0 L539.6,3493.9 L541.6,3494.1 L543.6,3494.5 L545.6,3494.5 L547.6,3494.2 L549.6,3494.0 L551.6,3494.4 L553.6,3495.1 L555.6,3495.4 L557.6,3495.8 L559.6,3496.6 L561.6,3497.8 L563.6,3498.6 L565.6,3499.4 L567.6,3500.8 L569.6,3502.0 L571.6,3503.1 L573.6,3504.3 L575.6,3505.2 L577.6,3505.8 L579.6,3506.4 L581.6,3507.7 L583.6,3508.9 L585.6,3509.6 L587.6,3510.0 L589.6,3510.4 L591.6,3510.8 L593.6,3511.6 L595.6,3512.5 L597.6,3513.2 L599.6,3513.6 L601.6,3513.7 L603.6,3514.1 L605.6,3515.0 L607.6,3515.5 L609.6,3515.5 L611.6,3515.6 L613.6,3515.5 L615.6,3515.7 L617.6,3516.2 L619.6,3516.3 L621.6,3515.7 L623.6,3515.2 L625.6,3515.1 L627.6,3515.0 L629.6,3514.6 L631.6,3513.9 L633.6,3513.2 L635.6,3512.8 L637.6,3512.8 L639.6,3512.6 L641.6,3511.9 L643.6,3511.5 L645.6,3511.4 L647.6,3511.5 L649.6,3511.7 L651.6,3511.8 L653.6,3511.9 L655.6,3512.0 L657.6,3512.2 L659.6,3512.1 L661.6,3512.2 L663.6,3512.6 L665.6,3513.0 L667.6,3513.2 L669.6,3513.6 L671.6,3513.4 L673.6,3513.0 L675.6,3512.8 L677.6,3512.4 L679.6,3513.0 L681.6,3513.8 L683.6,3513.9 L685.6,3514.1 L687.6,3515.1 L689.6,3516.3 L691.6,3517.5 L693.6,3518.5 L695.6,3519.5 L697.6,3520.8 L699.6,3521.8 L701.6,3522.4 L703.6,3523.4 L705.6,3525.2 L707.6,3526.5 L709.6,3527.3 L711.6,3528.8 L713.6,3530.2 L715.6,3531.3 L717.6,3533.2 L719.6,3535.1 L721.6,3536.5 L723.6,3538.3 L725.6,3540.4 L727.6,3542.6 L729.6,3545.2 L731.6,3548.3 L733.6,3551.6 L735.6,3555.2 L737.6,3560.0 L739.6,3564.7 L741.6,3569.2 L743.6,3574.3 L745.6,3579.2 L747.6,3584.0 L749.6,3589.1 L751.6,3594.1 L753.6,3598.9 L755.6,3604.0 L757.6,3608.7 L759.6,3613.4 L761.6,3618.4 L763.6,3623.1 L765.6,3628.0 L767.6,3633.4 L769.6,3638.8 L771.6,3644.6 L773.6,3651.6 L775.6,3659.5 L777.6,3666.5 L779.6,3672.1 L781.6,3677.8 L783.6,3683.7 L785.6,3689.7 L787.6,3695.3 L789.6,3700.7 L791.6,3705.9 L793.6,3710.8 L795.6,3716.7 L797.6,3723.5 L799.6,3730.5 L801.6,3737.6 L803.6,3744.7 L805.6,3751.7 L807.6,3759.2 L809.6,3767.1 L811.6,3774.8 L813.6,3782.7 L815.6,3791.0 L817.6,3799.0 L819.6,3807.1 L821.6,3815.4 L823.6,3823.4 L825.6,3831.5 L827.6,3841.5 L829.6,3856.7 L831.6,3867.8 L833.6,3875.4 L835.6,3881.3 L837.6,3886.3 L839.6,3893.5 L841.6,3904.5 L843.6,3915.2 L845.6,3924.2 L847.6,3933.0 L849.6,3941.6 L851.6,3949.5 L853.6,3956.8 L855.6,3964.4 L857.6,3972.4 L859.6,3980.0 L861.6,3987.0 L863.6,3994.3 L865.6,4001.2 L867.6,4007.9 L869.6,4014.4 L871.6,4020.7 L873.6,4026.9 L875.6,4032.7 L877.6,4038.2 L879.6,4043.9 L881.6,4049.2 L883.6,4054.4 L885.6,4059.1 L887.6,4063.4 L889.6,4067.4 L891.6,4071.1 L893.6,4074.8 L895.6,4078.1 L897.6,4080.9 L899.6,4083.7 L901.6,4086.3 L903.6,4088.3 L905.6,4089.9 L907.6,4092.0 L909.6,4094.2 L911.6,4096.4 L913.6,4099.0 L915.6,4101.9 L917.6,4104.3 L919.6,4106.6 L921.6,4108.5 L923.6,4110.2 L925.6,4111.9 L927.6,4113.0 L929.6,4114.0 L931.6,4115.3 L933.6,4116.3 L935.6,4117.2 L937.6,4118.4 L939.6,4119.2 L941.6,4119.9 L943.6,4121.1 L945.6,4122.0 L947.6,4122.3 L949.6,4122.7 L951.6,4123.5 L953.6,4124.6 L955.6,4125.3 L957.6,4124.9 L959.6,4124.5 L961.6,4125.1 L963.6,4125.7 L965.6,4125.9 L967.6,4126.5 L969.6,4127.0 L971.6,4127.7 L973.6,4128.3 L975.6,4128.5 L977.6,4128.7 L979.6,4129.1 L981.6,4129.2 L983.6,4129.0 L985.6,4129.2 L987.6,4130.0 L989.6,4130.4 L991.6,4130.4 L993.6,4130.7 L995.6,4130.9 L997.6,4131.3 L999.6,4131.5 L1001.6,4131.5 L1003.6,4131.8 L1005.6,4131.9 L1007.6,4131.8 L1009.6,4131.8 L1011.6,4132.1 L1013.6,4132.4 L1015.6,4132.6 L1017.6,4132.5 L1019.6,4132.3 L1021.6,4132.7 L1023.6,4133.1 L1025.6,4133.2 L1027.6,4133.5 L1029.6,4133.8 L1031.6,4133.9 L1033.6,4133.6 L1035.6,4133.7 L1037.6,4133.9 L1039.6,4134.2 L1041.6,4134.3 L1043.6,4134.2 L1045.6,4134.3 L1047.6,4134.3 L1049.6,4134.3 L1051.6,4134.7 L1053.6,4134.9 L1055.6,4134.7 L1057.6,4134.5 L1059.6,4134.8 L1061.6,4135.7 L1063.6,4136.1 L1065.6,4135.8 L1067.6,4135.7 L1069.6,4135.8 L1071.6,4135.8 L1073.6,4135.3 L1075.6,4135.6 L1077.6,4136.5 L1079.6,4136.6 L1081.6,4136.4 L1083.6,4136.9 L1085.6,4137.3 L1087.6,4137.3 L1089.6,4137.7 L1091.6,4138.1 L1093.6,4137.7 L1095.6,4137.5 L1097.6,4137.7 L1099.6,4137.9 L1101.6,4138.0 L1103.6,4138.1 L1105.6,4138.4 L1107.6,4138.6 L1109.6,4138.4 L1111.6,4138.0 L1113.6,4138.1 L1115.6,4138.9 L1117.6,4139.5 L1119.6,4139.5 L1121.6,4139.4 L1123.6,4139.3 L1125.6,4139.2 L1127.6,4139.7 L1129.6,4140.1 L1131.6,4139.9 L1133.6,4139.9 L1135.6,4139.9 L1137.6,4139.9 L1139.6,4140.1 L1141.6,4140.2 L1143.6,4140.2 L1145.6,4140.6 L1147.6,4140.7 L1149.6,4140.8 L1151.6,4141.3 L1153.6,4141.6 L1155.6,4141.3 L1157.6,4141.1 L1159.6,4141.5 L1161.6,4142.0 L1163.6,4142.3 L1165.6,4142.0 L1167.6,4141.8 L1169.6,4141.8 L1171.6,4142.0 L1173.6,4142.1 L1175.6,4142.4 L1177.6,4142.9 L1179.6,4143.0 L1181.6,4142.4 L1183.6,4142.1 L1185.6,4142.2 L1187.6,4142.4 L1189.6,4142.6 L1191.6,4143.1 L1193.6,4143.4 L1195.6,4143.2 L1197.6,4142.9 L1199.6,4143.3 L1201.6,4143.5 L1203.6,4143.4 L1205.6,4143.4 L1207.6,4142.8 L1209.6,4142.3 L1211.6,4142.1 L1213.6,4141.9 L1215.6,4141.6 L1217.6,4141.3 L1219.6,4141.2 L1221.6,4141.2 L1223.6,4140.8 L1225.6,4140.8 L1227.6,4141.3 L1229.6,4142.0 L1231.6,4142.9 L1233.6,4143.5 L1235.6,4143.5 L1237.6,4143.6 L1239.6,4144.1 L1241.6,4145.1 L1243.6,4145.5 L1245.6,4145.4 L1247.6,4145.0 L1249.6,4144.9 L1251.6,4145.6 L1253.6,4146.4 L1255.6,4146.6 L1257.6,4146.7 L1259.6,4147.2 L1261.6,4147.4 L1263.6,4147.1 L1265.6,4147.0 L1267.6,4147.2 L1269.6,4147.5 L1271.6,4147.7 L1273.6,4147.5 L1275.6,4147.5 L1277.6,4148.1 L1279.6,4148.5 L1281.6,4148.4 L1283.6,4148.3 L1285.6,4148.4 L1287.6,4148.6 L1289.6,4148.7 L1291.6,4149.1 L1293.6,4149.8 L1295.6,4150.1 L1297.6,4150.0 L1299.6,4150.0 L1301.6,4150.1 L1303.6,4150.5 L1305.6,4150.8 L1307.6,4150.7 L1309.6,4151.0 L1311.6,4151.7 L1313.6,4151.6 L1315.6,4151.5 L1317.6,4152.0 L1319.6,4152.2 L1321.6,4152.0 L1323.6,4151.9 L1325.6,4152.0 L1327.6,4152.2 L1329.6,4152.6 L1331.6,4152.4 L1333.6,4152.3 L1335.6,4152.7 L1337.6,4153.5 L1339.6,4154.0 L1341.6,4154.1 L1343.6,4154.1 L1345.6,4153.7 L1347.6,4153.3 L1349.6,4153.5 L1351.6,4153.9 L1353.6,4154.2 L1355.6,4154.4 L1357.6,4154.5 L1359.6,4154.4 L1361.6,4154.5 L1363.6,4155.1 L1365.6,4155.6 L1367.6,4156.1 L1369.6,4156.3 L1371.6,4156.2 L1373.6,4155.9 L1375.6,4155.9 L1377.6,4156.2 L1379.6,4156.5 L1381.6,4156.1 L1383.6,4156.2 L1385.6,4156.8 L1387.6,4157.0 L1389.6,4157.0 L1391.6,4157.1 L1393.6,4157.1 L1395.6,4157.0 L1397.6,4157.4 L1399.6,4157.8 L1401.6,4158.1 L1403.6,4158.7 L1405.6,4158.5 L1407.6,4157.8 L1409.6,4158.2 L1411.6,4159.1 L1413.6,4159.2 L1415.6,4158.8 L1417.6,4159.1 L1419.6,4159.5 L1421.6,4159.7 L1423.6,4159.9 L1425.6,4159.7 L1427.6,4159.7 L1429.6,4160.1 L1431.6,4160.2 L1433.6,4160.3 L1435.6,4160.4 L1437.6,4160.8 L1439.6,4161.4 L1441.6,4161.5 L1443.6,4161.5 L1445.6,4161.1 L1447.6,4161.2 L1449.6,4161.9 L1451.6,4162.4 L1453.6,4162.9 L1455.6,4163.3 L1457.6,4162.7 L1459.6,4162.5 L1461.6,4163.2 L1463.6,4163.6 L1465.6,4163.7 L1467.6,4163.8 L1469.6,4163.9 L1471.6,4164.2 L1473.6,4164.8 L1475.6,4164.7 L1477.6,4164.4 L1479.6,4164.8 L1481.6,4165.2 L1483.6,4165.1 L1485.6,4165.2 L1487.6,4165.5 L1489.6,4165.6 L1491.6,4166.0 L1493.6,4166.3 L1495.6,4166.7 L1497.6,4167.1 L1499.6,4167.0 L1501.6,4166.7 L1503.6,4166.7 L1505.6,4166.9 L1507.6,4167.2 L1509.6,4167.5 L1511.6,4167.6 L1513.6,4167.9 L1515.6,4168.2 L1517.6,4168.4 L1519.6,4168.6 L1521.6,4169.1 L1523.6,4169.3 L1525.6,4168.8 L1527.6,4169.0 L1529.6,4169.4 L1531.6,4169.2 L1533.6,4169.0 L1535.6,4169.2 L1537.6,4169.9 L1539.6,4170.4 L1541.6,4170.5 L1543.6,4170.9 L1545.6,4171.2 L1547.6,4171.4 L1549.6,4171.5 L1551.6,4170.7 L1553.6,4170.3 L1555.6,4171.1 L1557.6,4171.3 L1559.6,4171.0 L1561.6,4171.4 L1563.6,4171.8 L1565.6,4172.0 L1567.6,4172.2 L1569.6,4172.1 L1571.6,4171.6 L1573.6,4171.0 L1575.6,4171.1 L1577.6,4171.9 L1579.6,4172.0 L1581.6,4172.0 L1583.6,4171.7 L1585.6,4171.6 L1587.6,4172.1 L1589.6,4172.6 L1591.6,4172.4 L1593.6,4172.0 L1595.6,4172.1 L1597.6,4172.4 L1599.6,4172.6 L1601.6,4172.6 L1603.6,4172.3 L1605.6,4172.5 L1607.6,4173.1 L1609.6,4173.2 L1611.6,4173.1 L1613.6,4172.9 L1615.6,4172.9 L1617.6,4173.9 L1619.6,4174.7 L1621.6,4174.4 L1623.6,4174.0 L1625.6,4174.1 L1627.6,4174.4 L1629.6,4174.3 L1631.6,4174.3 L1633.6,4174.8 L1635.6,4175.3 L1637.6,4175.5 L1639.6,4175.3 L1641.6,4175.4 L1643.6,4176.0 L1645.6,4176.4 L1647.6,4176.7 L1649.6,4177.3 L1651.6,4177.6 L1653.6,4177.8 L1655.6,4178.1 L1657.6,4177.9 L1659.6,4177.9 L1661.6,4178.5 L1663.6,4179.0 L1665.6,4179.1 L1667.6,4179.4 L1669.6,4179.8 L1671.6,4179.6 L1673.6,4179.1 L1675.6,4179.2 L1677.6,4179.4 L1679.6,4179.1 L1681.6,4178.4 L1683.6,4177.9 L1685.6,4177.5 L1687.6,4176.8 L1689.6,4176.6 L1691.6,4176.9 L1693.6,4176.8 L1695.6,4176.4 L1697.6,4176.7 L1699.6,4177.6 L1701.6,4178.0 L1703.6,4177.8 L1705.6,4178.0 L1707.6,4178.6 L1709.6,4179.1 L1711.6,4179.3 L1713.6,4179.2 L1715.6,4179.2 L1717.6,4179.7 L1719.6,4180.6 L1721.6,4180.9 L1723.6,4180.8 L1725.6,4181.1 L1727.6,4181.3 L1729.6,4181.1 L1731.6,4181.2 L1733.6,4181.5 L1735.6,4181.6 L1737.6,4182.0 L1739.6,4182.6 L1741.6,4182.5 L1743.6,4182.4 L1745.6,4182.6 L1747.6,4182.4 L1749.6,4182.6 L1751.6,4183.3 L1753.6,4183.7 L1755.6,4183.8 L1757.6,4183.8 L1759.6,4183.9 L1761.6,4184.2 L1763.6,4184.4 L1765.6,4184.5 L1767.6,4184.8 L1769.6,4185.2 L1771.6,4185.4 L1773.6,4185.7 L1775.6,4186.3 L1777.6,4186.5 L1779.6,4186.2 L1781.6,4186.0 L1783.6,4186.2 L1785.6,4186.3 L1787.6,4186.4 L1789.0,4186.7" fill="none" stroke="#515151" stroke-width="10.2" stroke-linejoin="round" stroke-linecap="butt"/>
<path d="M317.6,3666.2 L319.6,3660.1 L321.6,3654.3 L323.6,3649.5 L325.6,3645.0 L327.6,3640.4 L329.6,3635.6 L331.6,3631.1 L333.6,3627.7 L335.6,3624.5 L337.6,3620.7 L339.6,3616.9 L341.6,3613.7 L343.6,3610.7 L345.6,3607.3 L347.6,3603.9 L349.6,3600.8 L351.6,3598.0 L353.6,3595.0 L355.6,3591.9 L357.6,3589.3 L359.6,3586.9 L361.6,3584.4 L363.6,3581.9 L365.6,3579.8 L367.6,3578.0 L369.6,3575.7 L371.6,3573.3 L373.6,3571.4 L375.6,3569.4 L377.6,3567.6 L379.6,3566.4 L381.6,3565.2 L383.6,3563.7 L385.6,3562.0 L387.6,3560.1 L389.6,3557.9 L391.6,3556.3 L393.6,3555.2 L395.6,3554.1 L397.6,3552.9 L399.6,3551.3 L401.6,3549.7 L403.6,3548.6 L405.6,3547.6 L407.6,3546.5 L409.6,3545.3 L411.6,3544.0 L413.6,3542.7 L415.6,3541.6 L417.6,3540.8 L419.6,3539.9 L421.6,3538.6 L423.6,3537.7 L425.6,3537.2 L427.6,3536.5 L429.6,3535.3 L431.6,3534.4 L433.6,3533.8 L435.6,3532.9 L437.6,3532.3 L439.6,3531.6 L441.6,3530.6 L443.6,3529.9 L445.6,3529.2 L447.6,3528.2 L449.6,3527.5 L451.6,3526.9 L453.6,3526.1 L455.6,3525.0 L457.6,3524.0 L459.6,3523.5 L461.6,3522.6 L463.6,3521.9 L465.6,3521.1 L467.6,3520.0 L469.6,3519.1 L471.6,3518.1 L473.6,3517.3 L475.6,3516.7 L477.6,3515.7 L479.6,3515.1 L481.6,3515.2 L483.6,3514.9 L485.6,3514.3 L487.6,3513.9 L489.6,3513.7 L491.6,3513.1 L493.6,3512.2 L495.6,3512.2 L497.6,3512.6 L499.6,3512.2 L501.6,3511.4 L503.6,3511.3 L505.6,3511.4 L507.6,3511.6 L509.6,3511.7 L511.6,3511.5 L513.6,3511.3 L515.6,3510.8 L517.6,3510.4 L519.6,3510.0 L521.6,3509.4 L523.6,3508.8 L525.6,3508.8 L527.6,3508.6 L529.6,3508.3 L531.6,3508.5 L533.6,3508.6 L535.6,3508.4 L537.6,3508.3 L539.6,3508.1 L541.6,3508.0 L543.6,3507.9 L545.6,3507.8 L547.6,3507.5 L549.6,3507.5 L551.6,3507.6 L553.6,3507.7 L555.6,3507.8 L557.6,3508.1 L559.6,3508.6 L561.6,3508.9 L563.6,3509.8 L565.6,3511.0 L567.6,3511.7 L569.6,3512.2 L571.6,3513.1 L573.6,3514.2 L575.6,3514.9 L577.6,3515.3 L579.6,3516.2 L581.6,3517.2 L583.6,3517.8 L585.6,3518.6 L587.6,3519.6 L589.6,3520.5 L591.6,3521.3 L593.6,3522.2 L595.6,3523.2 L597.6,3524.0 L599.6,3524.8 L601.6,3525.5 L603.6,3526.2 L605.6,3526.5 L607.6,3527.1 L609.6,3527.8 L611.6,3528.4 L613.6,3529.2 L615.6,3529.6 L617.6,3530.1 L619.6,3530.5 L621.6,3531.0 L623.6,3531.9 L625.6,3532.4 L627.6,3532.9 L629.6,3534.0 L631.6,3534.9 L633.6,3535.2 L635.6,3535.8 L637.6,3536.3 L639.6,3536.6 L641.6,3537.0 L643.6,3537.5 L645.6,3538.1 L647.6,3538.9 L649.6,3539.5 L651.6,3539.8 L653.6,3540.3 L655.6,3540.9 L657.6,3541.4 L659.6,3541.6 L661.6,3542.1 L663.6,3542.7 L665.6,3543.1 L667.6,3544.1 L669.6,3546.3 L671.6,3547.4 L673.6,3548.5 L675.6,3549.3 L677.6,3549.7 L679.6,3549.8 L681.6,3549.9 L683.6,3550.4 L685.6,3551.3 L687.6,3552.0 L689.6,3552.7 L691.6,3553.6 L693.6,3554.5 L695.6,3555.0 L697.6,3555.7 L699.6,3556.5 L701.6,3557.0 L703.6,3557.7 L705.6,3558.4 L707.6,3559.3 L709.6,3560.6 L711.6,3561.9 L713.6,3562.7 L715.6,3563.5 L717.6,3564.8 L719.6,3566.5 L721.6,3568.0 L723.6,3569.8 L725.6,3572.7 L727.6,3576.4 L729.6,3580.4 L731.6,3584.1 L733.6,3588.2 L735.6,3592.3 L737.6,3595.7 L739.6,3599.1 L741.6,3602.7 L743.6,3605.5 L745.6,3608.2 L747.6,3611.6 L749.6,3614.8 L751.6,3617.9 L753.6,3621.7 L755.6,3625.5 L757.6,3628.9 L759.6,3632.7 L761.6,3637.1 L763.6,3641.4 L765.6,3647.1 L767.6,3653.8 L769.6,3660.5 L771.6,3666.5 L773.6,3671.9 L775.6,3677.1 L777.6,3682.1 L779.6,3687.4 L781.6,3692.8 L783.6,3697.7 L785.6,3702.2 L787.6,3707.2 L789.6,3712.6 L791.6,3718.0 L793.6,3723.7 L795.6,3729.9 L797.6,3736.5 L799.6,3742.7 L801.6,3748.9 L803.6,3755.7 L805.6,3762.8 L807.6,3769.9 L809.6,3776.9 L811.6,3783.7 L813.6,3790.9 L815.6,3798.8 L817.6,3806.9 L819.6,3814.5 L821.6,3821.5 L823.6,3828.4 L825.6,3836.8 L827.6,3848.8 L829.6,3862.3 L831.6,3870.2 L833.6,3875.9 L835.6,3881.4 L837.6,3887.9 L839.6,3896.2 L841.6,3906.4 L843.6,3916.7 L845.6,3926.1 L847.6,3934.6 L849.6,3942.2 L851.6,3949.9 L853.6,3957.2 L855.6,3963.9 L857.6,3970.5 L859.6,3977.0 L861.6,3983.9 L863.6,3990.1 L865.6,3995.4 L867.6,4000.8 L869.6,4006.6 L871.6,4012.7 L873.6,4018.8 L875.6,4024.7 L877.6,4030.4 L879.6,4036.2 L881.6,4041.7 L883.6,4046.5 L885.6,4051.8 L887.6,4057.1 L889.6,4062.0 L891.6,4067.1 L893.6,4071.4 L895.6,4074.9 L897.6,4078.9 L899.6,4082.9 L901.6,4086.1 L903.6,4089.0 L905.6,4092.6 L907.6,4096.0 L909.6,4098.6 L911.6,4101.2 L913.6,4104.1 L915.6,4106.6 L917.6,4108.8 L919.6,4111.4 L921.6,4114.1 L923.6,4116.6 L925.6,4118.8 L927.6,4120.7 L929.6,4122.3 L931.6,4123.6 L933.6,4124.9 L935.6,4126.5 L937.6,4128.2 L939.6,4129.8 L941.6,4131.0 L943.6,4131.9 L945.6,4133.0 L947.6,4134.4 L949.6,4135.6 L951.6,4136.5 L953.6,4137.1 L955.6,4138.4 L957.6,4139.4 L959.6,4139.4 L961.6,4139.9 L963.6,4140.8 L965.6,4141.6 L967.6,4142.3 L969.6,4142.7 L971.6,4143.4 L973.6,4144.4 L975.6,4145.2 L977.6,4145.6 L979.6,4146.1 L981.6,4146.8 L983.6,4147.4 L985.6,4148.1 L987.6,4148.5 L989.6,4148.7 L991.6,4149.2 L993.6,4149.7 L995.6,4150.1 L997.6,4150.9 L999.6,4151.6 L1001.6,4151.7 L1003.6,4152.0 L1005.6,4152.4 L1007.6,4152.7 L1009.6,4153.1 L1011.6,4153.6 L1013.6,4154.0 L1015.6,4154.3 L1017.6,4154.1 L1019.6,4153.9 L1021.6,4154.4 L1023.6,4155.2 L1025.6,4155.6 L1027.6,4156.1 L1029.6,4156.7 L1031.6,4157.3 L1033.6,4157.3 L1035.6,4157.0 L1037.6,4157.1 L1039.6,4157.5 L1041.6,4158.3 L1043.6,4158.9 L1045.6,4159.1 L1047.6,4159.0 L1049.6,4159.0 L1051.6,4159.7 L1053.6,4160.0 L1055.6,4159.7 L1057.6,4160.0 L1059.6,4160.3 L1061.6,4160.2 L1063.6,4160.5 L1065.6,4160.9 L1067.6,4161.1 L1069.6,4161.4 L1071.6,4161.9 L1073.6,4162.2 L1075.6,4162.4 L1077.6,4162.7 L1079.6,4163.5 L1081.6,4163.6 L1083.6,4162.8 L1085.6,4163.1 L1087.6,4163.9 L1089.6,4164.1 L1091.6,4164.3 L1093.6,4164.5 L1095.6,4164.5 L1097.6,4164.5 L1099.6,4164.4 L1101.6,4164.2 L1103.6,4164.6 L1105.6,4165.4 L1107.6,4165.6 L1109.6,4165.7 L1111.6,4165.9 L1113.6,4165.6 L1115.6,4166.0 L1117.6,4166.6 L1119.6,4166.6 L1121.6,4167.0 L1123.6,4167.4 L1125.6,4167.3 L1127.6,4167.3 L1129.6,4167.5 L1131.6,4167.7 L1133.6,4167.7 L1135.6,4168.0 L1137.6,4168.4 L1139.6,4168.3 L1141.6,4168.2 L1143.6,4168.3 L1145.6,4168.8 L1147.6,4169.2 L1149.6,4169.1 L1151.6,4168.6 L1153.6,4168.1 L1155.6,4168.2 L1157.6,4168.7 L1159.6,4169.1 L1161.6,4169.3 L1163.6,4169.5 L1165.6,4169.8 L1167.6,4170.0 L1169.6,4170.2 L1171.6,4170.1 L1173.6,4169.9 L1175.6,4170.4 L1177.6,4171.4 L1179.6,4171.7 L1181.6,4171.4 L1183.6,4171.7 L1185.6,4172.0 L1187.6,4172.3 L1189.6,4172.7 L1191.6,4172.5 L1193.6,4172.2 L1195.6,4172.2 L1197.6,4172.3 L1199.6,4172.7 L1201.6,4172.8 L1203.6,4172.9 L1205.6,4173.1 L1207.6,4172.6 L1209.6,4172.2 L1211.6,4172.4 L1213.6,4172.1 L1215.6,4171.4 L1217.6,4170.9 L1219.6,4170.5 L1221.6,4170.6 L1223.6,4170.9 L1225.6,4171.2 L1227.6,4171.4 L1229.6,4172.0 L1231.6,4172.7 L1233.6,4173.4 L1235.6,4174.3 L1237.6,4175.3 L1239.6,4175.6 L1241.6,4175.4 L1243.6,4175.6 L1245.6,4175.9 L1247.6,4176.3 L1249.6,4176.8 L1251.6,4177.2 L1253.6,4177.1 L1255.6,4177.1 L1257.6,4177.7 L1259.6,4178.4 L1261.6,4178.4 L1263.6,4178.2 L1265.6,4178.7 L1267.6,4178.8 L1269.6,4178.7 L1271.6,4179.4 L1273.6,4180.0 L1275.6,4179.7 L1277.6,4179.8 L1279.6,4180.4 L1281.6,4180.6 L1283.6,4180.7 L1285.6,4180.8 L1287.6,4180.6 L1289.6,4180.9 L1291.6,4181.1 L1293.6,4181.1 L1295.6,4182.0 L1297.6,4182.9 L1299.6,4183.0 L1301.6,4182.7 L1303.6,4182.6 L1305.6,4182.7 L1307.6,4182.9 L1309.6,4183.0 L1311.6,4183.3 L1313.6,4183.8 L1315.6,4184.1 L1317.6,4184.4 L1319.6,4184.5 L1321.6,4184.6 L1323.6,4185.0 L1325.6,4185.2 L1327.6,4185.0 L1329.6,4185.3 L1331.6,4185.6 L1333.6,4185.8 L1335.6,4186.2 L1337.6,4186.6 L1339.6,4186.7 L1341.6,4186.3 L1343.6,4186.0 L1345.6,4186.2 L1347.6,4187.0 L1349.6,4187.1 L1351.6,4186.8 L1353.6,4187.3 L1355.6,4187.9 L1357.6,4187.9 L1359.6,4187.9 L1361.6,4188.2 L1363.6,4188.5 L1365.6,4188.7 L1367.6,4188.8 L1369.6,4189.2 L1371.6,4189.8 L1373.6,4190.3 L1375.6,4190.8 L1377.6,4190.9 L1379.6,4190.8 L1381.6,4191.1 L1383.6,4191.6 L1385.6,4191.7 L1387.6,4191.7 L1389.6,4191.9 L1391.6,4192.2 L1393.6,4192.7 L1395.6,4193.1 L1397.6,4192.9 L1399.6,4192.9 L1401.6,4193.2 L1403.6,4193.5 L1405.6,4193.7 L1407.6,4194.0 L1409.6,4193.9 L1411.6,4193.8 L1413.6,4194.0 L1415.6,4194.3 L1417.6,4194.4 L1419.6,4194.3 L1421.6,4194.3 L1423.6,4194.7 L1425.6,4195.0 L1427.6,4194.8 L1429.6,4194.2 L1431.6,4194.5 L1433.6,4195.1 L1435.6,4195.0 L1437.6,4194.6 L1439.6,4194.6 L1441.6,4194.8 L1443.6,4194.8 L1445.6,4195.1 L1447.6,4195.4 L1449.6,4195.8 L1451.6,4196.1 L1453.6,4195.8 L1455.6,4195.3 L1457.6,4195.0 L1459.6,4195.7 L1461.6,4196.3 L1463.6,4196.1 L1465.6,4196.0 L1467.6,4196.4 L1469.6,4196.5 L1471.6,4196.5 L1473.6,4196.8 L1475.6,4197.3 L1477.6,4197.5 L1479.6,4197.1 L1481.6,4197.5 L1483.6,4198.1 L1485.6,4198.3 L1487.6,4198.6 L1489.6,4198.9 L1491.6,4199.4 L1493.6,4199.8 L1495.6,4199.4 L1497.6,4199.3 L1499.6,4199.7 L1501.6,4200.1 L1503.6,4200.7 L1505.6,4201.0 L1507.6,4200.9 L1509.6,4200.9 L1511.6,4200.9 L1513.6,4200.9 L1515.6,4201.4 L1517.6,4201.6 L1519.6,4201.5 L1521.6,4201.8 L1523.6,4202.0 L1525.6,4202.3 L1527.6,4202.7 L1529.6,4203.0 L1531.6,4203.1 L1533.6,4203.2 L1535.6,4203.4 L1537.6,4203.8 L1539.6,4204.4 L1541.6,4204.2 L1543.6,4203.7 L1545.6,4203.9 L1547.6,4204.0 L1549.6,4204.2 L1551.6,4204.8 L1553.6,4204.7 L1555.6,4204.2 L1557.6,4204.2 L1559.6,4204.4 L1561.6,4204.4 L1563.6,4204.3 L1565.6,4204.4 L1567.6,4204.3 L1569.6,4204.3 L1571.6,4204.3 L1573.6,4204.5 L1575.6,4204.7 L1577.6,4204.7 L1579.6,4204.9 L1581.6,4204.9 L1583.6,4204.7 L1585.6,4204.9 L1587.6,4205.1 L1589.6,4204.9 L1591.6,4205.0 L1593.6,4205.2 L1595.6,4204.9 L1597.6,4204.6 L1599.6,4204.7 L1601.6,4205.5 L1603.6,4206.0 L1605.6,4205.7 L1607.6,4205.5 L1609.6,4205.8 L1611.6,4205.9 L1613.6,4205.6 L1615.6,4205.6 L1617.6,4205.6 L1619.6,4205.7 L1621.6,4206.5 L1623.6,4206.9 L1625.6,4206.8 L1627.6,4206.5 L1629.6,4206.5 L1631.6,4206.7 L1633.6,4206.9 L1635.6,4207.3 L1637.6,4207.7 L1639.6,4207.9 L1641.6,4208.2 L1643.6,4208.2 L1645.6,4208.1 L1647.6,4208.8 L1649.6,4209.3 L1651.6,4209.2 L1653.6,4209.6 L1655.6,4209.8 L1657.6,4209.7 L1659.6,4210.4 L1661.6,4210.8 L1663.6,4210.8 L1665.6,4211.0 L1667.6,4211.7 L1669.6,4212.1 L1671.6,4211.7 L1673.6,4211.2 L1675.6,4210.9 L1677.6,4210.5 L1679.6,4210.0 L1681.6,4209.8 L1683.6,4210.1 L1685.6,4209.8 L1687.6,4208.9 L1689.6,4208.3 L1691.6,4208.2 L1693.6,4208.3 L1695.6,4208.6 L1697.6,4208.4 L1699.6,4208.1 L1701.6,4208.2 L1703.6,4208.6 L1705.6,4208.6 L1707.6,4208.7 L1709.6,4209.2 L1711.6,4209.9 L1713.6,4209.7 L1715.6,4209.2 L1717.6,4209.3 L1719.6,4209.9 L1721.6,4210.3 L1723.6,4209.9 L1725.6,4210.5 L1727.6,4211.8 L1729.6,4212.1 L1731.6,4212.2 L1733.6,4212.6 L1735.6,4212.8 L1737.6,4212.8 L1739.6,4213.2 L1741.6,4214.2 L1743.6,4215.6 L1745.6,4216.6 L1747.6,4217.5 L1749.6,4218.7 L1751.6,4219.9 L1753.6,4221.0 L1755.6,4222.2 L1757.6,4223.1 L1759.6,4223.8 L1761.6,4224.6 L1763.6,4225.7 L1765.6,4226.6 L1767.6,4227.1 L1769.6,4227.8 L1771.6,4228.7 L1773.6,4229.2 L1775.6,4229.7 L1777.6,4230.8 L1779.6,4232.1 L1781.6,4232.7 L1783.6,4233.0 L1785.6,4233.4 L1787.6,4233.5 L1789.0,4233.8" fill="none" stroke="#f14040" stroke-width="10.2" stroke-linejoin="round" stroke-linecap="butt"/>
<path d="M317.6,3653.7 L319.6,3647.5 L321.6,3642.3 L323.6,3637.0 L325.6,3631.4 L327.6,3627.1 L329.6,3623.4 L331.6,3619.4 L333.6,3615.3 L335.6,3611.3 L337.6,3607.4 L339.6,3603.9 L341.6,3600.4 L343.6,3597.0 L345.6,3594.3 L347.6,3591.4 L349.6,3588.1 L351.6,3585.1 L353.6,3581.8 L355.6,3578.8 L357.6,3576.1 L359.6,3573.6 L361.6,3571.4 L363.6,3568.9 L365.6,3566.9 L367.6,3564.9 L369.6,3562.0 L371.6,3559.4 L373.6,3557.7 L375.6,3555.9 L377.6,3553.7 L379.6,3552.0 L381.6,3550.8 L383.6,3549.3 L385.6,3547.1 L387.6,3545.5 L389.6,3544.3 L391.6,3543.0 L393.6,3541.5 L395.6,3539.7 L397.6,3538.0 L399.6,3536.7 L401.6,3535.3 L403.6,3533.7 L405.6,3532.3 L407.6,3531.1 L409.6,3530.4 L411.6,3529.5 L413.6,3527.9 L415.6,3526.2 L417.6,3525.4 L419.6,3525.1 L421.6,3523.9 L423.6,3522.3 L425.6,3521.5 L427.6,3521.1 L429.6,3520.5 L431.6,3519.3 L433.6,3518.2 L435.6,3517.6 L437.6,3517.0 L439.6,3516.1 L441.6,3515.1 L443.6,3514.0 L445.6,3513.1 L447.6,3512.7 L449.6,3511.8 L451.6,3510.9 L453.6,3510.4 L455.6,3509.7 L457.6,3508.7 L459.6,3507.4 L461.6,3506.1 L463.6,3505.1 L465.6,3504.3 L467.6,3503.3 L469.6,3502.2 L471.6,3501.4 L473.6,3500.4 L475.6,3499.4 L477.6,3499.1 L479.6,3498.9 L481.6,3498.5 L483.6,3497.4 L485.6,3496.5 L487.6,3496.4 L489.6,3496.1 L491.6,3495.5 L493.6,3495.6 L495.6,3495.4 L497.6,3494.6 L499.6,3494.2 L501.6,3493.9 L503.6,3493.5 L505.6,3493.2 L507.6,3493.1 L509.6,3493.2 L511.6,3492.8 L513.6,3492.2 L515.6,3492.2 L517.6,3492.3 L519.6,3491.8 L521.6,3490.9 L523.6,3490.5 L525.6,3490.2 L527.6,3489.0 L529.6,3488.5 L531.6,3489.0 L533.6,3488.8 L535.6,3488.0 L537.6,3487.6 L539.6,3487.4 L541.6,3487.3 L543.6,3487.7 L545.6,3488.0 L547.6,3487.7 L549.6,3487.4 L551.6,3487.2 L553.6,3486.9 L555.6,3486.9 L557.6,3487.0 L559.6,3487.0 L561.6,3487.2 L563.6,3487.5 L565.6,3487.6 L567.6,3487.6 L569.6,3487.7 L571.6,3488.1 L573.6,3488.5 L575.6,3488.4 L577.6,3488.3 L579.6,3488.8 L581.6,3489.5 L583.6,3489.5 L585.6,3489.1 L587.6,3489.4 L589.6,3490.0 L591.6,3490.4 L593.6,3491.1 L595.6,3491.9 L597.6,3492.4 L599.6,3493.5 L601.6,3494.6 L603.6,3495.1 L605.6,3495.7 L607.6,3496.9 L609.6,3498.1 L611.6,3498.7 L613.6,3499.8 L615.6,3501.1 L617.6,3501.6 L619.6,3501.9 L621.6,3502.2 L623.6,3502.9 L625.6,3504.3 L627.6,3505.5 L629.6,3506.5 L631.6,3507.4 L633.6,3508.1 L635.6,3509.0 L637.6,3510.0 L639.6,3511.0 L641.6,3511.5 L643.6,3512.2 L645.6,3513.5 L647.6,3514.7 L649.6,3515.9 L651.6,3516.9 L653.6,3517.6 L655.6,3518.7 L657.6,3519.7 L659.6,3520.7 L661.6,3522.3 L663.6,3523.9 L665.6,3524.6 L667.6,3525.5 L669.6,3526.5 L671.6,3527.2 L673.6,3528.4 L675.6,3529.9 L677.6,3531.0 L679.6,3531.9 L681.6,3532.9 L683.6,3534.7 L685.6,3536.5 L687.6,3538.0 L689.6,3539.3 L691.6,3540.7 L693.6,3541.7 L695.6,3543.4 L697.6,3545.5 L699.6,3547.4 L701.6,3549.4 L703.6,3550.9 L705.6,3552.4 L707.6,3554.4 L709.6,3556.0 L711.6,3557.4 L713.6,3559.2 L715.6,3561.5 L717.6,3564.0 L719.6,3566.7 L721.6,3569.2 L723.6,3571.6 L725.6,3574.1 L727.6,3576.7 L729.6,3579.9 L731.6,3583.6 L733.6,3586.8 L735.6,3589.5 L737.6,3592.8 L739.6,3596.9 L741.6,3600.8 L743.6,3604.8 L745.6,3609.7 L747.6,3615.4 L749.6,3621.7 L751.6,3628.4 L753.6,3635.2 L755.6,3641.5 L757.6,3647.9 L759.6,3654.1 L761.6,3659.6 L763.6,3665.1 L765.6,3670.9 L767.6,3676.6 L769.6,3682.1 L771.6,3687.7 L773.6,3693.1 L775.6,3698.1 L777.6,3702.5 L779.6,3707.2 L781.6,3712.7 L783.6,3718.5 L785.6,3724.8 L787.6,3731.4 L789.6,3737.7 L791.6,3744.2 L793.6,3751.3 L795.6,3758.2 L797.6,3765.1 L799.6,3772.3 L801.6,3779.6 L803.6,3786.8 L805.6,3794.3 L807.6,3802.0 L809.6,3809.6 L811.6,3817.2 L813.6,3824.4 L815.6,3831.8 L817.6,3840.6 L819.6,3852.7 L821.6,3863.8 L823.6,3870.5 L825.6,3875.7 L827.6,3881.1 L829.6,3887.0 L831.6,3894.5 L833.6,3904.6 L835.6,3914.9 L837.6,3924.1 L839.6,3933.3 L841.6,3942.8 L843.6,3952.1 L845.6,3961.0 L847.6,3970.0 L849.6,3978.6 L851.6,3987.2 L853.6,3996.1 L855.6,4005.2 L857.6,4013.5 L859.6,4020.6 L861.6,4026.9 L863.6,4032.4 L865.6,4037.5 L867.6,4042.4 L869.6,4047.2 L871.6,4052.9 L873.6,4059.2 L875.6,4065.0 L877.6,4071.0 L879.6,4077.6 L881.6,4084.4 L883.6,4091.3 L885.6,4098.1 L887.6,4104.7 L889.6,4110.7 L891.6,4116.2 L893.6,4121.7 L895.6,4126.9 L897.6,4131.4 L899.6,4135.9 L901.6,4140.5 L903.6,4144.4 L905.6,4147.8 L907.6,4151.5 L909.6,4155.2 L911.6,4158.5 L913.6,4161.7 L915.6,4164.6 L917.6,4167.8 L919.6,4171.2 L921.6,4174.1 L923.6,4176.7 L925.6,4179.6 L927.6,4182.6 L929.6,4185.0 L931.6,4187.5 L933.6,4189.8 L935.6,4191.2 L937.6,4193.2 L939.6,4195.4 L941.6,4197.1 L943.6,4198.9 L945.6,4200.7 L947.6,4202.1 L949.6,4203.6 L951.6,4205.3 L953.6,4206.7 L955.6,4207.6 L957.6,4208.6 L959.6,4209.8 L961.6,4211.0 L963.6,4212.2 L965.6,4213.2 L967.6,4213.9 L969.6,4214.5 L971.6,4215.4 L973.6,4216.3 L975.6,4217.0 L977.6,4217.8 L979.6,4218.8 L981.6,4219.7 L983.6,4220.4 L985.6,4221.5 L987.6,4222.3 L989.6,4222.3 L991.6,4222.4 L993.6,4223.1 L995.6,4223.9 L997.6,4224.7 L999.6,4225.3 L1001.6,4225.9 L1003.6,4226.4 L1005.6,4226.6 L1007.6,4226.6 L1009.6,4226.9 L1011.6,4227.3 L1013.6,4227.4 L1015.6,4227.6 L1017.6,4227.9 L1019.6,4228.5 L1021.6,4229.1 L1023.6,4229.4 L1025.6,4230.1 L1027.6,4230.9 L1029.6,4230.8 L1031.6,4230.9 L1033.6,4231.4 L1035.6,4231.6 L1037.6,4231.6 L1039.6,4232.1 L1041.6,4232.4 L1043.6,4232.2 L1045.6,4232.9 L1047.6,4233.6 L1049.6,4233.9 L1051.6,4234.3 L1053.6,4234.6 L1055.6,4234.8 L1057.6,4234.6 L1059.6,4234.3 L1061.6,4234.2 L1063.6,4234.4 L1065.6,4234.9 L1067.6,4235.4 L1069.6,4235.7 L1071.6,4236.4 L1073.6,4236.5 L1075.6,4236.1 L1077.6,4236.0 L1079.6,4236.1 L1081.6,4236.6 L1083.6,4236.9 L1085.6,4237.2 L1087.6,4237.5 L1089.6,4237.4 L1091.6,4237.7 L1093.6,4238.3 L1095.6,4238.8 L1097.6,4239.2 L1099.6,4239.3 L1101.6,4239.5 L1103.6,4240.0 L1105.6,4239.9 L1107.6,4239.6 L1109.6,4239.5 L1111.6,4239.8 L1113.6,4240.2 L1115.6,4240.5 L1117.6,4240.5 L1119.6,4240.8 L1121.6,4241.0 L1123.6,4241.0 L1125.6,4241.1 L1127.6,4241.6 L1129.6,4242.1 L1131.6,4242.2 L1133.6,4242.3 L1135.6,4242.5 L1137.6,4242.8 L1139.6,4242.9 L1141.6,4242.8 L1143.6,4243.0 L1145.6,4243.6 L1147.6,4244.3 L1149.6,4244.4 L1151.6,4244.0 L1153.6,4243.8 L1155.6,4243.9 L1157.6,4244.0 L1159.6,4243.8 L1161.6,4243.9 L1163.6,4244.6 L1165.6,4245.1 L1167.6,4245.1 L1169.6,4245.1 L1171.6,4245.2 L1173.6,4245.5 L1175.6,4246.2 L1177.6,4246.5 L1179.6,4246.5 L1181.6,4246.4 L1183.6,4246.4 L1185.6,4246.3 L1187.6,4247.0 L1189.6,4247.6 L1191.6,4247.5 L1193.6,4247.6 L1195.6,4248.3 L1197.6,4248.4 L1199.6,4248.0 L1201.6,4248.0 L1203.6,4248.4 L1205.6,4248.6 L1207.6,4248.5 L1209.6,4248.0 L1211.6,4247.4 L1213.6,4246.8 L1215.6,4246.3 L1217.6,4245.7 L1219.6,4245.5 L1221.6,4245.6 L1223.6,4245.5 L1225.6,4246.0 L1227.6,4246.4 L1229.6,4246.7 L1231.6,4247.2 L1233.6,4248.0 L1235.6,4248.8 L1237.6,4249.3 L1239.6,4249.6 L1241.6,4249.9 L1243.6,4249.9 L1245.6,4249.8 L1247.6,4250.2 L1249.6,4250.8 L1251.6,4251.0 L1253.6,4251.4 L1255.6,4251.6 L1257.6,4251.9 L1259.6,4252.3 L1261.6,4252.4 L1263.6,4252.8 L1265.6,4253.0 L1267.6,4252.9 L1269.6,4253.3 L1271.6,4253.9 L1273.6,4254.1 L1275.6,4253.8 L1277.6,4253.5 L1279.6,4254.0 L1281.6,4254.7 L1283.6,4254.7 L1285.6,4254.2 L1287.6,4254.2 L1289.6,4254.9 L1291.6,4255.4 L1293.6,4255.2 L1295.6,4255.2 L1297.6,4255.2 L1299.6,4255.0 L1301.6,4255.3 L1303.6,4255.9 L1305.6,4256.2 L1307.6,4256.6 L1309.6,4256.7 L1311.6,4256.5 L1313.6,4256.8 L1315.6,4257.3 L1317.6,4257.3 L1319.6,4257.3 L1321.6,4257.3 L1323.6,4257.4 L1325.6,4257.4 L1327.6,4257.3 L1329.6,4257.3 L1331.6,4257.6 L1333.6,4257.9 L1335.6,4257.8 L1337.6,4257.6 L1339.6,4258.0 L1341.6,4258.6 L1343.6,4259.1 L1345.6,4259.4 L1347.6,4259.1 L1349.6,4259.1 L1351.6,4259.5 L1353.6,4259.7 L1355.6,4259.7 L1357.6,4259.7 L1359.6,4259.7 L1361.6,4259.6 L1363.6,4259.4 L1365.6,4259.3 L1367.6,4259.8 L1369.6,4260.6 L1371.6,4260.7 L1373.6,4260.7 L1375.6,4261.2 L1377.6,4261.6 L1379.6,4261.3 L1381.6,4261.4 L1383.6,4261.9 L1385.6,4262.0 L1387.6,4261.6 L1389.6,4262.0 L1391.6,4262.9 L1393.6,4262.9 L1395.6,4262.7 L1397.6,4262.7 L1399.6,4262.9 L1401.6,4263.3 L1403.6,4263.2 L1405.6,4263.3 L1407.6,4263.7 L1409.6,4263.5 L1411.6,4263.5 L1413.6,4264.1 L1415.6,4264.4 L1417.6,4264.0 L1419.6,4263.7 L1421.6,4263.7 L1423.6,4264.0 L1425.6,4264.0 L1427.6,4263.4 L1429.6,4263.0 L1431.6,4263.6 L1433.6,4264.1 L1435.6,4263.6 L1437.6,4263.8 L1439.6,4264.4 L1441.6,4264.4 L1443.6,4263.8 L1445.6,4263.6 L1447.6,4263.7 L1449.6,4263.0 L1451.6,4262.7 L1453.6,4263.4 L1455.6,4264.2 L1457.6,4264.5 L1459.6,4263.8 L1461.6,4263.4 L1463.6,4264.0 L1465.6,4264.7 L1467.6,4264.7 L1469.6,4264.6 L1471.6,4265.1 L1473.6,4265.5 L1475.6,4265.3 L1477.6,4264.8 L1479.6,4265.4 L1481.6,4265.9 L1483.6,4265.5 L1485.6,4265.8 L1487.6,4266.5 L1489.6,4266.9 L1491.6,4267.4 L1493.6,4267.8 L1495.6,4267.8 L1497.6,4267.4 L1499.6,4267.2 L1501.6,4267.1 L1503.6,4267.4 L1505.6,4267.7 L1507.6,4267.6 L1509.6,4267.6 L1511.6,4268.0 L1513.6,4268.4 L1515.6,4268.6 L1517.6,4268.6 L1519.6,4268.7 L1521.6,4268.6 L1523.6,4268.7 L1525.6,4269.1 L1527.6,4269.2 L1529.6,4269.5 L1531.6,4269.5 L1533.6,4269.3 L1535.6,4269.6 L1537.6,4269.6 L1539.6,4269.3 L1541.6,4269.6 L1543.6,4270.0 L1545.6,4269.7 L1547.6,4269.7 L1549.6,4269.8 L1551.6,4269.7 L1553.6,4269.6 L1555.6,4269.4 L1557.6,4269.1 L1559.6,4268.8 L1561.6,4269.0 L1563.6,4269.4 L1565.6,4269.7 L1567.6,4269.8 L1569.6,4269.3 L1571.6,4268.8 L1573.6,4268.9 L1575.6,4268.7 L1577.6,4268.4 L1579.6,4268.9 L1581.6,4268.9 L1583.6,4268.2 L1585.6,4267.8 L1587.6,4268.2 L1589.6,4268.6 L1591.6,4268.3 L1593.6,4268.0 L1595.6,4268.2 L1597.6,4268.1 L1599.6,4267.7 L1601.6,4268.0 L1603.6,4268.4 L1605.6,4268.3 L1607.6,4268.4 L1609.6,4268.8 L1611.6,4268.7 L1613.6,4268.4 L1615.6,4268.4 L1617.6,4268.6 L1619.6,4268.6 L1621.6,4268.8 L1623.6,4268.8 L1625.6,4268.5 L1627.6,4268.8 L1629.6,4269.5 L1631.6,4269.3 L1633.6,4268.9 L1635.6,4269.4 L1637.6,4269.9 L1639.6,4269.6 L1641.6,4269.8 L1643.6,4270.3 L1645.6,4269.9 L1647.6,4269.1 L1649.6,4268.9 L1651.6,4269.0 L1653.6,4269.4 L1655.6,4269.9 L1657.6,4270.0 L1659.6,4269.8 L1661.6,4270.0 L1663.6,4270.4 L1665.6,4270.3 L1667.6,4269.8 L1669.6,4269.5 L1671.6,4269.9 L1673.6,4270.3 L1675.6,4270.0 L1677.6,4269.5 L1679.6,4269.1 L1681.6,4268.5 L1683.6,4268.2 L1685.6,4268.4 L1687.6,4268.5 L1689.6,4268.3 L1691.6,4267.9 L1693.6,4267.7 L1695.6,4267.3 L1697.6,4267.0 L1699.6,4267.1 L1701.6,4267.1 L1703.6,4267.3 L1705.6,4268.0 L1707.6,4268.2 L1709.6,4267.3 L1711.6,4266.6 L1713.6,4266.7 L1715.6,4266.7 L1717.6,4266.5 L1719.6,4266.3 L1721.6,4266.4 L1723.6,4266.7 L1725.6,4266.6 L1727.6,4266.5 L1729.6,4266.9 L1731.6,4267.2 L1733.6,4267.3 L1735.6,4267.4 L1737.6,4267.2 L1739.6,4267.4 L1741.6,4267.4 L1743.6,4267.1 L1745.6,4267.3 L1747.6,4267.5 L1749.6,4268.1 L1751.6,4268.3 L1753.6,4267.7 L1755.6,4267.1 L1757.6,4267.1 L1759.6,4267.8 L1761.6,4268.3 L1763.6,4268.1 L1765.6,4267.6 L1767.6,4267.8 L1769.6,4268.5 L1771.6,4268.5 L1773.6,4268.3 L1775.6,4269.1 L1777.6,4269.5 L1779.6,4269.4 L1781.6,4269.5 L1783.6,4269.5 L1785.6,4269.4 L1787.6,4269.5 L1789.0,4269.6" fill="none" stroke="#1a6fdf" stroke-width="10.2" stroke-linejoin="round" stroke-linecap="butt"/>
<path d="M317.6,3657.2 L319.6,3651.3 L321.6,3645.6 L323.6,3640.2 L325.6,3635.3 L327.6,3631.0 L329.6,3626.6 L331.6,3622.2 L333.6,3618.5 L335.6,3615.3 L337.6,3611.6 L339.6,3607.8 L341.6,3604.7 L343.6,3601.4 L345.6,3597.7 L347.6,3594.1 L349.6,3591.0 L351.6,3588.4 L353.6,3585.8 L355.6,3582.6 L357.6,3579.7 L359.6,3577.6 L361.6,3575.5 L363.6,3573.2 L365.6,3570.7 L367.6,3568.4 L369.6,3566.6 L371.6,3564.7 L373.6,3562.2 L375.6,3559.9 L377.6,3558.3 L379.6,3556.6 L381.6,3554.6 L383.6,3552.9 L385.6,3551.4 L387.6,3550.0 L389.6,3548.3 L391.6,3547.1 L393.6,3546.2 L395.6,3544.6 L397.6,3542.4 L399.6,3540.6 L401.6,3539.8 L403.6,3538.7 L405.6,3537.1 L407.6,3536.2 L409.6,3535.5 L411.6,3534.2 L413.6,3532.8 L415.6,3531.9 L417.6,3530.7 L419.6,3529.6 L421.6,3528.8 L423.6,3527.8 L425.6,3526.7 L427.6,3526.0 L429.6,3525.0 L431.6,3523.9 L433.6,3523.6 L435.6,3522.9 L437.6,3521.7 L439.6,3520.8 L441.6,3520.1 L443.6,3519.4 L445.6,3518.5 L447.6,3517.3 L449.6,3516.4 L451.6,3515.8 L453.6,3515.3 L455.6,3514.6 L457.6,3513.7 L459.6,3512.6 L461.6,3511.4 L463.6,3510.6 L465.6,3510.0 L467.6,3508.9 L469.6,3507.6 L471.6,3506.6 L473.6,3505.6 L475.6,3504.4 L477.6,3503.5 L479.6,3502.9 L481.6,3502.6 L483.6,3502.3 L485.6,3502.0 L487.6,3501.8 L489.6,3501.0 L491.6,3500.0 L493.6,3499.8 L495.6,3499.7 L497.6,3499.5 L499.6,3499.5 L501.6,3499.1 L503.6,3498.4 L505.6,3498.5 L507.6,3498.6 L509.6,3498.0 L511.6,3497.5 L513.6,3497.1 L515.6,3496.8 L517.6,3496.4 L519.6,3495.9 L521.6,3495.9 L523.6,3495.9 L525.6,3495.4 L527.6,3495.1 L529.6,3495.2 L531.6,3494.8 L533.6,3493.4 L535.6,3492.6 L537.6,3492.5 L539.6,3492.1 L541.6,3491.7 L543.6,3492.0 L545.6,3492.4 L547.6,3492.4 L549.6,3492.1 L551.6,3492.1 L553.6,3492.2 L555.6,3492.0 L557.6,3492.2 L559.6,3492.3 L561.6,3491.9 L563.6,3492.1 L565.6,3492.5 L567.6,3492.7 L569.6,3492.7 L571.6,3492.5 L573.6,3493.1 L575.6,3493.7 L577.6,3493.8 L579.6,3493.9 L581.6,3494.0 L583.6,3494.0 L585.6,3494.0 L587.6,3494.1 L589.6,3494.7 L591.6,3496.0 L593.6,3496.8 L595.6,3497.0 L597.6,3497.7 L599.6,3499.0 L601.6,3499.8 L603.6,3500.1 L605.6,3500.5 L607.6,3501.4 L609.6,3502.5 L611.6,3503.3 L613.6,3504.0 L615.6,3505.3 L617.6,3506.5 L619.6,3507.1 L621.6,3507.5 L623.6,3508.3 L625.6,3509.5 L627.6,3510.5 L629.6,3510.8 L631.6,3511.3 L633.6,3512.2 L635.6,3513.1 L637.6,3514.4 L639.6,3515.7 L641.6,3516.4 L643.6,3517.2 L645.6,3518.5 L647.6,3519.7 L649.6,3520.5 L651.6,3521.2 L653.6,3521.8 L655.6,3522.5 L657.6,3523.6 L659.6,3524.5 L661.6,3525.2 L663.6,3526.6 L665.6,3528.1 L667.6,3530.1 L669.6,3535.0 L671.6,3538.0 L673.6,3540.5 L675.6,3542.5 L677.6,3544.5 L679.6,3546.8 L681.6,3548.0 L683.6,3548.6 L685.6,3549.8 L687.6,3551.3 L689.6,3553.0 L691.6,3554.6 L693.6,3555.9 L695.6,3557.5 L697.6,3559.4 L699.6,3561.4 L701.6,3563.4 L703.6,3565.7 L705.6,3568.7 L707.6,3571.3 L709.6,3573.7 L711.6,3575.8 L713.6,3578.2 L715.6,3581.2 L717.6,3584.1 L719.6,3586.5 L721.6,3588.8 L723.6,3591.0 L725.6,3593.5 L727.6,3596.6 L729.6,3599.6 L731.6,3602.2 L733.6,3605.0 L735.6,3608.1 L737.6,3611.7 L739.6,3616.9 L741.6,3622.5 L743.6,3628.0 L745.6,3633.4 L747.6,3639.1 L749.6,3645.2 L751.6,3652.0 L753.6,3658.7 L755.6,3665.0 L757.6,3670.8 L759.6,3676.2 L761.6,3681.3 L763.6,3686.3 L765.6,3691.7 L767.6,3696.7 L769.6,3701.6 L771.6,3707.0 L773.6,3712.6 L775.6,3718.3 L777.6,3724.2 L779.6,3730.7 L781.6,3737.3 L783.6,3743.6 L785.6,3750.1 L787.6,3756.9 L789.6,3763.8 L791.6,3770.8 L793.6,3778.2 L795.6,3785.6 L797.6,3792.6 L799.6,3799.6 L801.6,3806.6 L803.6,3813.9 L805.6,3821.3 L807.6,3828.3 L809.6,3835.0 L811.6,3843.0 L813.6,3854.2 L815.6,3863.6 L817.6,3869.9 L819.6,3876.0 L821.6,3881.6 L823.6,3886.5 L825.6,3892.1 L827.6,3899.6 L829.6,3908.7 L831.6,3917.4 L833.6,3925.0 L835.6,3932.5 L837.6,3940.1 L839.6,3947.4 L841.6,3954.1 L843.6,3960.8 L845.6,3967.3 L847.6,3973.8 L849.6,3980.4 L851.6,3986.5 L853.6,3992.9 L855.6,3999.2 L857.6,4004.8 L859.6,4010.1 L861.6,4015.8 L863.6,4022.1 L865.6,4028.5 L867.6,4034.4 L869.6,4040.3 L871.6,4046.5 L873.6,4052.8 L875.6,4058.6 L877.6,4065.1 L879.6,4071.6 L881.6,4077.3 L883.6,4083.3 L885.6,4089.7 L887.6,4095.1 L889.6,4100.4 L891.6,4106.0 L893.6,4111.4 L895.6,4116.3 L897.6,4121.1 L899.6,4126.0 L901.6,4130.3 L903.6,4133.8 L905.6,4137.4 L907.6,4140.6 L909.6,4143.2 L911.6,4145.8 L913.6,4148.8 L915.6,4151.5 L917.6,4153.1 L919.6,4154.8 L921.6,4156.9 L923.6,4158.8 L925.6,4160.3 L927.6,4161.9 L929.6,4163.1 L931.6,4164.7 L933.6,4166.5 L935.6,4167.8 L937.6,4168.6 L939.6,4169.5 L941.6,4170.6 L943.6,4172.1 L945.6,4173.3 L947.6,4173.9 L949.6,4174.5 L951.6,4175.7 L953.6,4176.9 L955.6,4177.9 L957.6,4179.1 L959.6,4180.2 L961.6,4180.8 L963.6,4181.4 L965.6,4182.3 L967.6,4183.4 L969.6,4183.9 L971.6,4184.0 L973.6,4184.9 L975.6,4186.3 L977.6,4186.7 L979.6,4186.6 L981.6,4187.6 L983.6,4188.5 L985.6,4188.9 L987.6,4189.6 L989.6,4190.1 L991.6,4190.5 L993.6,4191.4 L995.6,4191.9 L997.6,4192.2 L999.6,4192.9 L1001.6,4193.9 L1003.6,4194.5 L1005.6,4194.6 L1007.6,4194.6 L1009.6,4194.9 L1011.6,4195.2 L1013.6,4195.7 L1015.6,4196.1 L1017.6,4196.5 L1019.6,4196.9 L1021.6,4197.3 L1023.6,4197.7 L1025.6,4197.9 L1027.6,4197.8 L1029.6,4198.1 L1031.6,4198.8 L1033.6,4199.4 L1035.6,4200.0 L1037.6,4200.0 L1039.6,4200.1 L1041.6,4200.8 L1043.6,4201.4 L1045.6,4201.5 L1047.6,4201.1 L1049.6,4200.9 L1051.6,4200.8 L1053.6,4200.9 L1055.6,4201.5 L1057.6,4202.2 L1059.6,4202.7 L1061.6,4202.8 L1063.6,4202.7 L1065.6,4203.0 L1067.6,4203.4 L1069.6,4203.5 L1071.6,4203.1 L1073.6,4203.2 L1075.6,4203.7 L1077.6,4204.3 L1079.6,4204.5 L1081.6,4204.5 L1083.6,4204.6 L1085.6,4204.5 L1087.6,4204.4 L1089.6,4204.7 L1091.6,4205.3 L1093.6,4205.8 L1095.6,4206.3 L1097.6,4206.6 L1099.6,4206.5 L1101.6,4206.5 L1103.6,4206.8 L1105.6,4207.2 L1107.6,4207.5 L1109.6,4207.8 L1111.6,4207.7 L1113.6,4207.4 L1115.6,4207.5 L1117.6,4207.8 L1119.6,4207.7 L1121.6,4207.8 L1123.6,4207.8 L1125.6,4208.0 L1127.6,4208.7 L1129.6,4208.7 L1131.6,4208.1 L1133.6,4208.2 L1135.6,4208.5 L1137.6,4208.5 L1139.6,4208.3 L1141.6,4208.1 L1143.6,4208.0 L1145.6,4208.1 L1147.6,4208.3 L1149.6,4208.2 L1151.6,4208.1 L1153.6,4208.1 L1155.6,4208.1 L1157.6,4208.5 L1159.6,4208.9 L1161.6,4209.0 L1163.6,4209.2 L1165.6,4209.0 L1167.6,4208.7 L1169.6,4208.9 L1171.6,4209.2 L1173.6,4209.2 L1175.6,4209.4 L1177.6,4210.0 L1179.6,4210.2 L1181.6,4210.0 L1183.6,4210.1 L1185.6,4210.3 L1187.6,4210.3 L1189.6,4210.4 L1191.6,4210.8 L1193.6,4211.1 L1195.6,4210.6 L1197.6,4210.6 L1199.6,4211.1 L1201.6,4210.8 L1203.6,4210.7 L1205.6,4211.0 L1207.6,4210.7 L1209.6,4209.9 L1211.6,4209.1 L1213.6,4209.0 L1215.6,4208.7 L1217.6,4207.7 L1219.6,4207.1 L1221.6,4207.2 L1223.6,4207.2 L1225.6,4207.5 L1227.6,4208.2 L1229.6,4208.9 L1231.6,4209.2 L1233.6,4209.2 L1235.6,4209.4 L1237.6,4209.7 L1239.6,4210.0 L1241.6,4210.6 L1243.6,4210.9 L1245.6,4210.7 L1247.6,4210.9 L1249.6,4211.5 L1251.6,4211.7 L1253.6,4211.8 L1255.6,4211.8 L1257.6,4211.7 L1259.6,4211.9 L1261.6,4212.3 L1263.6,4212.5 L1265.6,4212.5 L1267.6,4212.6 L1269.6,4212.8 L1271.6,4213.3 L1273.6,4213.4 L1275.6,4212.8 L1277.6,4212.6 L1279.6,4213.2 L1281.6,4213.3 L1283.6,4213.3 L1285.6,4213.4 L1287.6,4213.4 L1289.6,4213.7 L1291.6,4214.2 L1293.6,4214.5 L1295.6,4214.4 L1297.6,4214.2 L1299.6,4214.2 L1301.6,4214.2 L1303.6,4214.4 L1305.6,4214.6 L1307.6,4214.4 L1309.6,4214.2 L1311.6,4214.5 L1313.6,4215.1 L1315.6,4215.2 L1317.6,4215.0 L1319.6,4215.2 L1321.6,4215.3 L1323.6,4215.6 L1325.6,4215.5 L1327.6,4215.1 L1329.6,4215.5 L1331.6,4216.0 L1333.6,4216.2 L1335.6,4216.0 L1337.6,4216.0 L1339.6,4216.3 L1341.6,4216.4 L1343.6,4216.2 L1345.6,4216.4 L1347.6,4216.8 L1349.6,4216.9 L1351.6,4217.0 L1353.6,4217.0 L1355.6,4217.0 L1357.6,4217.0 L1359.6,4216.9 L1361.6,4217.2 L1363.6,4217.4 L1365.6,4217.5 L1367.6,4217.5 L1369.6,4217.6 L1371.6,4218.0 L1373.6,4217.6 L1375.6,4217.2 L1377.6,4217.5 L1379.6,4217.9 L1381.6,4218.2 L1383.6,4218.4 L1385.6,4218.0 L1387.6,4218.3 L1389.6,4218.9 L1391.6,4218.8 L1393.6,4218.5 L1395.6,4218.9 L1397.6,4219.6 L1399.6,4219.4 L1401.6,4218.6 L1403.6,4218.5 L1405.6,4219.1 L1407.6,4219.7 L1409.6,4219.7 L1411.6,4219.3 L1413.6,4219.3 L1415.6,4219.7 L1417.6,4220.0 L1419.6,4220.0 L1421.6,4219.6 L1423.6,4219.9 L1425.6,4220.7 L1427.6,4220.6 L1429.6,4219.7 L1431.6,4219.4 L1433.6,4219.3 L1435.6,4218.8 L1437.6,4218.7 L1439.6,4218.6 L1441.6,4218.5 L1443.6,4218.5 L1445.6,4218.2 L1447.6,4218.2 L1449.6,4218.4 L1451.6,4218.3 L1453.6,4218.4 L1455.6,4218.5 L1457.6,4218.4 L1459.6,4218.3 L1461.6,4218.1 L1463.6,4218.2 L1465.6,4218.9 L1467.6,4219.0 L1469.6,4218.5 L1471.6,4218.8 L1473.6,4219.2 L1475.6,4219.1 L1477.6,4219.3 L1479.6,4219.4 L1481.6,4219.0 L1483.6,4218.9 L1485.6,4219.5 L1487.6,4219.9 L1489.6,4219.9 L1491.6,4220.3 L1493.6,4220.5 L1495.6,4220.4 L1497.6,4220.4 L1499.6,4220.6 L1501.6,4221.0 L1503.6,4220.9 L1505.6,4220.6 L1507.6,4220.5 L1509.6,4220.4 L1511.6,4221.0 L1513.6,4221.5 L1515.6,4221.2 L1517.6,4221.3 L1519.6,4221.1 L1521.6,4220.8 L1523.6,4221.1 L1525.6,4221.1 L1527.6,4221.0 L1529.6,4221.5 L1531.6,4221.9 L1533.6,4222.2 L1535.6,4222.2 L1537.6,4221.5 L1539.6,4220.7 L1541.6,4220.9 L1543.6,4221.5 L1545.6,4221.7 L1547.6,4221.6 L1549.6,4221.5 L1551.6,4221.4 L1553.6,4221.3 L1555.6,4221.0 L1557.6,4220.8 L1559.6,4221.1 L1561.6,4221.4 L1563.6,4221.5 L1565.6,4221.4 L1567.6,4221.2 L1569.6,4221.0 L1571.6,4220.9 L1573.6,4221.2 L1575.6,4221.2 L1577.6,4221.1 L1579.6,4221.1 L1581.6,4221.3 L1583.6,4221.2 L1585.6,4221.1 L1587.6,4221.0 L1589.6,4220.5 L1591.6,4220.3 L1593.6,4220.8 L1595.6,4221.0 L1597.6,4220.8 L1599.6,4220.3 L1601.6,4220.1 L1603.6,4220.2 L1605.6,4220.2 L1607.6,4220.4 L1609.6,4220.3 L1611.6,4220.2 L1613.6,4220.4 L1615.6,4220.4 L1617.6,4220.3 L1619.6,4220.4 L1621.6,4220.3 L1623.6,4220.5 L1625.6,4221.0 L1627.6,4221.4 L1629.6,4221.4 L1631.6,4221.2 L1633.6,4220.8 L1635.6,4220.8 L1637.6,4221.2 L1639.6,4221.4 L1641.6,4221.3 L1643.6,4221.3 L1645.6,4221.4 L1647.6,4221.6 L1649.6,4221.7 L1651.6,4221.7 L1653.6,4221.5 L1655.6,4221.7 L1657.6,4221.9 L1659.6,4222.0 L1661.6,4222.0 L1663.6,4221.7 L1665.6,4221.6 L1667.6,4221.8 L1669.6,4221.8 L1671.6,4221.4 L1673.6,4221.4 L1675.6,4221.7 L1677.6,4221.7 L1679.6,4221.7 L1681.6,4221.5 L1683.6,4220.9 L1685.6,4220.3 L1687.6,4219.8 L1689.6,4219.5 L1691.6,4219.3 L1693.6,4219.3 L1695.6,4219.4 L1697.6,4219.6 L1699.6,4219.6 L1701.6,4219.1 L1703.6,4218.5 L1705.6,4218.3 L1707.6,4218.3 L1709.6,4218.3 L1711.6,4218.5 L1713.6,4218.5 L1715.6,4217.9 L1717.6,4217.5 L1719.6,4217.5 L1721.6,4217.8 L1723.6,4218.5 L1725.6,4218.6 L1727.6,4217.9 L1729.6,4217.7 L1731.6,4218.0 L1733.6,4218.6 L1735.6,4218.9 L1737.6,4218.6 L1739.6,4218.5 L1741.6,4218.7 L1743.6,4219.0 L1745.6,4219.5 L1747.6,4219.4 L1749.6,4219.0 L1751.6,4219.2 L1753.6,4219.7 L1755.6,4220.0 L1757.6,4220.1 L1759.6,4219.9 L1761.6,4220.0 L1763.6,4220.4 L1765.6,4220.9 L1767.6,4220.8 L1769.6,4220.4 L1771.6,4220.4 L1773.6,4220.4 L1775.6,4219.9 L1777.6,4219.9 L1779.6,4220.5 L1781.6,4220.9 L1783.6,4220.6 L1785.6,4220.2 L1787.6,4220.8 L1789.0,4221.2" fill="none" stroke="#37ad6b" stroke-width="10.2" stroke-linejoin="round" stroke-linecap="butt"/>
<path d="M317.6,3655.2 L319.6,3649.4 L321.6,3643.6 L323.6,3638.4 L325.6,3633.8 L327.6,3629.2 L329.6,3624.7 L331.6,3620.4 L333.6,3616.1 L335.6,3612.4 L337.6,3609.1 L339.6,3605.7 L341.6,3602.3 L343.6,3598.9 L345.6,3595.5 L347.6,3592.4 L349.6,3589.3 L351.6,3586.2 L353.6,3583.3 L355.6,3580.6 L357.6,3578.3 L359.6,3575.7 L361.6,3573.3 L363.6,3571.1 L365.6,3568.5 L367.6,3566.5 L369.6,3564.7 L371.6,3562.2 L373.6,3559.8 L375.6,3557.9 L377.6,3556.2 L379.6,3554.8 L381.6,3553.3 L383.6,3551.7 L385.6,3549.7 L387.6,3547.8 L389.6,3546.3 L391.6,3545.1 L393.6,3543.9 L395.6,3542.7 L397.6,3540.8 L399.6,3538.9 L401.6,3537.6 L403.6,3536.6 L405.6,3535.7 L407.6,3534.7 L409.6,3533.5 L411.6,3531.9 L413.6,3530.7 L415.6,3530.0 L417.6,3529.1 L419.6,3528.0 L421.6,3526.9 L423.6,3525.7 L425.6,3524.5 L427.6,3523.9 L429.6,3523.1 L431.6,3522.0 L433.6,3521.2 L435.6,3520.3 L437.6,3519.6 L439.6,3519.2 L441.6,3518.1 L443.6,3516.8 L445.6,3516.5 L447.6,3515.9 L449.6,3514.8 L451.6,3514.0 L453.6,3513.4 L455.6,3512.7 L457.6,3511.7 L459.6,3510.8 L461.6,3509.6 L463.6,3508.1 L465.6,3506.9 L467.6,3506.3 L469.6,3505.4 L471.6,3503.8 L473.6,3502.9 L475.6,3502.5 L477.6,3502.0 L479.6,3501.6 L481.6,3500.7 L483.6,3499.9 L485.6,3499.9 L487.6,3500.0 L489.6,3499.4 L491.6,3498.6 L493.6,3498.3 L495.6,3498.0 L497.6,3497.8 L499.6,3497.5 L501.6,3497.0 L503.6,3496.9 L505.6,3496.5 L507.6,3495.7 L509.6,3495.2 L511.6,3494.9 L513.6,3494.7 L515.6,3494.8 L517.6,3494.9 L519.6,3494.2 L521.6,3493.8 L523.6,3493.9 L525.6,3493.2 L527.6,3492.5 L529.6,3492.5 L531.6,3492.2 L533.6,3491.4 L535.6,3491.2 L537.6,3490.9 L539.6,3490.4 L541.6,3490.2 L543.6,3490.0 L545.6,3489.7 L547.6,3489.4 L549.6,3489.4 L551.6,3489.9 L553.6,3490.3 L555.6,3490.2 L557.6,3489.9 L559.6,3490.1 L561.6,3490.7 L563.6,3490.2 L565.6,3489.9 L567.6,3490.7 L569.6,3491.2 L571.6,3491.0 L573.6,3491.1 L575.6,3491.5 L577.6,3491.6 L579.6,3492.0 L581.6,3492.4 L583.6,3492.2 L585.6,3492.2 L587.6,3492.5 L589.6,3493.1 L591.6,3493.9 L593.6,3494.9 L595.6,3495.7 L597.6,3496.1 L599.6,3496.8 L601.6,3497.6 L603.6,3498.2 L605.6,3499.1 L607.6,3500.3 L609.6,3500.9 L611.6,3501.2 L613.6,3502.2 L615.6,3503.2 L617.6,3503.4 L619.6,3503.8 L621.6,3504.9 L623.6,3506.4 L625.6,3507.2 L627.6,3507.8 L629.6,3509.0 L631.6,3510.3 L633.6,3511.0 L635.6,3511.8 L637.6,3513.4 L639.6,3514.5 L641.6,3514.6 L643.6,3515.0 L645.6,3516.4 L647.6,3517.9 L649.6,3518.6 L651.6,3519.1 L653.6,3519.8 L655.6,3520.7 L657.6,3521.5 L659.6,3522.4 L661.6,3523.6 L663.6,3524.6 L665.6,3526.1 L667.6,3528.6 L669.6,3532.7 L671.6,3535.7 L673.6,3538.0 L675.6,3539.4 L677.6,3540.8 L679.6,3542.3 L681.6,3544.0 L683.6,3545.5 L685.6,3546.3 L687.6,3547.5 L689.6,3549.0 L691.6,3550.2 L693.6,3551.4 L695.6,3553.0 L697.6,3554.8 L699.6,3557.5 L701.6,3560.2 L703.6,3562.0 L705.6,3563.9 L707.6,3566.2 L709.6,3568.3 L711.6,3570.3 L713.6,3572.3 L715.6,3574.5 L717.6,3577.1 L719.6,3580.1 L721.6,3582.4 L723.6,3585.0 L725.6,3588.2 L727.6,3590.8 L729.6,3592.9 L731.6,3595.7 L733.6,3599.0 L735.6,3602.4 L737.6,3606.1 L739.6,3610.5 L741.6,3616.3 L743.6,3622.9 L745.6,3629.9 L747.6,3636.7 L749.6,3642.9 L751.6,3649.2 L753.6,3655.6 L755.6,3661.9 L757.6,3667.6 L759.6,3673.1 L761.6,3679.2 L763.6,3684.7 L765.6,3689.6 L767.6,3694.7 L769.6,3699.9 L771.6,3705.0 L773.6,3710.4 L775.6,3716.2 L777.6,3722.1 L779.6,3728.5 L781.6,3735.1 L783.6,3741.7 L785.6,3748.6 L787.6,3755.6 L789.6,3762.7 L791.6,3769.5 L793.6,3776.6 L795.6,3783.8 L797.6,3791.0 L799.6,3798.4 L801.6,3805.8 L803.6,3813.3 L805.6,3820.6 L807.6,3827.3 L809.6,3834.1 L811.6,3841.7 L813.6,3852.1 L815.6,3862.6 L817.6,3869.8 L819.6,3875.2 L821.6,3880.0 L823.6,3884.9 L825.6,3890.5 L827.6,3897.9 L829.6,3907.0 L831.6,3915.6 L833.6,3923.4 L835.6,3931.2 L837.6,3938.7 L839.6,3946.3 L841.6,3954.0 L843.6,3960.9 L845.6,3967.2 L847.6,3973.8 L849.6,3980.6 L851.6,3987.0 L853.6,3993.1 L855.6,3999.4 L857.6,4005.8 L859.6,4012.2 L861.6,4017.7 L863.6,4022.4 L865.6,4027.5 L867.6,4032.8 L869.6,4037.9 L871.6,4043.4 L873.6,4049.2 L875.6,4054.6 L877.6,4060.0 L879.6,4066.4 L881.6,4073.8 L883.6,4081.0 L885.6,4087.5 L887.6,4094.1 L889.6,4101.4 L891.6,4108.6 L893.6,4114.9 L895.6,4120.5 L897.6,4125.6 L899.6,4130.7 L901.6,4135.6 L903.6,4140.5 L905.6,4145.1 L907.6,4149.1 L909.6,4152.7 L911.6,4156.3 L913.6,4160.0 L915.6,4163.2 L917.6,4165.7 L919.6,4167.8 L921.6,4169.8 L923.6,4172.0 L925.6,4174.3 L927.6,4176.1 L929.6,4177.7 L931.6,4179.3 L933.6,4180.8 L935.6,4182.4 L937.6,4184.1 L939.6,4185.5 L941.6,4186.5 L943.6,4187.4 L945.6,4188.3 L947.6,4189.6 L949.6,4190.8 L951.6,4192.0 L953.6,4193.0 L955.6,4193.6 L957.6,4194.4 L959.6,4195.3 L961.6,4196.2 L963.6,4197.4 L965.6,4198.5 L967.6,4199.4 L969.6,4199.6 L971.6,4200.0 L973.6,4200.8 L975.6,4201.4 L977.6,4202.1 L979.6,4202.5 L981.6,4202.9 L983.6,4203.8 L985.6,4204.5 L987.6,4205.4 L989.6,4206.2 L991.6,4206.3 L993.6,4206.5 L995.6,4207.5 L997.6,4208.5 L999.6,4208.9 L1001.6,4209.2 L1003.6,4209.6 L1005.6,4209.8 L1007.6,4209.9 L1009.6,4210.6 L1011.6,4211.7 L1013.6,4212.3 L1015.6,4212.2 L1017.6,4212.0 L1019.6,4212.1 L1021.6,4212.7 L1023.6,4212.9 L1025.6,4212.7 L1027.6,4213.0 L1029.6,4213.4 L1031.6,4213.6 L1033.6,4214.0 L1035.6,4214.5 L1037.6,4214.7 L1039.6,4214.8 L1041.6,4214.9 L1043.6,4214.9 L1045.6,4215.0 L1047.6,4215.2 L1049.6,4215.5 L1051.6,4216.1 L1053.6,4216.5 L1055.6,4216.4 L1057.6,4216.3 L1059.6,4216.3 L1061.6,4216.7 L1063.6,4216.7 L1065.6,4216.5 L1067.6,4217.3 L1069.6,4218.1 L1071.6,4218.1 L1073.6,4218.1 L1075.6,4218.2 L1077.6,4218.5 L1079.6,4218.3 L1081.6,4218.0 L1083.6,4218.7 L1085.6,4219.1 L1087.6,4219.0 L1089.6,4219.6 L1091.6,4220.0 L1093.6,4219.9 L1095.6,4219.5 L1097.6,4219.1 L1099.6,4219.5 L1101.6,4220.1 L1103.6,4220.2 L1105.6,4220.0 L1107.6,4219.9 L1109.6,4220.3 L1111.6,4221.0 L1113.6,4221.2 L1115.6,4220.8 L1117.6,4220.8 L1119.6,4221.0 L1121.6,4221.3 L1123.6,4221.8 L1125.6,4222.3 L1127.6,4222.4 L1129.6,4222.3 L1131.6,4222.8 L1133.6,4223.3 L1135.6,4223.6 L1137.6,4224.0 L1139.6,4224.2 L1141.6,4224.2 L1143.6,4224.1 L1145.6,4224.1 L1147.6,4224.3 L1149.6,4225.0 L1151.6,4225.5 L1153.6,4226.0 L1155.6,4226.5 L1157.6,4226.4 L1159.6,4226.3 L1161.6,4226.8 L1163.6,4226.8 L1165.6,4226.2 L1167.6,4226.3 L1169.6,4226.5 L1171.6,4226.5 L1173.6,4226.7 L1175.6,4226.9 L1177.6,4227.3 L1179.6,4227.4 L1181.6,4227.2 L1183.6,4227.6 L1185.6,4228.0 L1187.6,4228.3 L1189.6,4228.5 L1191.6,4228.5 L1193.6,4228.8 L1195.6,4229.2 L1197.6,4229.4 L1199.6,4229.2 L1201.6,4229.0 L1203.6,4229.1 L1205.6,4229.0 L1207.6,4228.6 L1209.6,4228.0 L1211.6,4227.2 L1213.6,4226.5 L1215.6,4225.9 L1217.6,4225.3 L1219.6,4225.1 L1221.6,4224.9 L1223.6,4225.0 L1225.6,4225.4 L1227.6,4225.8 L1229.6,4226.6 L1231.6,4227.6 L1233.6,4228.4 L1235.6,4228.8 L1237.6,4229.0 L1239.6,4229.3 L1241.6,4229.5 L1243.6,4229.7 L1245.6,4229.8 L1247.6,4229.9 L1249.6,4230.3 L1251.6,4230.7 L1253.6,4230.7 L1255.6,4230.6 L1257.6,4230.6 L1259.6,4230.7 L1261.6,4230.8 L1263.6,4231.3 L1265.6,4231.5 L1267.6,4231.2 L1269.6,4231.3 L1271.6,4231.7 L1273.6,4232.2 L1275.6,4232.6 L1277.6,4232.1 L1279.6,4231.9 L1281.6,4232.2 L1283.6,4232.3 L1285.6,4232.5 L1287.6,4232.5 L1289.6,4232.3 L1291.6,4232.6 L1293.6,4232.7 L1295.6,4232.5 L1297.6,4232.7 L1299.6,4233.2 L1301.6,4233.4 L1303.6,4233.2 L1305.6,4233.3 L1307.6,4233.5 L1309.6,4233.6 L1311.6,4233.4 L1313.6,4232.9 L1315.6,4233.4 L1317.6,4234.3 L1319.6,4234.4 L1321.6,4234.0 L1323.6,4233.5 L1325.6,4233.5 L1327.6,4234.2 L1329.6,4234.1 L1331.6,4233.8 L1333.6,4234.5 L1335.6,4235.1 L1337.6,4235.1 L1339.6,4235.2 L1341.6,4235.4 L1343.6,4235.3 L1345.6,4235.2 L1347.6,4235.5 L1349.6,4235.5 L1351.6,4235.0 L1353.6,4235.2 L1355.6,4235.7 L1357.6,4235.8 L1359.6,4235.7 L1361.6,4235.7 L1363.6,4235.9 L1365.6,4236.3 L1367.6,4236.6 L1369.6,4236.4 L1371.6,4235.9 L1373.6,4235.9 L1375.6,4236.5 L1377.6,4236.8 L1379.6,4236.8 L1381.6,4236.9 L1383.6,4237.1 L1385.6,4237.3 L1387.6,4237.2 L1389.6,4236.9 L1391.6,4237.1 L1393.6,4237.0 L1395.6,4236.7 L1397.6,4237.3 L1399.6,4238.1 L1401.6,4238.0 L1403.6,4237.6 L1405.6,4237.9 L1407.6,4237.7 L1409.6,4237.5 L1411.6,4237.8 L1413.6,4238.1 L1415.6,4238.4 L1417.6,4238.9 L1419.6,4239.1 L1421.6,4239.1 L1423.6,4239.3 L1425.6,4239.2 L1427.6,4239.3 L1429.6,4239.3 L1431.6,4239.1 L1433.6,4238.8 L1435.6,4238.8 L1437.6,4239.0 L1439.6,4239.1 L1441.6,4239.3 L1443.6,4239.4 L1445.6,4239.6 L1447.6,4239.6 L1449.6,4239.2 L1451.6,4239.3 L1453.6,4239.6 L1455.6,4239.9 L1457.6,4239.9 L1459.6,4239.7 L1461.6,4240.0 L1463.6,4240.5 L1465.6,4240.5 L1467.6,4240.4 L1469.6,4240.2 L1471.6,4239.6 L1473.6,4240.0 L1475.6,4240.7 L1477.6,4240.7 L1479.6,4240.5 L1481.6,4240.2 L1483.6,4240.1 L1485.6,4240.8 L1487.6,4241.1 L1489.6,4240.8 L1491.6,4240.2 L1493.6,4240.1 L1495.6,4240.9 L1497.6,4240.9 L1499.6,4240.7 L1501.6,4241.0 L1503.6,4240.8 L1505.6,4240.4 L1507.6,4240.7 L1509.6,4241.0 L1511.6,4241.1 L1513.6,4241.4 L1515.6,4241.7 L1517.6,4241.2 L1519.6,4240.7 L1521.6,4241.0 L1523.6,4241.6 L1525.6,4241.7 L1527.6,4241.8 L1529.6,4241.7 L1531.6,4241.2 L1533.6,4241.5 L1535.6,4242.4 L1537.6,4242.7 L1539.6,4242.4 L1541.6,4242.1 L1543.6,4242.2 L1545.6,4242.1 L1547.6,4241.9 L1549.6,4241.7 L1551.6,4241.4 L1553.6,4241.8 L1555.6,4242.4 L1557.6,4242.6 L1559.6,4242.3 L1561.6,4242.2 L1563.6,4242.2 L1565.6,4242.0 L1567.6,4242.0 L1569.6,4242.1 L1571.6,4242.3 L1573.6,4241.9 L1575.6,4241.5 L1577.6,4241.6 L1579.6,4241.8 L1581.6,4241.6 L1583.6,4241.1 L1585.6,4241.0 L1587.6,4241.1 L1589.6,4241.0 L1591.6,4240.9 L1593.6,4241.0 L1595.6,4240.9 L1597.6,4240.5 L1599.6,4240.5 L1601.6,4240.8 L1603.6,4241.1 L1605.6,4240.9 L1607.6,4240.4 L1609.6,4240.4 L1611.6,4240.9 L1613.6,4241.4 L1615.6,4241.8 L1617.6,4241.6 L1619.6,4241.2 L1621.6,4241.2 L1623.6,4241.5 L1625.6,4241.9 L1627.6,4242.4 L1629.6,4242.6 L1631.6,4242.3 L1633.6,4242.3 L1635.6,4242.1 L1637.6,4241.5 L1639.6,4242.0 L1641.6,4242.6 L1643.6,4242.5 L1645.6,4242.3 L1647.6,4242.3 L1649.6,4242.3 L1651.6,4242.2 L1653.6,4242.4 L1655.6,4243.1 L1657.6,4243.2 L1659.6,4242.8 L1661.6,4243.0 L1663.6,4243.5 L1665.6,4243.8 L1667.6,4243.3 L1669.6,4242.8 L1671.6,4243.0 L1673.6,4243.3 L1675.6,4243.1 L1677.6,4242.6 L1679.6,4242.1 L1681.6,4242.0 L1683.6,4241.7 L1685.6,4240.7 L1687.6,4240.3 L1689.6,4240.8 L1691.6,4240.6 L1693.6,4239.8 L1695.6,4239.6 L1697.6,4239.9 L1699.6,4239.7 L1701.6,4239.3 L1703.6,4239.1 L1705.6,4238.7 L1707.6,4238.4 L1709.6,4238.1 L1711.6,4238.2 L1713.6,4238.5 L1715.6,4238.2 L1717.6,4238.2 L1719.6,4238.5 L1721.6,4238.7 L1723.6,4238.8 L1725.6,4238.6 L1727.6,4238.8 L1729.6,4239.3 L1731.6,4239.3 L1733.6,4239.6 L1735.6,4239.9 L1737.6,4240.0 L1739.6,4240.5 L1741.6,4240.6 L1743.6,4240.1 L1745.6,4239.9 L1747.6,4240.5 L1749.6,4241.1 L1751.6,4241.1 L1753.6,4241.1 L1755.6,4241.3 L1757.6,4241.2 L1759.6,4241.1 L1761.6,4241.6 L1763.6,4242.0 L1765.6,4241.9 L1767.6,4241.7 L1769.6,4242.1 L1771.6,4242.9 L1773.6,4243.3 L1775.6,4242.9 L1777.6,4242.6 L1779.6,4242.9 L1781.6,4242.9 L1783.6,4242.8 L1785.6,4243.3 L1787.6,4243.6 L1789.0,4243.2" fill="none" stroke="#b177de" stroke-width="10.2" stroke-linejoin="round" stroke-linecap="butt"/>
<path d="M317.6,3656.6 L319.6,3650.5 L321.6,3644.8 L323.6,3639.1 L325.6,3634.1 L327.6,3629.7 L329.6,3625.4 L331.6,3621.7 L333.6,3618.3 L335.6,3614.5 L337.6,3610.5 L339.6,3607.1 L341.6,3603.8 L343.6,3600.3 L345.6,3596.8 L347.6,3593.4 L349.6,3590.4 L351.6,3587.6 L353.6,3584.9 L355.6,3582.0 L357.6,3579.5 L359.6,3577.1 L361.6,3574.6 L363.6,3572.2 L365.6,3570.0 L367.6,3567.7 L369.6,3565.5 L371.6,3563.4 L373.6,3561.3 L375.6,3559.4 L377.6,3557.7 L379.6,3555.9 L381.6,3553.7 L383.6,3551.9 L385.6,3550.7 L387.6,3549.4 L389.6,3547.8 L391.6,3546.3 L393.6,3544.6 L395.6,3543.4 L397.6,3542.2 L399.6,3540.6 L401.6,3539.1 L403.6,3538.0 L405.6,3537.0 L407.6,3535.9 L409.6,3534.4 L411.6,3532.9 L413.6,3531.7 L415.6,3530.7 L417.6,3529.7 L419.6,3528.9 L421.6,3528.2 L423.6,3527.3 L425.6,3526.2 L427.6,3525.3 L429.6,3524.5 L431.6,3524.1 L433.6,3523.2 L435.6,3521.9 L437.6,3520.7 L439.6,3520.0 L441.6,3519.5 L443.6,3518.4 L445.6,3516.9 L447.6,3516.1 L449.6,3516.0 L451.6,3515.1 L453.6,3514.1 L455.6,3513.6 L457.6,3513.1 L459.6,3511.9 L461.6,3510.5 L463.6,3509.5 L465.6,3508.4 L467.6,3507.4 L469.6,3506.6 L471.6,3505.6 L473.6,3504.5 L475.6,3503.4 L477.6,3502.8 L479.6,3502.6 L481.6,3502.1 L483.6,3501.4 L485.6,3501.1 L487.6,3501.0 L489.6,3500.6 L491.6,3500.1 L493.6,3499.6 L495.6,3499.1 L497.6,3498.7 L499.6,3498.6 L501.6,3498.6 L503.6,3498.6 L505.6,3498.5 L507.6,3498.2 L509.6,3497.7 L511.6,3497.5 L513.6,3497.1 L515.6,3496.2 L517.6,3495.7 L519.6,3495.4 L521.6,3495.0 L523.6,3494.6 L525.6,3494.4 L527.6,3494.2 L529.6,3493.6 L531.6,3493.3 L533.6,3493.2 L535.6,3492.4 L537.6,3491.7 L539.6,3491.6 L541.6,3491.5 L543.6,3491.4 L545.6,3491.2 L547.6,3491.3 L549.6,3491.2 L551.6,3491.0 L553.6,3491.5 L555.6,3491.8 L557.6,3491.8 L559.6,3491.7 L561.6,3491.7 L563.6,3492.0 L565.6,3492.1 L567.6,3492.2 L569.6,3492.2 L571.6,3492.2 L573.6,3492.4 L575.6,3492.6 L577.6,3492.6 L579.6,3492.5 L581.6,3492.5 L583.6,3492.9 L585.6,3493.4 L587.6,3494.1 L589.6,3494.9 L591.6,3495.2 L593.6,3495.4 L595.6,3495.8 L597.6,3496.2 L599.6,3497.0 L601.6,3498.4 L603.6,3499.4 L605.6,3500.0 L607.6,3500.8 L609.6,3502.4 L611.6,3503.7 L613.6,3503.6 L615.6,3503.7 L617.6,3504.7 L619.6,3505.7 L621.6,3506.5 L623.6,3507.4 L625.6,3508.2 L627.6,3509.1 L629.6,3509.9 L631.6,3510.8 L633.6,3511.9 L635.6,3512.9 L637.6,3514.0 L639.6,3515.4 L641.6,3516.5 L643.6,3516.9 L645.6,3517.6 L647.6,3518.5 L649.6,3519.6 L651.6,3520.4 L653.6,3521.0 L655.6,3522.0 L657.6,3523.3 L659.6,3524.7 L661.6,3525.8 L663.6,3526.8 L665.6,3528.1 L667.6,3530.1 L669.6,3534.8 L671.6,3537.4 L673.6,3539.7 L675.6,3541.9 L677.6,3543.2 L679.6,3544.8 L681.6,3546.4 L683.6,3547.4 L685.6,3548.5 L687.6,3549.6 L689.6,3550.7 L691.6,3552.2 L693.6,3553.4 L695.6,3554.9 L697.6,3557.2 L699.6,3559.0 L701.6,3560.6 L703.6,3562.4 L705.6,3564.4 L707.6,3566.8 L709.6,3569.0 L711.6,3570.8 L713.6,3573.2 L715.6,3575.9 L717.6,3578.5 L719.6,3580.8 L721.6,3582.9 L723.6,3585.1 L725.6,3587.3 L727.6,3589.3 L729.6,3591.1 L731.6,3592.5 L733.6,3594.7 L735.6,3598.0 L737.6,3601.5 L739.6,3605.2 L741.6,3609.8 L743.6,3619.6 L745.6,3632.5 L747.6,3642.0 L749.6,3649.3 L751.6,3656.0 L753.6,3661.4 L755.6,3666.9 L757.6,3672.6 L759.6,3678.0 L761.6,3683.9 L763.6,3689.2 L765.6,3694.0 L767.6,3698.8 L769.6,3703.6 L771.6,3708.6 L773.6,3714.4 L775.6,3720.5 L777.6,3726.5 L779.6,3732.6 L781.6,3738.9 L783.6,3745.3 L785.6,3751.6 L787.6,3758.2 L789.6,3765.1 L791.6,3772.3 L793.6,3779.8 L795.6,3787.2 L797.6,3794.2 L799.6,3801.3 L801.6,3808.7 L803.6,3815.7 L805.6,3822.0 L807.6,3828.5 L809.6,3836.0 L811.6,3845.0 L813.6,3856.2 L815.6,3865.7 L817.6,3872.0 L819.6,3877.2 L821.6,3881.5 L823.6,3885.9 L825.6,3891.9 L827.6,3900.3 L829.6,3909.5 L831.6,3918.0 L833.6,3925.7 L835.6,3933.4 L837.6,3940.9 L839.6,3947.8 L841.6,3954.5 L843.6,3961.2 L845.6,3967.9 L847.6,3974.5 L849.6,3980.8 L851.6,3986.4 L853.6,3992.2 L855.6,3998.2 L857.6,4003.6 L859.6,4008.9 L861.6,4014.8 L863.6,4020.9 L865.6,4026.7 L867.6,4032.4 L869.6,4037.8 L871.6,4043.2 L873.6,4048.6 L875.6,4054.4 L877.6,4060.2 L879.6,4066.0 L881.6,4072.2 L883.6,4078.3 L885.6,4084.1 L887.6,4089.8 L889.6,4094.7 L891.6,4099.1 L893.6,4103.4 L895.6,4107.5 L897.6,4111.1 L899.6,4115.0 L901.6,4119.3 L903.6,4122.9 L905.6,4126.3 L907.6,4129.4 L909.6,4132.2 L911.6,4134.5 L913.6,4136.5 L915.6,4139.5 L917.6,4142.3 L919.6,4144.2 L921.6,4146.3 L923.6,4148.4 L925.6,4150.1 L927.6,4151.5 L929.6,4152.8 L931.6,4154.2 L933.6,4155.4 L935.6,4156.7 L937.6,4158.3 L939.6,4159.3 L941.6,4160.2 L943.6,4161.6 L945.6,4162.9 L947.6,4163.7 L949.6,4164.8 L951.6,4166.3 L953.6,4168.1 L955.6,4168.9 L957.6,4169.4 L959.6,4170.4 L961.6,4171.3 L963.6,4172.0 L965.6,4172.9 L967.6,4173.7 L969.6,4174.2 L971.6,4175.0 L973.6,4175.7 L975.6,4176.0 L977.6,4176.5 L979.6,4177.4 L981.6,4178.1 L983.6,4178.5 L985.6,4179.1 L987.6,4179.8 L989.6,4180.5 L991.6,4181.3 L993.6,4181.5 L995.6,4181.6 L997.6,4182.5 L999.6,4183.1 L1001.6,4183.1 L1003.6,4183.6 L1005.6,4183.9 L1007.6,4183.8 L1009.6,4184.4 L1011.6,4185.2 L1013.6,4185.5 L1015.6,4186.0 L1017.6,4186.5 L1019.6,4186.6 L1021.6,4187.2 L1023.6,4188.0 L1025.6,4188.1 L1027.6,4188.1 L1029.6,4188.6 L1031.6,4189.1 L1033.6,4189.2 L1035.6,4189.6 L1037.6,4190.1 L1039.6,4190.3 L1041.6,4190.3 L1043.6,4190.6 L1045.6,4191.2 L1047.6,4191.5 L1049.6,4191.4 L1051.6,4191.6 L1053.6,4192.0 L1055.6,4192.1 L1057.6,4192.7 L1059.6,4193.4 L1061.6,4193.5 L1063.6,4193.2 L1065.6,4193.0 L1067.6,4193.0 L1069.6,4193.6 L1071.6,4194.0 L1073.6,4194.0 L1075.6,4194.1 L1077.6,4194.6 L1079.6,4194.4 L1081.6,4194.4 L1083.6,4194.9 L1085.6,4194.8 L1087.6,4194.8 L1089.6,4195.6 L1091.6,4196.1 L1093.6,4195.8 L1095.6,4195.9 L1097.6,4196.4 L1099.6,4197.0 L1101.6,4197.5 L1103.6,4197.5 L1105.6,4197.1 L1107.6,4197.2 L1109.6,4197.4 L1111.6,4197.4 L1113.6,4197.6 L1115.6,4197.8 L1117.6,4198.1 L1119.6,4198.5 L1121.6,4198.8 L1123.6,4198.5 L1125.6,4198.1 L1127.6,4198.1 L1129.6,4198.6 L1131.6,4198.8 L1133.6,4198.7 L1135.6,4198.9 L1137.6,4199.1 L1139.6,4199.0 L1141.6,4199.0 L1143.6,4199.4 L1145.6,4199.7 L1147.6,4200.2 L1149.6,4200.5 L1151.6,4200.4 L1153.6,4200.2 L1155.6,4199.9 L1157.6,4200.1 L1159.6,4200.5 L1161.6,4200.5 L1163.6,4200.2 L1165.6,4200.4 L1167.6,4201.2 L1169.6,4201.2 L1171.6,4201.0 L1173.6,4201.1 L1175.6,4201.1 L1177.6,4201.3 L1179.6,4201.3 L1181.6,4201.2 L1183.6,4201.5 L1185.6,4201.9 L1187.6,4201.6 L1189.6,4201.3 L1191.6,4201.6 L1193.6,4202.0 L1195.6,4202.3 L1197.6,4202.3 L1199.6,4202.3 L1201.6,4202.0 L1203.6,4201.4 L1205.6,4201.4 L1207.6,4201.3 L1209.6,4201.1 L1211.6,4200.6 L1213.6,4199.6 L1215.6,4199.2 L1217.6,4199.0 L1219.6,4198.7 L1221.6,4199.0 L1223.6,4199.5 L1225.6,4199.9 L1227.6,4200.1 L1229.6,4200.3 L1231.6,4200.8 L1233.6,4201.7 L1235.6,4202.5 L1237.6,4202.9 L1239.6,4202.8 L1241.6,4202.4 L1243.6,4202.7 L1245.6,4203.6 L1247.6,4203.8 L1249.6,4203.5 L1251.6,4203.7 L1253.6,4203.8 L1255.6,4204.1 L1257.6,4205.0 L1259.6,4205.4 L1261.6,4204.9 L1263.6,4204.5 L1265.6,4204.6 L1267.6,4205.2 L1269.6,4205.2 L1271.6,4205.4 L1273.6,4206.0 L1275.6,4206.0 L1277.6,4206.2 L1279.6,4206.6 L1281.6,4206.2 L1283.6,4206.0 L1285.6,4206.2 L1287.6,4206.5 L1289.6,4206.9 L1291.6,4207.2 L1293.6,4206.9 L1295.6,4206.8 L1297.6,4207.4 L1299.6,4207.7 L1301.6,4207.5 L1303.6,4207.4 L1305.6,4207.5 L1307.6,4207.9 L1309.6,4208.3 L1311.6,4208.2 L1313.6,4208.0 L1315.6,4208.2 L1317.6,4208.5 L1319.6,4208.7 L1321.6,4208.7 L1323.6,4208.9 L1325.6,4209.0 L1327.6,4209.1 L1329.6,4209.0 L1331.6,4209.0 L1333.6,4209.5 L1335.6,4209.5 L1337.6,4209.3 L1339.6,4209.7 L1341.6,4209.8 L1343.6,4209.9 L1345.6,4210.0 L1347.6,4209.7 L1349.6,4209.5 L1351.6,4209.8 L1353.6,4210.0 L1355.6,4210.4 L1357.6,4210.9 L1359.6,4211.0 L1361.6,4211.2 L1363.6,4211.6 L1365.6,4211.8 L1367.6,4211.6 L1369.6,4211.2 L1371.6,4211.3 L1373.6,4211.9 L1375.6,4212.0 L1377.6,4211.5 L1379.6,4211.6 L1381.6,4212.4 L1383.6,4213.0 L1385.6,4212.9 L1387.6,4212.8 L1389.6,4213.0 L1391.6,4213.3 L1393.6,4213.5 L1395.6,4213.2 L1397.6,4213.0 L1399.6,4213.3 L1401.6,4213.5 L1403.6,4213.8 L1405.6,4213.9 L1407.6,4213.5 L1409.6,4213.7 L1411.6,4214.3 L1413.6,4214.2 L1415.6,4214.1 L1417.6,4214.0 L1419.6,4213.8 L1421.6,4213.9 L1423.6,4214.0 L1425.6,4214.2 L1427.6,4214.4 L1429.6,4214.3 L1431.6,4214.4 L1433.6,4214.7 L1435.6,4215.0 L1437.6,4215.2 L1439.6,4215.1 L1441.6,4214.9 L1443.6,4215.2 L1445.6,4215.8 L1447.6,4216.0 L1449.6,4216.0 L1451.6,4216.2 L1453.6,4216.2 L1455.6,4215.8 L1457.6,4215.7 L1459.6,4216.3 L1461.6,4216.8 L1463.6,4216.5 L1465.6,4216.4 L1467.6,4216.3 L1469.6,4216.2 L1471.6,4216.7 L1473.6,4216.9 L1475.6,4216.7 L1477.6,4216.8 L1479.6,4217.0 L1481.6,4217.0 L1483.6,4216.7 L1485.6,4216.4 L1487.6,4216.5 L1489.6,4217.1 L1491.6,4217.5 L1493.6,4217.5 L1495.6,4217.4 L1497.6,4217.6 L1499.6,4217.6 L1501.6,4217.4 L1503.6,4217.7 L1505.6,4218.3 L1507.6,4218.9 L1509.6,4219.2 L1511.6,4218.9 L1513.6,4218.8 L1515.6,4218.8 L1517.6,4218.6 L1519.6,4218.7 L1521.6,4218.8 L1523.6,4218.5 L1525.6,4218.5 L1527.6,4218.7 L1529.6,4218.7 L1531.6,4219.0 L1533.6,4219.4 L1535.6,4219.5 L1537.6,4219.7 L1539.6,4219.9 L1541.6,4219.7 L1543.6,4219.3 L1545.6,4219.5 L1547.6,4219.3 L1549.6,4219.3 L1551.6,4219.4 L1553.6,4219.2 L1555.6,4219.5 L1557.6,4219.9 L1559.6,4220.0 L1561.6,4219.9 L1563.6,4219.8 L1565.6,4220.3 L1567.6,4220.4 L1569.6,4219.8 L1571.6,4219.5 L1573.6,4219.3 L1575.6,4219.0 L1577.6,4219.0 L1579.6,4219.1 L1581.6,4218.8 L1583.6,4218.7 L1585.6,4218.7 L1587.6,4218.4 L1589.6,4218.6 L1591.6,4218.8 L1593.6,4218.3 L1595.6,4218.0 L1597.6,4218.4 L1599.6,4218.6 L1601.6,4218.8 L1603.6,4218.8 L1605.6,4218.4 L1607.6,4218.2 L1609.6,4218.3 L1611.6,4218.4 L1613.6,4218.8 L1615.6,4219.6 L1617.6,4220.0 L1619.6,4220.1 L1621.6,4220.0 L1623.6,4219.7 L1625.6,4219.3 L1627.6,4219.1 L1629.6,4219.5 L1631.6,4220.1 L1633.6,4220.0 L1635.6,4219.7 L1637.6,4219.4 L1639.6,4219.5 L1641.6,4219.6 L1643.6,4219.7 L1645.6,4220.0 L1647.6,4220.2 L1649.6,4220.7 L1651.6,4220.6 L1653.6,4220.3 L1655.6,4220.2 L1657.6,4220.1 L1659.6,4220.2 L1661.6,4220.8 L1663.6,4221.0 L1665.6,4221.1 L1667.6,4221.0 L1669.6,4221.1 L1671.6,4221.2 L1673.6,4220.9 L1675.6,4220.9 L1677.6,4221.0 L1679.6,4220.6 L1681.6,4220.3 L1683.6,4219.7 L1685.6,4218.7 L1687.6,4218.4 L1689.6,4218.2 L1691.6,4218.0 L1693.6,4218.2 L1695.6,4218.3 L1697.6,4218.3 L1699.6,4217.8 L1701.6,4217.4 L1703.6,4217.6 L1705.6,4217.5 L1707.6,4217.3 L1709.6,4217.3 L1711.6,4217.4 L1713.6,4217.3 L1715.6,4217.2 L1717.6,4217.4 L1719.6,4217.3 L1721.6,4216.8 L1723.6,4217.1 L1725.6,4217.3 L1727.6,4217.2 L1729.6,4217.3 L1731.6,4217.3 L1733.6,4217.2 L1735.6,4217.3 L1737.6,4217.6 L1739.6,4218.1 L1741.6,4218.7 L1743.6,4218.9 L1745.6,4218.8 L1747.6,4219.1 L1749.6,4219.7 L1751.6,4219.9 L1753.6,4219.2 L1755.6,4218.6 L1757.6,4219.5 L1759.6,4220.2 L1761.6,4220.3 L1763.6,4220.4 L1765.6,4220.3 L1767.6,4220.4 L1769.6,4220.4 L1771.6,4220.7 L1773.6,4221.2 L1775.6,4221.3 L1777.6,4221.4 L1779.6,4221.8 L1781.6,4222.0 L1783.6,4221.5 L1785.6,4221.1 L1787.6,4221.6 L1789.0,4222.2" fill="none" stroke="#cc9900" stroke-width="10.2" stroke-linejoin="round" stroke-linecap="butt"/>
<path d="M317.6,3665.2 L319.6,3658.6 L321.6,3653.3 L323.6,3647.3 L325.6,3641.6 L327.6,3637.1 L329.6,3633.4 L331.6,3629.7 L333.6,3625.9 L335.6,3621.7 L337.6,3618.4 L339.6,3615.4 L341.6,3612.0 L343.6,3608.1 L345.6,3604.0 L347.6,3601.6 L349.6,3598.9 L351.6,3595.4 L353.6,3592.4 L355.6,3590.2 L357.6,3587.4 L359.6,3584.9 L361.6,3582.2 L363.6,3580.0 L365.6,3577.4 L367.6,3574.8 L369.6,3572.4 L371.6,3571.1 L373.6,3569.9 L375.6,3567.5 L377.6,3564.4 L379.6,3562.3 L381.6,3562.1 L383.6,3560.7 L385.6,3559.0 L387.6,3557.3 L389.6,3555.2 L391.6,3553.7 L393.6,3552.2 L395.6,3551.5 L397.6,3550.7 L399.6,3549.1 L401.6,3547.8 L403.6,3546.7 L405.6,3545.3 L407.6,3544.4 L409.6,3542.9 L411.6,3541.4 L413.6,3540.3 L415.6,3539.6 L417.6,3538.4 L419.6,3537.0 L421.6,3536.5 L423.6,3536.1 L425.6,3534.5 L427.6,3533.2 L429.6,3532.2 L431.6,3531.1 L433.6,3530.3 L435.6,3529.3 L437.6,3528.2 L439.6,3527.1 L441.6,3527.3 L443.6,3526.0 L445.6,3524.2 L447.6,3524.9 L449.6,3524.0 L451.6,3522.6 L453.6,3522.1 L455.6,3521.9 L457.6,3520.9 L459.6,3518.9 L461.6,3517.4 L463.6,3516.6 L465.6,3516.2 L467.6,3515.4 L469.6,3513.8 L471.6,3513.4 L473.6,3512.4 L475.6,3510.9 L477.6,3510.1 L479.6,3509.5 L481.6,3509.3 L483.6,3508.9 L485.6,3508.5 L487.6,3507.7 L489.6,3506.9 L491.6,3507.0 L493.6,3506.3 L495.6,3505.2 L497.6,3505.6 L499.6,3506.6 L501.6,3505.9 L503.6,3504.8 L505.6,3505.2 L507.6,3505.8 L509.6,3504.9 L511.6,3505.1 L513.6,3504.7 L515.6,3503.7 L517.6,3503.8 L519.6,3504.4 L521.6,3503.6 L523.6,3502.6 L525.6,3502.4 L527.6,3501.9 L529.6,3501.4 L531.6,3500.8 L533.6,3500.4 L535.6,3500.1 L537.6,3499.6 L539.6,3499.3 L541.6,3500.1 L543.6,3500.6 L545.6,3499.7 L547.6,3498.8 L549.6,3499.4 L551.6,3498.4 L553.6,3498.4 L555.6,3498.3 L557.6,3498.3 L559.6,3499.6 L561.6,3499.7 L563.6,3499.7 L565.6,3500.3 L567.6,3501.0 L569.6,3500.7 L571.6,3500.6 L573.6,3500.4 L575.6,3500.8 L577.6,3501.0 L579.6,3501.6 L581.6,3501.8 L583.6,3501.7 L585.6,3502.0 L587.6,3502.3 L589.6,3502.4 L591.6,3503.0 L593.6,3503.3 L595.6,3503.9 L597.6,3504.8 L599.6,3505.5 L601.6,3505.7 L603.6,3505.9 L605.6,3507.5 L607.6,3508.8 L609.6,3509.9 L611.6,3510.5 L613.6,3511.0 L615.6,3511.8 L617.6,3513.0 L619.6,3514.4 L621.6,3515.2 L623.6,3515.8 L625.6,3516.2 L627.6,3517.7 L629.6,3518.9 L631.6,3519.1 L633.6,3520.1 L635.6,3521.0 L637.6,3522.2 L639.6,3523.3 L641.6,3523.5 L643.6,3524.6 L645.6,3526.0 L647.6,3526.9 L649.6,3527.4 L651.6,3528.4 L653.6,3530.4 L655.6,3531.4 L657.6,3531.8 L659.6,3532.7 L661.6,3532.8 L663.6,3534.4 L665.6,3536.5 L667.6,3538.0 L669.6,3538.6 L671.6,3539.4 L673.6,3540.4 L675.6,3542.0 L677.6,3542.9 L679.6,3543.6 L681.6,3544.8 L683.6,3546.8 L685.6,3548.9 L687.6,3550.9 L689.6,3553.2 L691.6,3556.7 L693.6,3558.8 L695.6,3560.4 L697.6,3562.5 L699.6,3565.2 L701.6,3568.4 L703.6,3569.9 L705.6,3572.5 L707.6,3575.2 L709.6,3576.9 L711.6,3578.9 L713.6,3581.6 L715.6,3584.7 L717.6,3586.8 L719.6,3589.6 L721.6,3591.6 L723.6,3594.3 L725.6,3597.4 L727.6,3600.9 L729.6,3605.1 L731.6,3610.1 L733.6,3615.5 L735.6,3620.7 L737.6,3626.3 L739.6,3631.8 L741.6,3636.5 L743.6,3640.7 L745.6,3648.0 L747.6,3656.7 L749.6,3661.2 L751.6,3663.5 L753.6,3675.7 L755.6,3681.8 L757.6,3682.6 L759.6,3687.2 L761.6,3694.9 L763.6,3704.9 L765.6,3704.7 L767.6,3698.8 L769.6,3707.5 L771.6,3714.1 L773.6,3722.4 L775.6,3731.4 L777.6,3737.8 L779.6,3742.7 L781.6,3748.5 L783.6,3756.0 L785.6,3760.4 L787.6,3761.6 L789.6,3770.0 L791.6,3778.2 L793.6,3784.6 L795.6,3791.4 L797.6,3798.8 L799.6,3805.5 L801.6,3812.3 L803.6,3820.1 L805.6,3826.5 L807.6,3832.7 L809.6,3841.4 L811.6,3851.1 L813.6,3861.3 L815.6,3870.9 L817.6,3876.6 L819.6,3880.0 L821.6,3886.3 L823.6,3894.2 L825.6,3902.8 L827.6,3911.1 L829.6,3920.2 L831.6,3929.5 L833.6,3937.4 L835.6,3945.3 L837.6,3953.9 L839.6,3961.3 L841.6,3969.3 L843.6,3977.2 L845.6,3984.7 L847.6,3991.6 L849.6,3998.9 L851.6,4006.4 L853.6,4013.2 L855.6,4019.8 L857.6,4027.8 L859.6,4036.0 L861.6,4043.6 L863.6,4050.3 L865.6,4057.0 L867.6,4063.1 L869.6,4069.2 L871.6,4076.3 L873.6,4081.4 L875.6,4086.4 L877.6,4092.7 L879.6,4098.0 L881.6,4102.9 L883.6,4107.8 L885.6,4112.1 L887.6,4116.6 L889.6,4121.6 L891.6,4125.9 L893.6,4130.1 L895.6,4134.4 L897.6,4137.5 L899.6,4141.7 L901.6,4144.9 L903.6,4148.1 L905.6,4151.5 L907.6,4154.9 L909.6,4158.2 L911.6,4160.3 L913.6,4162.3 L915.6,4164.4 L917.6,4167.4 L919.6,4169.9 L921.6,4172.1 L923.6,4174.4 L925.6,4176.7 L927.6,4179.4 L929.6,4180.9 L931.6,4182.9 L933.6,4185.2 L935.6,4186.4 L937.6,4188.1 L939.6,4190.6 L941.6,4192.8 L943.6,4193.5 L945.6,4195.3 L947.6,4196.9 L949.6,4198.1 L951.6,4199.8 L953.6,4200.7 L955.6,4201.2 L957.6,4202.7 L959.6,4203.6 L961.6,4204.7 L963.6,4205.7 L965.6,4206.5 L967.6,4208.2 L969.6,4208.4 L971.6,4209.0 L973.6,4210.2 L975.6,4210.5 L977.6,4211.4 L979.6,4213.1 L981.6,4213.1 L983.6,4212.9 L985.6,4213.7 L987.6,4214.6 L989.6,4215.1 L991.6,4215.5 L993.6,4216.4 L995.6,4217.3 L997.6,4217.9 L999.6,4218.2 L1001.6,4219.0 L1003.6,4219.3 L1005.6,4219.1 L1007.6,4220.0 L1009.6,4221.3 L1011.6,4220.8 L1013.6,4221.0 L1015.6,4221.5 L1017.6,4221.8 L1019.6,4222.5 L1021.6,4222.7 L1023.6,4223.1 L1025.6,4224.8 L1027.6,4224.5 L1029.6,4223.8 L1031.6,4224.2 L1033.6,4225.1 L1035.6,4225.7 L1037.6,4226.1 L1039.6,4226.3 L1041.6,4226.4 L1043.6,4226.1 L1045.6,4227.0 L1047.6,4227.5 L1049.6,4227.4 L1051.6,4227.9 L1053.6,4228.5 L1055.6,4229.3 L1057.6,4228.7 L1059.6,4228.5 L1061.6,4228.9 L1063.6,4229.5 L1065.6,4229.3 L1067.6,4229.5 L1069.6,4230.1 L1071.6,4230.8 L1073.6,4230.5 L1075.6,4229.3 L1077.6,4229.9 L1079.6,4231.0 L1081.6,4231.4 L1083.6,4231.5 L1085.6,4231.0 L1087.6,4231.3 L1089.6,4232.5 L1091.6,4233.3 L1093.6,4232.8 L1095.6,4233.0 L1097.6,4233.6 L1099.6,4233.3 L1101.6,4232.9 L1103.6,4233.4 L1105.6,4233.8 L1107.6,4233.8 L1109.6,4234.4 L1111.6,4234.8 L1113.6,4235.3 L1115.6,4235.0 L1117.6,4235.1 L1119.6,4235.0 L1121.6,4234.9 L1123.6,4235.5 L1125.6,4235.8 L1127.6,4235.6 L1129.6,4236.0 L1131.6,4237.8 L1133.6,4238.6 L1135.6,4237.4 L1137.6,4236.6 L1139.6,4236.8 L1141.6,4236.4 L1143.6,4236.4 L1145.6,4236.4 L1147.6,4236.3 L1149.6,4236.2 L1151.6,4237.3 L1153.6,4238.4 L1155.6,4237.4 L1157.6,4236.9 L1159.6,4236.7 L1161.6,4237.7 L1163.6,4238.2 L1165.6,4238.4 L1167.6,4238.6 L1169.6,4239.1 L1171.6,4238.5 L1173.6,4239.2 L1175.6,4240.2 L1177.6,4240.3 L1179.6,4240.4 L1181.6,4239.7 L1183.6,4239.4 L1185.6,4239.6 L1187.6,4239.9 L1189.6,4240.6 L1191.6,4241.0 L1193.6,4241.0 L1195.6,4241.6 L1197.6,4241.2 L1199.6,4241.8 L1201.6,4242.0 L1203.6,4242.2 L1205.6,4242.5 L1207.6,4242.1 L1209.6,4241.1 L1211.6,4240.5 L1213.6,4239.8 L1215.6,4239.1 L1217.6,4238.1 L1219.6,4237.8 L1221.6,4238.6 L1223.6,4239.2 L1225.6,4238.9 L1227.6,4239.3 L1229.6,4239.8 L1231.6,4240.8 L1233.6,4241.2 L1235.6,4241.4 L1237.6,4242.5 L1239.6,4243.9 L1241.6,4243.6 L1243.6,4243.7 L1245.6,4244.2 L1247.6,4244.2 L1249.6,4244.3 L1251.6,4244.4 L1253.6,4245.1 L1255.6,4245.3 L1257.6,4245.8 L1259.6,4246.1 L1261.6,4246.3 L1263.6,4246.3 L1265.6,4246.1 L1267.6,4246.6 L1269.6,4246.5 L1271.6,4246.9 L1273.6,4247.9 L1275.6,4248.0 L1277.6,4247.8 L1279.6,4247.8 L1281.6,4247.9 L1283.6,4247.8 L1285.6,4247.9 L1287.6,4248.6 L1289.6,4248.4 L1291.6,4248.6 L1293.6,4249.5 L1295.6,4249.9 L1297.6,4249.6 L1299.6,4250.0 L1301.6,4249.9 L1303.6,4250.9 L1305.6,4250.9 L1307.6,4250.6 L1309.6,4250.8 L1311.6,4251.2 L1313.6,4251.4 L1315.6,4251.8 L1317.6,4251.8 L1319.6,4252.0 L1321.6,4251.2 L1323.6,4252.3 L1325.6,4253.1 L1327.6,4252.4 L1329.6,4252.8 L1331.6,4252.6 L1333.6,4253.0 L1335.6,4253.1 L1337.6,4253.1 L1339.6,4253.5 L1341.6,4253.7 L1343.6,4253.3 L1345.6,4254.0 L1347.6,4253.9 L1349.6,4253.9 L1351.6,4254.7 L1353.6,4254.2 L1355.6,4254.0 L1357.6,4255.1 L1359.6,4255.3 L1361.6,4255.1 L1363.6,4255.4 L1365.6,4255.4 L1367.6,4254.5 L1369.6,4254.3 L1371.6,4255.8 L1373.6,4256.4 L1375.6,4256.2 L1377.6,4257.0 L1379.6,4257.3 L1381.6,4257.7 L1383.6,4257.3 L1385.6,4257.2 L1387.6,4257.7 L1389.6,4257.5 L1391.6,4258.0 L1393.6,4258.6 L1395.6,4258.2 L1397.6,4258.2 L1399.6,4258.3 L1401.6,4258.4 L1403.6,4258.5 L1405.6,4257.8 L1407.6,4258.7 L1409.6,4258.7 L1411.6,4258.4 L1413.6,4258.7 L1415.6,4258.4 L1417.6,4258.8 L1419.6,4259.1 L1421.6,4259.9 L1423.6,4260.3 L1425.6,4260.0 L1427.6,4260.1 L1429.6,4259.6 L1431.6,4259.4 L1433.6,4259.1 L1435.6,4259.4 L1437.6,4259.6 L1439.6,4259.9 L1441.6,4260.1 L1443.6,4260.9 L1445.6,4260.6 L1447.6,4260.1 L1449.6,4259.5 L1451.6,4260.1 L1453.6,4260.0 L1455.6,4260.9 L1457.6,4261.6 L1459.6,4261.4 L1461.6,4260.5 L1463.6,4260.4 L1465.6,4260.8 L1467.6,4261.1 L1469.6,4261.8 L1471.6,4262.4 L1473.6,4262.4 L1475.6,4263.0 L1477.6,4263.8 L1479.6,4263.5 L1481.6,4263.2 L1483.6,4263.3 L1485.6,4264.1 L1487.6,4264.0 L1489.6,4264.0 L1491.6,4264.0 L1493.6,4263.7 L1495.6,4263.2 L1497.6,4264.6 L1499.6,4265.9 L1501.6,4266.2 L1503.6,4266.1 L1505.6,4265.4 L1507.6,4265.1 L1509.6,4264.7 L1511.6,4265.0 L1513.6,4265.9 L1515.6,4266.0 L1517.6,4265.8 L1519.6,4265.4 L1521.6,4265.4 L1523.6,4266.1 L1525.6,4267.5 L1527.6,4267.6 L1529.6,4267.7 L1531.6,4268.0 L1533.6,4267.2 L1535.6,4266.2 L1537.6,4266.8 L1539.6,4267.7 L1541.6,4267.5 L1543.6,4266.8 L1545.6,4266.2 L1547.6,4266.4 L1549.6,4266.9 L1551.6,4266.7 L1553.6,4266.9 L1555.6,4266.7 L1557.6,4266.9 L1559.6,4267.4 L1561.6,4267.1 L1563.6,4266.4 L1565.6,4266.6 L1567.6,4266.6 L1569.6,4266.3 L1571.6,4266.6 L1573.6,4267.0 L1575.6,4267.0 L1577.6,4266.8 L1579.6,4266.6 L1581.6,4266.0 L1583.6,4266.2 L1585.6,4266.6 L1587.6,4266.9 L1589.6,4266.1 L1591.6,4266.5 L1593.6,4266.3 L1595.6,4266.6 L1597.6,4266.9 L1599.6,4266.8 L1601.6,4266.2 L1603.6,4266.9 L1605.6,4267.3 L1607.6,4266.8 L1609.6,4266.9 L1611.6,4266.9 L1613.6,4266.5 L1615.6,4267.1 L1617.6,4266.6 L1619.6,4266.2 L1621.6,4267.4 L1623.6,4267.8 L1625.6,4267.9 L1627.6,4268.3 L1629.6,4268.4 L1631.6,4268.7 L1633.6,4268.2 L1635.6,4268.3 L1637.6,4268.8 L1639.6,4268.8 L1641.6,4268.2 L1643.6,4269.1 L1645.6,4270.0 L1647.6,4269.9 L1649.6,4269.9 L1651.6,4269.5 L1653.6,4269.9 L1655.6,4269.8 L1657.6,4269.4 L1659.6,4269.4 L1661.6,4270.4 L1663.6,4271.3 L1665.6,4271.2 L1667.6,4271.4 L1669.6,4270.8 L1671.6,4271.2 L1673.6,4271.8 L1675.6,4270.1 L1677.6,4269.7 L1679.6,4270.8 L1681.6,4271.6 L1683.6,4271.5 L1685.6,4270.6 L1687.6,4270.6 L1689.6,4270.6 L1691.6,4270.5 L1693.6,4270.2 L1695.6,4270.2 L1697.6,4270.6 L1699.6,4270.4 L1701.6,4270.2 L1703.6,4269.8 L1705.6,4269.6 L1707.6,4269.9 L1709.6,4269.8 L1711.6,4269.7 L1713.6,4269.6 L1715.6,4270.2 L1717.6,4270.8 L1719.6,4270.4 L1721.6,4269.7 L1723.6,4269.9 L1725.6,4270.5 L1727.6,4270.6 L1729.6,4270.5 L1731.6,4270.4 L1733.6,4269.9 L1735.6,4269.9 L1737.6,4270.9 L1739.6,4270.8 L1741.6,4270.8 L1743.6,4271.8 L1745.6,4271.6 L1747.6,4271.2 L1749.6,4271.7 L1751.6,4272.9 L1753.6,4273.0 L1755.6,4271.9 L1757.6,4271.0 L1759.6,4271.4 L1761.6,4272.0 L1763.6,4273.0 L1765.6,4274.1 L1767.6,4274.1 L1769.6,4273.7 L1771.6,4273.3 L1773.6,4273.4 L1775.6,4274.1 L1777.6,4275.1 L1779.6,4275.2 L1781.6,4274.4 L1783.6,4275.2 L1785.6,4275.8 L1787.6,4275.7 L1789.0,4275.3" fill="none" stroke="#00cbcc" stroke-width="10.2" stroke-linejoin="round" stroke-linecap="butt"/>
<rect x="1406.7" y="3376" width="377.29999999999995" height="598.5999999999999" fill="#fff" stroke="#000" stroke-width="2"/>
<rect x="1781" y="3372" width="7" height="628" fill="#000"/>
<rect x="1300" y="3372" width="488" height="6" fill="#000"/>
<rect x="1400.5" y="3412.7" width="164.5" height="26" fill="#515151"/>
<text transform="translate(1568 3446.2) scale(1.037 1)" font-family='"Liberation Sans", Arial, Helvetica, sans-serif' font-size="64.2" font-weight="bold" text-anchor="start" fill="#000">x=0</text>
<rect x="1413.7" y="3496.9" width="137.9" height="26" fill="#f14040"/>
<text transform="translate(1568 3530.4) scale(1.037 1)" font-family='"Liberation Sans", Arial, Helvetica, sans-serif' font-size="64.2" font-weight="bold" text-anchor="start" fill="#000">x=0.01</text>
<rect x="1413.7" y="3581.1" width="137.9" height="26" fill="#1a6fdf"/>
<text transform="translate(1568 3614.6) scale(1.037 1)" font-family='"Liberation Sans", Arial, Helvetica, sans-serif' font-size="64.2" font-weight="bold" text-anchor="start" fill="#000">x=0.03</text>
<rect x="1413.7" y="3665.3" width="137.9" height="26" fill="#37ad6b"/>
<text transform="translate(1568 3698.8) scale(1.037 1)" font-family='"Liberation Sans", Arial, Helvetica, sans-serif' font-size="64.2" font-weight="bold" text-anchor="start" fill="#000">x=0.05</text>
<rect x="1413.7" y="3749.5" width="137.9" height="26" fill="#b177de"/>
<text transform="translate(1568 3783) scale(1.037 1)" font-family='"Liberation Sans", Arial, Helvetica, sans-serif' font-size="64.2" font-weight="bold" text-anchor="start" fill="#000">x=0.07</text>
<rect x="1413.7" y="3833.7" width="137.9" height="26" fill="#cc9900"/>
<text transform="translate(1568 3867.2) scale(1.037 1)" font-family='"Liberation Sans", Arial, Helvetica, sans-serif' font-size="64.2" font-weight="bold" text-anchor="start" fill="#000">x=0.09</text>
<rect x="1413.7" y="3917.9" width="137.9" height="26" fill="#00cbcc"/>
<text transform="translate(1568 3951.4) scale(1.037 1)" font-family='"Liberation Sans", Arial, Helvetica, sans-serif' font-size="64.2" font-weight="bold" text-anchor="start" fill="#000">x=0.11</text>
</svg></body></html>
